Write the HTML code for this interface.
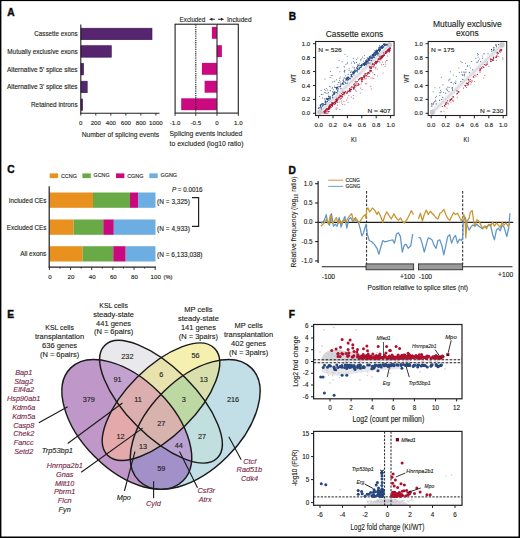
<!DOCTYPE html>
<html><head><meta charset="utf-8"><style>
html,body{margin:0;padding:0;background:#fff;}
body{width:520px;height:538px;overflow:hidden;position:relative;}
svg{position:absolute;left:0;top:0;font-family:"Liberation Sans", sans-serif;}
text{stroke:#231f20;stroke-width:0.13px;}
</style></head><body>
<svg width="520" height="538" viewBox="0 0 520 538">
<rect x="0" y="0" width="520" height="538" fill="#fff"/>
<text x="7.3" y="15.5" font-size="10.2" font-weight="bold" fill="#000" stroke="#000" style="stroke-width:0.45px">A</text>
<text x="77.6" y="36.1" font-size="6.9" text-anchor="end" fill="#231f20" textLength="43.3" lengthAdjust="spacingAndGlyphs">Cassette exons</text>
<text x="77.6" y="54.0" font-size="6.9" text-anchor="end" fill="#231f20" textLength="70.3" lengthAdjust="spacingAndGlyphs">Mutually exclusive exons</text>
<text x="77.6" y="71.6" font-size="6.9" text-anchor="end" fill="#231f20" textLength="70.7" lengthAdjust="spacingAndGlyphs">Alternative 5' splice sites</text>
<text x="77.6" y="89.3" font-size="6.9" text-anchor="end" fill="#231f20" textLength="70.7" lengthAdjust="spacingAndGlyphs">Alternative 3' splice sites</text>
<text x="77.6" y="106.8" font-size="6.9" text-anchor="end" fill="#231f20" textLength="46.6" lengthAdjust="spacingAndGlyphs">Retained introns</text>
<rect x="81" y="28.2" width="71.0" height="11.5" fill="#57246f" stroke="#3b1650" stroke-width="0.6"/>
<rect x="81" y="45.7" width="30.299999999999997" height="11.5" fill="#57246f" stroke="#3b1650" stroke-width="0.6"/>
<rect x="81" y="63.4" width="2.5999999999999943" height="11.5" fill="#57246f" stroke="#3b1650" stroke-width="0.6"/>
<rect x="81" y="81.2" width="6.200000000000003" height="11.5" fill="#57246f" stroke="#3b1650" stroke-width="0.6"/>
<rect x="81" y="99.0" width="1.5999999999999943" height="11.5" fill="#57246f" stroke="#3b1650" stroke-width="0.6"/>
<line x1="80.8" y1="24.5" x2="80.8" y2="113.8" stroke="#231f20" stroke-width="1.1"/>
<line x1="80.3" y1="113.3" x2="159.5" y2="113.3" stroke="#231f20" stroke-width="1.1"/>
<line x1="80.8" y1="113.3" x2="80.8" y2="115.6" stroke="#231f20" stroke-width="0.9"/>
<text x="80.8" y="125.1" font-size="6.1" text-anchor="middle" fill="#231f20">0</text>
<line x1="95.82" y1="113.3" x2="95.82" y2="115.6" stroke="#231f20" stroke-width="0.9"/>
<text x="95.82" y="125.1" font-size="6.1" text-anchor="middle" fill="#231f20">200</text>
<line x1="110.84" y1="113.3" x2="110.84" y2="115.6" stroke="#231f20" stroke-width="0.9"/>
<text x="110.84" y="125.1" font-size="6.1" text-anchor="middle" fill="#231f20">400</text>
<line x1="125.86" y1="113.3" x2="125.86" y2="115.6" stroke="#231f20" stroke-width="0.9"/>
<text x="125.86" y="125.1" font-size="6.1" text-anchor="middle" fill="#231f20">600</text>
<line x1="140.88" y1="113.3" x2="140.88" y2="115.6" stroke="#231f20" stroke-width="0.9"/>
<text x="140.88" y="125.1" font-size="6.1" text-anchor="middle" fill="#231f20">800</text>
<line x1="155.89999999999998" y1="113.3" x2="155.89999999999998" y2="115.6" stroke="#231f20" stroke-width="0.9"/>
<text x="155.89999999999998" y="125.1" font-size="6.1" text-anchor="middle" fill="#231f20">1000</text>
<text x="120.4" y="137.3" font-size="8" text-anchor="middle" fill="#231f20" textLength="77.5" lengthAdjust="spacingAndGlyphs">Number of splicing events</text>
<text x="179.6" y="21.5" font-size="7" fill="#231f20" textLength="25.7" lengthAdjust="spacingAndGlyphs">Excluded</text>
<text x="227" y="21.5" font-size="7" fill="#231f20" textLength="24.6" lengthAdjust="spacingAndGlyphs">Included</text>
<path d="M209,19.25 L212.3,17.7 L212.3,20.8 Z M224.2,19.25 L220.9,17.7 L220.9,20.8 Z" fill="#231f20"/><path d="M211.5,19.25 H214.8 M218.1,19.25 H221.5" stroke="#231f20" stroke-width="1"/>
<rect x="211.9" y="26.9" width="5.0" height="11.9" fill="#cc0a80"/>
<rect x="216.9" y="45.2" width="5.0" height="11.9" fill="#cc0a80"/>
<rect x="201.9" y="62.9" width="15.0" height="11.9" fill="#cc0a80"/>
<rect x="204.6" y="80.8" width="12.300000000000011" height="11.9" fill="#cc0a80"/>
<rect x="181.2" y="98.3" width="35.70000000000002" height="11.9" fill="#cc0a80"/>
<rect x="175.1" y="24.2" width="63.2" height="88.9" fill="none" stroke="#231f20" stroke-width="1.1"/>
<line x1="195.8" y1="24.5" x2="195.8" y2="113" stroke="#231f20" stroke-width="1.1" stroke-dasharray="1.3,0.9"/>
<line x1="217" y1="24.2" x2="217" y2="113.1" stroke="#231f20" stroke-width="1.1"/>
<line x1="175.1" y1="113.1" x2="175.1" y2="115.9" stroke="#231f20" stroke-width="0.9"/>
<text x="175.1" y="125.1" font-size="6.1" text-anchor="middle" fill="#231f20">-1.0</text>
<line x1="195.8" y1="113.1" x2="195.8" y2="115.9" stroke="#231f20" stroke-width="0.9"/>
<text x="195.8" y="125.1" font-size="6.1" text-anchor="middle" fill="#231f20">-0.5</text>
<line x1="217" y1="113.1" x2="217" y2="115.9" stroke="#231f20" stroke-width="0.9"/>
<text x="217" y="125.1" font-size="6.1" text-anchor="middle" fill="#231f20">0</text>
<line x1="238.3" y1="113.1" x2="238.3" y2="115.9" stroke="#231f20" stroke-width="0.9"/>
<text x="238.3" y="125.1" font-size="6.1" text-anchor="middle" fill="#231f20">1.0</text>
<text x="169.6" y="136.3" font-size="8" fill="#231f20" textLength="72.7" lengthAdjust="spacingAndGlyphs">Splicing events included</text>
<text x="169.6" y="145.7" font-size="8" fill="#231f20" textLength="73.9" lengthAdjust="spacingAndGlyphs">to excluded (log10 ratio)</text>
<text x="288.8" y="20.3" font-size="10.2" font-weight="bold" fill="#000" stroke="#000" style="stroke-width:0.45px">B</text>
<clipPath id="clipb1"><rect x="315.6" y="41.5" width="78.5" height="74.0"/></clipPath>
<g clip-path="url(#clipb1)">
<line x1="319.6" y1="112.3" x2="389.6" y2="44.7" stroke="#f1f1f4" stroke-width="5" stroke-linecap="round"/>
<line x1="319.6" y1="112.3" x2="389.6" y2="44.7" stroke="#dcdce2" stroke-width="2.2" stroke-linecap="round"/>
<circle cx="319.8" cy="112.1" r="2.6" fill="#c9c9cf"/><circle cx="389.40000000000003" cy="44.900000000000006" r="2.6" fill="#c9c9cf"/>
<circle cx="384.3" cy="44.8" r="0.6" fill="#23467f"/>
<circle cx="375.2" cy="54.8" r="0.6" fill="#23467f"/>
<circle cx="333.0" cy="94.3" r="0.6" fill="#23467f"/>
<circle cx="347.9" cy="78.2" r="0.6" fill="#23467f"/>
<circle cx="336.7" cy="87.5" r="0.6" fill="#23467f"/>
<circle cx="346.5" cy="79.4" r="0.6" fill="#23467f"/>
<circle cx="373.4" cy="54.5" r="0.6" fill="#23467f"/>
<circle cx="375.6" cy="53.1" r="0.6" fill="#23467f"/>
<circle cx="369.1" cy="59.3" r="0.6" fill="#23467f"/>
<circle cx="363.3" cy="63.7" r="0.6" fill="#23467f"/>
<circle cx="351.5" cy="75.5" r="0.6" fill="#23467f"/>
<circle cx="359.4" cy="67.9" r="0.6" fill="#23467f"/>
<circle cx="371.9" cy="57.3" r="0.6" fill="#23467f"/>
<circle cx="348.8" cy="79.6" r="0.6" fill="#23467f"/>
<circle cx="354.5" cy="72.6" r="0.6" fill="#23467f"/>
<circle cx="357.8" cy="67.0" r="0.6" fill="#23467f"/>
<circle cx="377.5" cy="50.5" r="0.6" fill="#23467f"/>
<circle cx="347.4" cy="78.6" r="0.6" fill="#23467f"/>
<circle cx="377.3" cy="52.2" r="0.6" fill="#23467f"/>
<circle cx="375.4" cy="55.5" r="0.6" fill="#23467f"/>
<circle cx="383.4" cy="47.2" r="0.6" fill="#23467f"/>
<circle cx="364.4" cy="64.3" r="0.6" fill="#23467f"/>
<circle cx="379.9" cy="47.4" r="0.6" fill="#23467f"/>
<circle cx="367.9" cy="61.0" r="0.6" fill="#23467f"/>
<circle cx="343.7" cy="84.2" r="0.6" fill="#23467f"/>
<circle cx="377.4" cy="52.3" r="0.6" fill="#23467f"/>
<circle cx="336.6" cy="88.7" r="0.6" fill="#23467f"/>
<circle cx="357.3" cy="71.8" r="0.6" fill="#23467f"/>
<circle cx="350.9" cy="76.8" r="0.6" fill="#23467f"/>
<circle cx="385.2" cy="44.6" r="0.6" fill="#23467f"/>
<circle cx="321.2" cy="107.5" r="0.6" fill="#23467f"/>
<circle cx="372.1" cy="56.8" r="0.6" fill="#23467f"/>
<circle cx="379.5" cy="50.8" r="0.6" fill="#23467f"/>
<circle cx="369.7" cy="60.0" r="0.6" fill="#23467f"/>
<circle cx="377.1" cy="50.3" r="0.6" fill="#23467f"/>
<circle cx="358.9" cy="69.6" r="0.6" fill="#23467f"/>
<circle cx="384.3" cy="45.1" r="0.6" fill="#23467f"/>
<circle cx="364.2" cy="64.8" r="0.6" fill="#23467f"/>
<circle cx="320.7" cy="104.9" r="0.6" fill="#23467f"/>
<circle cx="364.7" cy="62.7" r="0.6" fill="#23467f"/>
<circle cx="376.2" cy="52.2" r="0.6" fill="#23467f"/>
<circle cx="325.4" cy="100.9" r="0.6" fill="#23467f"/>
<circle cx="374.5" cy="53.0" r="0.6" fill="#23467f"/>
<circle cx="368.1" cy="60.4" r="0.6" fill="#23467f"/>
<circle cx="386.1" cy="44.1" r="0.6" fill="#23467f"/>
<circle cx="333.8" cy="93.8" r="0.6" fill="#23467f"/>
<circle cx="363.3" cy="63.8" r="0.6" fill="#23467f"/>
<circle cx="379.9" cy="47.4" r="0.6" fill="#23467f"/>
<circle cx="327.5" cy="99.1" r="0.6" fill="#23467f"/>
<circle cx="348.2" cy="74.3" r="0.6" fill="#23467f"/>
<circle cx="380.2" cy="50.3" r="0.6" fill="#23467f"/>
<circle cx="378.5" cy="49.4" r="0.6" fill="#23467f"/>
<circle cx="369.5" cy="56.5" r="0.6" fill="#23467f"/>
<circle cx="384.9" cy="44.9" r="0.6" fill="#23467f"/>
<circle cx="364.6" cy="65.4" r="0.6" fill="#23467f"/>
<circle cx="337.0" cy="87.4" r="0.6" fill="#23467f"/>
<circle cx="321.5" cy="108.9" r="0.6" fill="#23467f"/>
<circle cx="362.3" cy="65.0" r="0.6" fill="#23467f"/>
<circle cx="372.9" cy="57.5" r="0.6" fill="#23467f"/>
<circle cx="380.5" cy="49.4" r="0.6" fill="#23467f"/>
<circle cx="379.7" cy="49.0" r="0.6" fill="#23467f"/>
<circle cx="376.5" cy="53.7" r="0.6" fill="#23467f"/>
<circle cx="336.0" cy="87.4" r="0.6" fill="#23467f"/>
<circle cx="370.4" cy="56.0" r="0.6" fill="#23467f"/>
<circle cx="368.9" cy="60.0" r="0.6" fill="#23467f"/>
<circle cx="333.6" cy="92.8" r="0.6" fill="#23467f"/>
<circle cx="354.9" cy="72.2" r="0.6" fill="#23467f"/>
<circle cx="366.6" cy="59.8" r="0.6" fill="#23467f"/>
<circle cx="342.2" cy="83.7" r="0.6" fill="#23467f"/>
<circle cx="347.3" cy="80.8" r="0.6" fill="#23467f"/>
<circle cx="370.1" cy="57.4" r="0.6" fill="#23467f"/>
<circle cx="360.5" cy="67.6" r="0.6" fill="#23467f"/>
<circle cx="376.9" cy="51.7" r="0.6" fill="#23467f"/>
<circle cx="384.7" cy="44.3" r="0.6" fill="#23467f"/>
<circle cx="358.8" cy="68.9" r="0.6" fill="#23467f"/>
<circle cx="345.7" cy="78.8" r="0.6" fill="#23467f"/>
<circle cx="320.4" cy="105.7" r="0.6" fill="#23467f"/>
<circle cx="351.1" cy="74.7" r="0.6" fill="#23467f"/>
<circle cx="348.9" cy="77.9" r="0.6" fill="#23467f"/>
<circle cx="335.9" cy="87.6" r="0.6" fill="#23467f"/>
<circle cx="368.5" cy="58.3" r="0.6" fill="#23467f"/>
<circle cx="347.4" cy="78.3" r="0.6" fill="#23467f"/>
<circle cx="381.5" cy="47.0" r="0.6" fill="#23467f"/>
<circle cx="387.3" cy="44.7" r="0.6" fill="#23467f"/>
<circle cx="343.1" cy="80.5" r="0.6" fill="#23467f"/>
<circle cx="374.4" cy="52.8" r="0.6" fill="#23467f"/>
<circle cx="363.2" cy="64.1" r="0.6" fill="#23467f"/>
<circle cx="345.1" cy="82.3" r="0.6" fill="#23467f"/>
<circle cx="365.6" cy="63.9" r="0.6" fill="#23467f"/>
<circle cx="361.6" cy="64.5" r="0.6" fill="#23467f"/>
<circle cx="378.8" cy="50.4" r="0.6" fill="#23467f"/>
<circle cx="351.3" cy="75.9" r="0.6" fill="#23467f"/>
<circle cx="377.8" cy="53.1" r="0.6" fill="#23467f"/>
<circle cx="369.1" cy="58.6" r="0.6" fill="#23467f"/>
<circle cx="348.1" cy="77.6" r="0.6" fill="#23467f"/>
<circle cx="329.3" cy="96.8" r="0.6" fill="#23467f"/>
<circle cx="371.9" cy="57.4" r="0.6" fill="#23467f"/>
<circle cx="383.9" cy="44.4" r="0.6" fill="#23467f"/>
<circle cx="377.3" cy="52.4" r="0.6" fill="#23467f"/>
<circle cx="328.9" cy="98.4" r="0.6" fill="#23467f"/>
<circle cx="365.2" cy="63.1" r="0.6" fill="#23467f"/>
<circle cx="382.5" cy="45.7" r="0.6" fill="#23467f"/>
<circle cx="384.2" cy="44.0" r="0.6" fill="#23467f"/>
<circle cx="338.1" cy="86.5" r="0.6" fill="#23467f"/>
<circle cx="340.9" cy="84.4" r="0.6" fill="#23467f"/>
<circle cx="347.1" cy="83.1" r="0.6" fill="#23467f"/>
<circle cx="375.7" cy="52.2" r="0.6" fill="#23467f"/>
<circle cx="340.7" cy="85.8" r="0.6" fill="#23467f"/>
<circle cx="338.2" cy="88.9" r="0.6" fill="#23467f"/>
<circle cx="358.9" cy="65.0" r="0.6" fill="#23467f"/>
<circle cx="356.3" cy="70.6" r="0.6" fill="#23467f"/>
<circle cx="367.9" cy="61.6" r="0.6" fill="#23467f"/>
<circle cx="330.5" cy="96.9" r="0.6" fill="#23467f"/>
<circle cx="357.5" cy="68.6" r="0.6" fill="#23467f"/>
<circle cx="376.4" cy="51.7" r="0.6" fill="#23467f"/>
<circle cx="372.5" cy="57.5" r="0.6" fill="#23467f"/>
<circle cx="364.7" cy="64.8" r="0.6" fill="#23467f"/>
<circle cx="366.6" cy="61.3" r="0.6" fill="#23467f"/>
<circle cx="346.7" cy="78.8" r="0.6" fill="#23467f"/>
<circle cx="378.6" cy="50.4" r="0.6" fill="#23467f"/>
<circle cx="375.8" cy="53.0" r="0.6" fill="#23467f"/>
<circle cx="326.0" cy="102.2" r="0.6" fill="#23467f"/>
<circle cx="376.8" cy="54.3" r="0.6" fill="#23467f"/>
<circle cx="369.9" cy="60.4" r="0.6" fill="#23467f"/>
<circle cx="360.1" cy="65.7" r="0.6" fill="#23467f"/>
<circle cx="379.2" cy="49.4" r="0.6" fill="#23467f"/>
<circle cx="385.0" cy="44.1" r="0.6" fill="#23467f"/>
<circle cx="381.9" cy="46.4" r="0.6" fill="#23467f"/>
<circle cx="334.8" cy="93.5" r="0.6" fill="#23467f"/>
<circle cx="380.8" cy="48.4" r="0.6" fill="#23467f"/>
<circle cx="361.0" cy="67.6" r="0.6" fill="#23467f"/>
<circle cx="351.3" cy="74.6" r="0.6" fill="#23467f"/>
<circle cx="377.1" cy="51.0" r="0.6" fill="#23467f"/>
<circle cx="377.2" cy="53.7" r="0.6" fill="#23467f"/>
<circle cx="379.5" cy="45.8" r="0.6" fill="#23467f"/>
<circle cx="352.6" cy="72.9" r="0.6" fill="#23467f"/>
<circle cx="334.4" cy="93.4" r="0.6" fill="#23467f"/>
<circle cx="332.7" cy="97.7" r="0.6" fill="#23467f"/>
<circle cx="346.1" cy="79.0" r="0.6" fill="#23467f"/>
<circle cx="347.7" cy="78.0" r="0.6" fill="#23467f"/>
<circle cx="340.5" cy="86.7" r="0.6" fill="#23467f"/>
<circle cx="371.3" cy="58.4" r="0.6" fill="#23467f"/>
<circle cx="381.5" cy="46.7" r="0.6" fill="#23467f"/>
<circle cx="364.1" cy="64.4" r="0.6" fill="#23467f"/>
<circle cx="328.9" cy="98.0" r="0.6" fill="#23467f"/>
<circle cx="377.3" cy="52.5" r="0.6" fill="#23467f"/>
<circle cx="377.9" cy="51.1" r="0.6" fill="#23467f"/>
<circle cx="356.6" cy="67.8" r="0.6" fill="#23467f"/>
<circle cx="352.3" cy="76.8" r="0.6" fill="#23467f"/>
<circle cx="328.3" cy="98.9" r="0.6" fill="#23467f"/>
<circle cx="369.5" cy="57.2" r="0.6" fill="#23467f"/>
<circle cx="381.1" cy="46.5" r="0.6" fill="#23467f"/>
<circle cx="377.8" cy="55.0" r="0.6" fill="#23467f"/>
<circle cx="323.5" cy="105.0" r="0.6" fill="#23467f"/>
<circle cx="363.6" cy="64.9" r="0.6" fill="#23467f"/>
<circle cx="374.9" cy="54.5" r="0.6" fill="#23467f"/>
<circle cx="353.8" cy="71.3" r="0.6" fill="#23467f"/>
<circle cx="379.8" cy="49.9" r="0.6" fill="#23467f"/>
<circle cx="370.1" cy="58.0" r="0.6" fill="#23467f"/>
<circle cx="334.7" cy="92.1" r="0.6" fill="#23467f"/>
<circle cx="349.5" cy="78.3" r="0.6" fill="#23467f"/>
<circle cx="347.5" cy="78.9" r="0.6" fill="#23467f"/>
<circle cx="369.9" cy="63.0" r="0.6" fill="#23467f"/>
<circle cx="327.6" cy="99.8" r="0.6" fill="#23467f"/>
<circle cx="374.0" cy="54.8" r="0.6" fill="#23467f"/>
<circle cx="385.7" cy="45.5" r="0.6" fill="#23467f"/>
<circle cx="356.8" cy="70.9" r="0.6" fill="#23467f"/>
<circle cx="382.5" cy="47.9" r="0.6" fill="#23467f"/>
<circle cx="325.7" cy="103.1" r="0.6" fill="#23467f"/>
<circle cx="328.6" cy="96.5" r="0.6" fill="#23467f"/>
<circle cx="357.2" cy="70.4" r="0.6" fill="#23467f"/>
<circle cx="352.8" cy="74.3" r="0.6" fill="#23467f"/>
<circle cx="334.5" cy="92.2" r="0.6" fill="#23467f"/>
<circle cx="366.9" cy="60.9" r="0.6" fill="#23467f"/>
<circle cx="365.4" cy="64.5" r="0.6" fill="#23467f"/>
<circle cx="382.4" cy="47.9" r="0.6" fill="#23467f"/>
<circle cx="329.8" cy="98.9" r="0.6" fill="#23467f"/>
<circle cx="368.3" cy="59.6" r="0.6" fill="#23467f"/>
<circle cx="384.3" cy="45.6" r="0.6" fill="#23467f"/>
<circle cx="373.8" cy="57.3" r="0.6" fill="#23467f"/>
<circle cx="379.7" cy="49.6" r="0.6" fill="#23467f"/>
<circle cx="333.8" cy="94.0" r="0.6" fill="#23467f"/>
<circle cx="376.4" cy="50.7" r="0.6" fill="#23467f"/>
<circle cx="382.5" cy="45.8" r="0.6" fill="#23467f"/>
<circle cx="332.8" cy="91.8" r="0.6" fill="#23467f"/>
<circle cx="322.6" cy="104.0" r="0.6" fill="#23467f"/>
<circle cx="382.1" cy="46.8" r="0.6" fill="#23467f"/>
<circle cx="320.1" cy="107.8" r="0.6" fill="#23467f"/>
<circle cx="347.3" cy="77.0" r="0.6" fill="#23467f"/>
<circle cx="322.3" cy="106.0" r="0.6" fill="#23467f"/>
<circle cx="366.3" cy="60.9" r="0.6" fill="#23467f"/>
<circle cx="381.1" cy="46.3" r="0.6" fill="#23467f"/>
<circle cx="381.3" cy="48.1" r="0.6" fill="#23467f"/>
<circle cx="373.9" cy="56.1" r="0.6" fill="#23467f"/>
<circle cx="366.0" cy="62.5" r="0.6" fill="#23467f"/>
<circle cx="335.1" cy="92.1" r="0.6" fill="#23467f"/>
<circle cx="364.8" cy="64.5" r="0.6" fill="#23467f"/>
<circle cx="353.9" cy="75.0" r="0.6" fill="#23467f"/>
<circle cx="383.3" cy="44.3" r="0.6" fill="#23467f"/>
<circle cx="372.6" cy="54.7" r="0.6" fill="#23467f"/>
<circle cx="372.6" cy="55.7" r="0.6" fill="#23467f"/>
<circle cx="348.3" cy="77.1" r="0.6" fill="#23467f"/>
<circle cx="320.8" cy="106.6" r="0.6" fill="#23467f"/>
<circle cx="336.4" cy="92.5" r="0.6" fill="#23467f"/>
<circle cx="337.6" cy="87.6" r="0.6" fill="#23467f"/>
<circle cx="374.3" cy="57.2" r="0.6" fill="#23467f"/>
<circle cx="337.1" cy="92.8" r="0.6" fill="#23467f"/>
<circle cx="336.5" cy="88.1" r="0.6" fill="#23467f"/>
<circle cx="372.0" cy="55.1" r="0.6" fill="#23467f"/>
<circle cx="374.1" cy="53.2" r="0.6" fill="#23467f"/>
<circle cx="366.4" cy="64.8" r="0.6" fill="#23467f"/>
<circle cx="337.9" cy="88.1" r="0.6" fill="#23467f"/>
<circle cx="363.9" cy="63.9" r="0.6" fill="#23467f"/>
<circle cx="332.7" cy="95.8" r="0.6" fill="#23467f"/>
<circle cx="325.8" cy="104.0" r="0.6" fill="#23467f"/>
<circle cx="337.4" cy="90.9" r="0.6" fill="#23467f"/>
<circle cx="324.4" cy="104.3" r="0.6" fill="#23467f"/>
<circle cx="365.7" cy="64.0" r="0.6" fill="#23467f"/>
<circle cx="373.2" cy="54.7" r="0.6" fill="#23467f"/>
<circle cx="378.4" cy="47.9" r="0.6" fill="#23467f"/>
<circle cx="332.4" cy="95.6" r="0.6" fill="#23467f"/>
<circle cx="366.9" cy="63.8" r="0.6" fill="#23467f"/>
<circle cx="350.4" cy="78.7" r="0.6" fill="#23467f"/>
<circle cx="375.1" cy="50.9" r="0.6" fill="#23467f"/>
<circle cx="367.6" cy="62.8" r="0.6" fill="#23467f"/>
<circle cx="336.7" cy="87.8" r="0.6" fill="#23467f"/>
<circle cx="365.7" cy="62.7" r="0.6" fill="#23467f"/>
<circle cx="373.3" cy="56.1" r="0.6" fill="#23467f"/>
<circle cx="322.0" cy="103.5" r="0.6" fill="#23467f"/>
<circle cx="358.0" cy="66.8" r="0.6" fill="#23467f"/>
<circle cx="374.0" cy="54.8" r="0.6" fill="#23467f"/>
<circle cx="371.0" cy="56.0" r="0.6" fill="#23467f"/>
<circle cx="361.9" cy="65.4" r="0.6" fill="#23467f"/>
<circle cx="325.9" cy="101.7" r="0.6" fill="#23467f"/>
<circle cx="354.9" cy="70.5" r="0.6" fill="#23467f"/>
<circle cx="386.5" cy="44.6" r="0.6" fill="#23467f"/>
<circle cx="343.9" cy="81.4" r="0.6" fill="#23467f"/>
<circle cx="365.4" cy="62.1" r="0.6" fill="#23467f"/>
<circle cx="376.4" cy="50.1" r="0.6" fill="#23467f"/>
<circle cx="322.5" cy="104.0" r="0.6" fill="#23467f"/>
<circle cx="372.8" cy="57.1" r="0.6" fill="#23467f"/>
<circle cx="375.4" cy="51.4" r="0.6" fill="#23467f"/>
<circle cx="361.6" cy="66.7" r="0.6" fill="#23467f"/>
<circle cx="357.0" cy="68.5" r="0.6" fill="#23467f"/>
<circle cx="336.9" cy="89.5" r="0.6" fill="#23467f"/>
<circle cx="355.0" cy="71.5" r="0.6" fill="#23467f"/>
<circle cx="354.1" cy="73.6" r="0.6" fill="#23467f"/>
<circle cx="374.1" cy="53.1" r="0.6" fill="#23467f"/>
<circle cx="367.3" cy="61.5" r="0.6" fill="#23467f"/>
<circle cx="327.9" cy="98.7" r="0.6" fill="#23467f"/>
<circle cx="381.7" cy="47.9" r="0.6" fill="#23467f"/>
<circle cx="366.6" cy="63.1" r="0.6" fill="#23467f"/>
<circle cx="370.2" cy="58.9" r="0.6" fill="#23467f"/>
<circle cx="327.2" cy="99.6" r="0.6" fill="#23467f"/>
<circle cx="353.3" cy="72.9" r="0.6" fill="#23467f"/>
<circle cx="384.0" cy="43.9" r="0.6" fill="#23467f"/>
<circle cx="355.1" cy="71.2" r="0.6" fill="#23467f"/>
<circle cx="386.6" cy="45.0" r="0.6" fill="#23467f"/>
<circle cx="348.6" cy="79.3" r="0.6" fill="#23467f"/>
<circle cx="326.6" cy="98.3" r="0.6" fill="#23467f"/>
<circle cx="334.1" cy="94.3" r="0.6" fill="#23467f"/>
<circle cx="343.1" cy="82.3" r="0.6" fill="#23467f"/>
<circle cx="326.1" cy="99.0" r="0.6" fill="#23467f"/>
<circle cx="372.5" cy="54.5" r="0.6" fill="#23467f"/>
<circle cx="348.4" cy="77.4" r="0.6" fill="#23467f"/>
<circle cx="370.1" cy="56.9" r="0.6" fill="#23467f"/>
<circle cx="351.6" cy="76.3" r="0.6" fill="#23467f"/>
<circle cx="328.9" cy="100.2" r="0.6" fill="#23467f"/>
<circle cx="361.6" cy="65.4" r="0.6" fill="#23467f"/>
<circle cx="379.2" cy="50.2" r="0.6" fill="#23467f"/>
<circle cx="377.4" cy="50.5" r="0.6" fill="#23467f"/>
<circle cx="355.0" cy="69.8" r="0.6" fill="#23467f"/>
<circle cx="325.4" cy="104.5" r="0.6" fill="#23467f"/>
<circle cx="353.2" cy="71.4" r="0.6" fill="#23467f"/>
<circle cx="360.4" cy="65.5" r="0.6" fill="#23467f"/>
<circle cx="383.7" cy="46.7" r="0.6" fill="#23467f"/>
<circle cx="382.6" cy="47.8" r="0.6" fill="#23467f"/>
<circle cx="366.4" cy="62.1" r="0.6" fill="#23467f"/>
<circle cx="373.3" cy="54.7" r="0.6" fill="#23467f"/>
<circle cx="384.6" cy="44.6" r="0.6" fill="#23467f"/>
<circle cx="321.7" cy="104.3" r="0.6" fill="#23467f"/>
<circle cx="381.7" cy="47.4" r="0.6" fill="#23467f"/>
<circle cx="325.3" cy="101.7" r="0.6" fill="#23467f"/>
<circle cx="327.5" cy="101.4" r="0.6" fill="#23467f"/>
<circle cx="355.0" cy="70.9" r="0.6" fill="#23467f"/>
<circle cx="342.5" cy="83.2" r="0.6" fill="#23467f"/>
<circle cx="371.6" cy="60.6" r="0.6" fill="#23467f"/>
<circle cx="381.1" cy="47.6" r="0.6" fill="#23467f"/>
<circle cx="340.9" cy="88.6" r="0.6" fill="#23467f"/>
<circle cx="378.2" cy="53.8" r="0.6" fill="#23467f"/>
<circle cx="325.2" cy="102.2" r="0.6" fill="#23467f"/>
<circle cx="318.7" cy="108.4" r="0.6" fill="#23467f"/>
<circle cx="382.4" cy="45.6" r="0.6" fill="#23467f"/>
<circle cx="357.3" cy="69.5" r="0.6" fill="#23467f"/>
<circle cx="380.2" cy="49.4" r="0.6" fill="#23467f"/>
<circle cx="375.7" cy="52.6" r="0.6" fill="#23467f"/>
<circle cx="339.7" cy="86.7" r="0.6" fill="#23467f"/>
<circle cx="345.8" cy="83.4" r="0.6" fill="#23467f"/>
<circle cx="368.8" cy="59.8" r="0.6" fill="#23467f"/>
<circle cx="323.5" cy="103.9" r="0.6" fill="#23467f"/>
<circle cx="353.8" cy="72.6" r="0.6" fill="#23467f"/>
<circle cx="362.0" cy="64.9" r="0.6" fill="#23467f"/>
<circle cx="381.3" cy="46.1" r="0.6" fill="#23467f"/>
<circle cx="342.9" cy="83.6" r="0.6" fill="#23467f"/>
<circle cx="365.7" cy="60.8" r="0.6" fill="#23467f"/>
<circle cx="378.8" cy="53.1" r="0.6" fill="#23467f"/>
<circle cx="379.6" cy="51.5" r="0.6" fill="#23467f"/>
<circle cx="373.9" cy="55.3" r="0.6" fill="#23467f"/>
<circle cx="367.8" cy="58.8" r="0.6" fill="#23467f"/>
<circle cx="375.6" cy="54.3" r="0.6" fill="#23467f"/>
<circle cx="327.0" cy="99.1" r="0.6" fill="#23467f"/>
<circle cx="329.8" cy="97.2" r="0.6" fill="#23467f"/>
<circle cx="360.2" cy="67.1" r="0.6" fill="#23467f"/>
<circle cx="366.0" cy="61.2" r="0.6" fill="#23467f"/>
<circle cx="369.1" cy="58.1" r="0.6" fill="#23467f"/>
<circle cx="327.8" cy="98.7" r="0.6" fill="#23467f"/>
<circle cx="320.7" cy="105.9" r="0.6" fill="#23467f"/>
<circle cx="346.8" cy="77.7" r="0.6" fill="#23467f"/>
<circle cx="364.4" cy="64.8" r="0.6" fill="#23467f"/>
<circle cx="368.2" cy="58.7" r="0.6" fill="#23467f"/>
<circle cx="337.9" cy="90.8" r="0.6" fill="#23467f"/>
<circle cx="363.3" cy="63.6" r="0.6" fill="#23467f"/>
<circle cx="367.0" cy="61.6" r="0.6" fill="#23467f"/>
<circle cx="380.8" cy="47.3" r="0.6" fill="#23467f"/>
<circle cx="364.4" cy="63.4" r="0.6" fill="#23467f"/>
<circle cx="368.4" cy="62.9" r="0.6" fill="#23467f"/>
<circle cx="320.3" cy="104.9" r="0.6" fill="#23467f"/>
<circle cx="322.6" cy="105.8" r="0.6" fill="#23467f"/>
<circle cx="346.0" cy="80.3" r="0.6" fill="#23467f"/>
<circle cx="352.9" cy="72.5" r="0.6" fill="#23467f"/>
<circle cx="348.1" cy="79.8" r="0.6" fill="#23467f"/>
<circle cx="330.4" cy="98.8" r="0.6" fill="#23467f"/>
<circle cx="373.4" cy="55.8" r="0.6" fill="#23467f"/>
<circle cx="353.4" cy="73.5" r="0.6" fill="#23467f"/>
<circle cx="368.0" cy="60.9" r="0.6" fill="#23467f"/>
<circle cx="374.8" cy="55.1" r="0.6" fill="#23467f"/>
<circle cx="376.7" cy="52.5" r="0.6" fill="#23467f"/>
<circle cx="372.9" cy="54.8" r="0.6" fill="#23467f"/>
<circle cx="327.4" cy="99.1" r="0.6" fill="#23467f"/>
<circle cx="384.4" cy="45.1" r="0.6" fill="#23467f"/>
<circle cx="372.2" cy="58.7" r="0.6" fill="#23467f"/>
<circle cx="319.1" cy="107.3" r="0.6" fill="#23467f"/>
<circle cx="342.6" cy="83.9" r="0.6" fill="#23467f"/>
<circle cx="359.5" cy="68.6" r="0.6" fill="#23467f"/>
<circle cx="373.6" cy="53.8" r="0.6" fill="#23467f"/>
<circle cx="379.3" cy="48.5" r="0.6" fill="#23467f"/>
<circle cx="350.7" cy="72.3" r="0.6" fill="#23467f"/>
<circle cx="353.4" cy="72.9" r="0.6" fill="#23467f"/>
<circle cx="331.2" cy="75.5" r="0.5" fill="#4d6488"/>
<circle cx="340.1" cy="77.1" r="0.5" fill="#4d6488"/>
<circle cx="354.3" cy="62.7" r="0.5" fill="#4d6488"/>
<circle cx="362.4" cy="57.1" r="0.5" fill="#4d6488"/>
<circle cx="340.2" cy="81.7" r="0.5" fill="#4d6488"/>
<circle cx="343.3" cy="79.2" r="0.5" fill="#4d6488"/>
<circle cx="324.6" cy="99.1" r="0.5" fill="#4d6488"/>
<circle cx="324.7" cy="98.8" r="0.5" fill="#4d6488"/>
<circle cx="324.4" cy="92.5" r="0.5" fill="#4d6488"/>
<circle cx="334.8" cy="81.0" r="0.5" fill="#4d6488"/>
<circle cx="325.0" cy="79.0" r="0.5" fill="#4d6488"/>
<circle cx="351.6" cy="71.0" r="0.5" fill="#4d6488"/>
<circle cx="357.8" cy="64.2" r="0.5" fill="#4d6488"/>
<circle cx="356.4" cy="62.3" r="0.5" fill="#4d6488"/>
<circle cx="329.7" cy="86.3" r="0.5" fill="#4d6488"/>
<circle cx="328.4" cy="92.2" r="0.5" fill="#4d6488"/>
<circle cx="354.6" cy="63.3" r="0.5" fill="#4d6488"/>
<circle cx="360.8" cy="60.2" r="0.5" fill="#4d6488"/>
<circle cx="330.1" cy="77.4" r="0.5" fill="#4d6488"/>
<circle cx="345.0" cy="54.4" r="0.5" fill="#4d6488"/>
<circle cx="321.3" cy="94.3" r="0.5" fill="#4d6488"/>
<circle cx="334.4" cy="86.1" r="0.5" fill="#4d6488"/>
<circle cx="353.2" cy="58.4" r="0.5" fill="#4d6488"/>
<circle cx="349.1" cy="70.4" r="0.5" fill="#4d6488"/>
<circle cx="339.9" cy="71.7" r="0.5" fill="#4d6488"/>
<circle cx="360.9" cy="59.4" r="0.5" fill="#4d6488"/>
<circle cx="327.4" cy="90.0" r="0.5" fill="#4d6488"/>
<circle cx="334.2" cy="81.7" r="0.5" fill="#4d6488"/>
<circle cx="354.2" cy="68.7" r="0.5" fill="#4d6488"/>
<circle cx="363.5" cy="61.3" r="0.5" fill="#4d6488"/>
<circle cx="338.8" cy="82.6" r="0.5" fill="#4d6488"/>
<circle cx="352.9" cy="66.9" r="0.5" fill="#4d6488"/>
<circle cx="321.1" cy="90.3" r="0.5" fill="#4d6488"/>
<circle cx="342.1" cy="61.7" r="0.5" fill="#4d6488"/>
<circle cx="353.4" cy="61.4" r="0.5" fill="#4d6488"/>
<circle cx="344.0" cy="77.9" r="0.5" fill="#4d6488"/>
<circle cx="357.5" cy="66.4" r="0.5" fill="#4d6488"/>
<circle cx="339.9" cy="78.5" r="0.5" fill="#4d6488"/>
<circle cx="337.9" cy="67.7" r="0.5" fill="#4d6488"/>
<circle cx="356.4" cy="59.5" r="0.5" fill="#4d6488"/>
<circle cx="328.1" cy="92.7" r="0.5" fill="#4d6488"/>
<circle cx="322.5" cy="98.1" r="0.5" fill="#4d6488"/>
<circle cx="323.0" cy="94.3" r="0.5" fill="#4d6488"/>
<circle cx="345.9" cy="64.5" r="0.5" fill="#4d6488"/>
<circle cx="358.5" cy="65.2" r="0.5" fill="#4d6488"/>
<circle cx="364.4" cy="55.6" r="0.5" fill="#4d6488"/>
<circle cx="359.5" cy="63.7" r="0.5" fill="#4d6488"/>
<circle cx="340.6" cy="83.1" r="0.5" fill="#4d6488"/>
<circle cx="350.8" cy="72.1" r="0.5" fill="#4d6488"/>
<circle cx="337.0" cy="67.2" r="0.5" fill="#4d6488"/>
<circle cx="332.2" cy="75.5" r="0.5" fill="#4d6488"/>
<circle cx="367.2" cy="57.4" r="0.5" fill="#4d6488"/>
<circle cx="361.8" cy="58.8" r="0.5" fill="#4d6488"/>
<circle cx="330.1" cy="86.8" r="0.5" fill="#4d6488"/>
<circle cx="347.2" cy="56.2" r="0.5" fill="#4d6488"/>
<circle cx="326.2" cy="88.5" r="0.5" fill="#4d6488"/>
<circle cx="344.5" cy="70.3" r="0.5" fill="#4d6488"/>
<circle cx="358.5" cy="65.5" r="0.5" fill="#4d6488"/>
<circle cx="364.2" cy="58.6" r="0.5" fill="#4d6488"/>
<circle cx="347.1" cy="63.6" r="0.5" fill="#4d6488"/>
<circle cx="349.1" cy="68.8" r="0.5" fill="#4d6488"/>
<circle cx="357.5" cy="65.8" r="0.5" fill="#4d6488"/>
<circle cx="325.5" cy="92.8" r="0.5" fill="#4d6488"/>
<circle cx="344.7" cy="72.7" r="0.5" fill="#4d6488"/>
<circle cx="339.2" cy="60.2" r="0.5" fill="#4d6488"/>
<circle cx="332.1" cy="88.6" r="0.5" fill="#4d6488"/>
<circle cx="319.6" cy="96.5" r="0.5" fill="#4d6488"/>
<circle cx="334.4" cy="87.5" r="0.5" fill="#4d6488"/>
<circle cx="330.4" cy="71.6" r="0.5" fill="#4d6488"/>
<circle cx="347.3" cy="62.3" r="0.5" fill="#4d6488"/>
<circle cx="332.4" cy="82.0" r="0.5" fill="#4d6488"/>
<circle cx="344.6" cy="77.7" r="0.5" fill="#4d6488"/>
<circle cx="339.5" cy="80.2" r="0.5" fill="#4d6488"/>
<circle cx="336.5" cy="79.8" r="0.5" fill="#4d6488"/>
<circle cx="330.2" cy="90.2" r="0.5" fill="#4d6488"/>
<circle cx="325.8" cy="90.2" r="0.5" fill="#4d6488"/>
<circle cx="344.1" cy="71.5" r="0.5" fill="#4d6488"/>
<circle cx="344.4" cy="67.0" r="0.5" fill="#4d6488"/>
<circle cx="354.7" cy="67.4" r="0.5" fill="#4d6488"/>
<circle cx="332.3" cy="87.4" r="0.5" fill="#4d6488"/>
<circle cx="337.8" cy="84.5" r="0.5" fill="#4d6488"/>
<circle cx="324.5" cy="89.2" r="0.5" fill="#4d6488"/>
<circle cx="328.8" cy="95.0" r="0.5" fill="#4d6488"/>
<circle cx="356.2" cy="62.6" r="0.5" fill="#4d6488"/>
<circle cx="345.7" cy="75.7" r="0.5" fill="#4d6488"/>
<circle cx="357.8" cy="58.0" r="0.5" fill="#4d6488"/>
<circle cx="344.7" cy="71.2" r="0.5" fill="#4d6488"/>
<circle cx="330.3" cy="90.7" r="0.5" fill="#4d6488"/>
<circle cx="344.0" cy="66.3" r="0.5" fill="#4d6488"/>
<circle cx="321.7" cy="94.5" r="0.5" fill="#4d6488"/>
<circle cx="351.5" cy="63.0" r="0.5" fill="#4d6488"/>
<circle cx="345.0" cy="70.3" r="0.5" fill="#4d6488"/>
<circle cx="327.0" cy="93.4" r="0.5" fill="#4d6488"/>
<circle cx="333.4" cy="89.8" r="0.5" fill="#4d6488"/>
<circle cx="338.7" cy="82.6" r="0.5" fill="#4d6488"/>
<circle cx="357.2" cy="85.5" r="0.6" fill="#a8122f"/>
<circle cx="352.5" cy="87.0" r="0.6" fill="#a8122f"/>
<circle cx="371.3" cy="66.1" r="0.6" fill="#a8122f"/>
<circle cx="351.6" cy="86.9" r="0.6" fill="#a8122f"/>
<circle cx="361.6" cy="79.0" r="0.6" fill="#a8122f"/>
<circle cx="385.8" cy="53.1" r="0.6" fill="#a8122f"/>
<circle cx="355.2" cy="85.5" r="0.6" fill="#a8122f"/>
<circle cx="369.8" cy="70.2" r="0.6" fill="#a8122f"/>
<circle cx="362.1" cy="77.6" r="0.6" fill="#a8122f"/>
<circle cx="327.7" cy="108.7" r="0.6" fill="#a8122f"/>
<circle cx="364.2" cy="76.1" r="0.6" fill="#a8122f"/>
<circle cx="356.9" cy="84.0" r="0.6" fill="#a8122f"/>
<circle cx="375.2" cy="63.1" r="0.6" fill="#a8122f"/>
<circle cx="326.3" cy="111.2" r="0.6" fill="#a8122f"/>
<circle cx="335.2" cy="103.7" r="0.6" fill="#a8122f"/>
<circle cx="375.0" cy="62.4" r="0.6" fill="#a8122f"/>
<circle cx="358.3" cy="79.9" r="0.6" fill="#a8122f"/>
<circle cx="370.5" cy="70.3" r="0.6" fill="#a8122f"/>
<circle cx="324.9" cy="110.8" r="0.6" fill="#a8122f"/>
<circle cx="349.6" cy="88.6" r="0.6" fill="#a8122f"/>
<circle cx="327.9" cy="108.6" r="0.6" fill="#a8122f"/>
<circle cx="361.9" cy="81.7" r="0.6" fill="#a8122f"/>
<circle cx="338.3" cy="97.9" r="0.6" fill="#a8122f"/>
<circle cx="331.6" cy="102.9" r="0.6" fill="#a8122f"/>
<circle cx="374.5" cy="65.0" r="0.6" fill="#a8122f"/>
<circle cx="381.1" cy="58.0" r="0.6" fill="#a8122f"/>
<circle cx="371.5" cy="70.7" r="0.6" fill="#a8122f"/>
<circle cx="349.8" cy="91.7" r="0.6" fill="#a8122f"/>
<circle cx="351.0" cy="87.8" r="0.6" fill="#a8122f"/>
<circle cx="344.1" cy="93.3" r="0.6" fill="#a8122f"/>
<circle cx="358.4" cy="84.9" r="0.6" fill="#a8122f"/>
<circle cx="362.7" cy="77.5" r="0.6" fill="#a8122f"/>
<circle cx="342.8" cy="92.1" r="0.6" fill="#a8122f"/>
<circle cx="389.3" cy="50.2" r="0.6" fill="#a8122f"/>
<circle cx="378.5" cy="59.3" r="0.6" fill="#a8122f"/>
<circle cx="336.5" cy="100.2" r="0.6" fill="#a8122f"/>
<circle cx="355.0" cy="87.1" r="0.6" fill="#a8122f"/>
<circle cx="356.1" cy="81.7" r="0.6" fill="#a8122f"/>
<circle cx="365.8" cy="73.9" r="0.6" fill="#a8122f"/>
<circle cx="370.2" cy="67.9" r="0.6" fill="#a8122f"/>
<circle cx="354.6" cy="83.9" r="0.6" fill="#a8122f"/>
<circle cx="382.7" cy="57.1" r="0.6" fill="#a8122f"/>
<circle cx="383.6" cy="55.9" r="0.6" fill="#a8122f"/>
<circle cx="386.4" cy="51.5" r="0.6" fill="#a8122f"/>
<circle cx="326.7" cy="109.8" r="0.6" fill="#a8122f"/>
<circle cx="351.5" cy="89.6" r="0.6" fill="#a8122f"/>
<circle cx="329.4" cy="105.5" r="0.6" fill="#a8122f"/>
<circle cx="367.5" cy="72.8" r="0.6" fill="#a8122f"/>
<circle cx="371.5" cy="68.3" r="0.6" fill="#a8122f"/>
<circle cx="354.2" cy="86.8" r="0.6" fill="#a8122f"/>
<circle cx="359.4" cy="78.7" r="0.6" fill="#a8122f"/>
<circle cx="326.8" cy="109.4" r="0.6" fill="#a8122f"/>
<circle cx="354.4" cy="86.9" r="0.6" fill="#a8122f"/>
<circle cx="375.7" cy="63.3" r="0.6" fill="#a8122f"/>
<circle cx="328.7" cy="106.5" r="0.6" fill="#a8122f"/>
<circle cx="343.4" cy="94.2" r="0.6" fill="#a8122f"/>
<circle cx="367.6" cy="74.2" r="0.6" fill="#a8122f"/>
<circle cx="368.2" cy="73.0" r="0.6" fill="#a8122f"/>
<circle cx="332.8" cy="103.1" r="0.6" fill="#a8122f"/>
<circle cx="331.2" cy="107.2" r="0.6" fill="#a8122f"/>
<circle cx="389.3" cy="51.2" r="0.6" fill="#a8122f"/>
<circle cx="388.4" cy="50.9" r="0.6" fill="#a8122f"/>
<circle cx="390.4" cy="48.8" r="0.6" fill="#a8122f"/>
<circle cx="337.0" cy="100.8" r="0.6" fill="#a8122f"/>
<circle cx="329.4" cy="107.7" r="0.6" fill="#a8122f"/>
<circle cx="355.6" cy="85.0" r="0.6" fill="#a8122f"/>
<circle cx="365.0" cy="76.2" r="0.6" fill="#a8122f"/>
<circle cx="347.1" cy="93.0" r="0.6" fill="#a8122f"/>
<circle cx="329.0" cy="107.9" r="0.6" fill="#a8122f"/>
<circle cx="349.4" cy="90.4" r="0.6" fill="#a8122f"/>
<circle cx="347.6" cy="91.0" r="0.6" fill="#a8122f"/>
<circle cx="334.4" cy="102.6" r="0.6" fill="#a8122f"/>
<circle cx="332.0" cy="104.6" r="0.6" fill="#a8122f"/>
<circle cx="338.7" cy="98.0" r="0.6" fill="#a8122f"/>
<circle cx="344.1" cy="92.2" r="0.6" fill="#a8122f"/>
<circle cx="336.9" cy="98.9" r="0.6" fill="#a8122f"/>
<circle cx="383.6" cy="52.9" r="0.6" fill="#a8122f"/>
<circle cx="324.1" cy="111.2" r="0.6" fill="#a8122f"/>
<circle cx="370.7" cy="71.2" r="0.6" fill="#a8122f"/>
<circle cx="359.8" cy="78.5" r="0.6" fill="#a8122f"/>
<circle cx="384.0" cy="54.4" r="0.6" fill="#a8122f"/>
<circle cx="387.3" cy="50.4" r="0.6" fill="#a8122f"/>
<circle cx="363.8" cy="77.2" r="0.6" fill="#a8122f"/>
<circle cx="382.0" cy="57.2" r="0.6" fill="#a8122f"/>
<circle cx="329.6" cy="106.0" r="0.6" fill="#a8122f"/>
<circle cx="369.8" cy="66.3" r="0.6" fill="#a8122f"/>
<circle cx="333.8" cy="104.0" r="0.6" fill="#a8122f"/>
<circle cx="389.1" cy="49.4" r="0.6" fill="#a8122f"/>
<circle cx="332.5" cy="103.1" r="0.6" fill="#a8122f"/>
<circle cx="377.5" cy="61.2" r="0.6" fill="#a8122f"/>
<circle cx="364.9" cy="75.3" r="0.6" fill="#a8122f"/>
<circle cx="323.1" cy="112.9" r="0.6" fill="#a8122f"/>
<circle cx="369.1" cy="73.4" r="0.6" fill="#a8122f"/>
<circle cx="326.4" cy="113.0" r="0.6" fill="#a8122f"/>
<circle cx="373.9" cy="66.9" r="0.6" fill="#a8122f"/>
<circle cx="389.7" cy="48.7" r="0.6" fill="#a8122f"/>
<circle cx="363.6" cy="75.9" r="0.6" fill="#a8122f"/>
<circle cx="340.1" cy="95.8" r="0.6" fill="#a8122f"/>
<circle cx="330.0" cy="107.0" r="0.6" fill="#a8122f"/>
<circle cx="379.9" cy="56.6" r="0.6" fill="#a8122f"/>
<circle cx="328.1" cy="109.4" r="0.6" fill="#a8122f"/>
<circle cx="360.9" cy="77.6" r="0.6" fill="#a8122f"/>
<circle cx="331.8" cy="104.3" r="0.6" fill="#a8122f"/>
<circle cx="327.7" cy="111.1" r="0.6" fill="#a8122f"/>
<circle cx="347.3" cy="92.3" r="0.6" fill="#a8122f"/>
<circle cx="375.6" cy="61.3" r="0.6" fill="#a8122f"/>
<circle cx="331.8" cy="105.3" r="0.6" fill="#a8122f"/>
<circle cx="387.8" cy="50.2" r="0.6" fill="#a8122f"/>
<circle cx="382.2" cy="56.5" r="0.6" fill="#a8122f"/>
<circle cx="335.8" cy="101.4" r="0.6" fill="#a8122f"/>
<circle cx="325.3" cy="111.7" r="0.6" fill="#a8122f"/>
<circle cx="381.1" cy="58.9" r="0.6" fill="#a8122f"/>
<circle cx="390.0" cy="47.7" r="0.6" fill="#a8122f"/>
<circle cx="331.8" cy="105.3" r="0.6" fill="#a8122f"/>
<circle cx="381.0" cy="58.3" r="0.6" fill="#a8122f"/>
<circle cx="344.7" cy="93.2" r="0.6" fill="#a8122f"/>
<circle cx="324.6" cy="112.2" r="0.6" fill="#a8122f"/>
<circle cx="387.9" cy="51.2" r="0.6" fill="#a8122f"/>
<circle cx="377.0" cy="61.7" r="0.6" fill="#a8122f"/>
<circle cx="336.3" cy="101.7" r="0.6" fill="#a8122f"/>
<circle cx="328.9" cy="108.7" r="0.6" fill="#a8122f"/>
<circle cx="337.2" cy="102.3" r="0.6" fill="#a8122f"/>
<circle cx="376.8" cy="61.6" r="0.6" fill="#a8122f"/>
<circle cx="338.0" cy="99.4" r="0.6" fill="#a8122f"/>
<circle cx="353.5" cy="88.2" r="0.6" fill="#a8122f"/>
<circle cx="342.6" cy="97.0" r="0.6" fill="#a8122f"/>
<circle cx="351.1" cy="89.3" r="0.6" fill="#a8122f"/>
<circle cx="329.5" cy="106.9" r="0.6" fill="#a8122f"/>
<circle cx="335.8" cy="99.5" r="0.6" fill="#a8122f"/>
<circle cx="372.9" cy="66.3" r="0.6" fill="#a8122f"/>
<circle cx="341.5" cy="98.0" r="0.6" fill="#a8122f"/>
<circle cx="354.1" cy="88.8" r="0.6" fill="#a8122f"/>
<circle cx="328.6" cy="107.6" r="0.6" fill="#a8122f"/>
<circle cx="329.2" cy="108.2" r="0.6" fill="#a8122f"/>
<circle cx="330.1" cy="104.7" r="0.6" fill="#a8122f"/>
<circle cx="383.2" cy="56.2" r="0.6" fill="#a8122f"/>
<circle cx="356.0" cy="83.0" r="0.6" fill="#a8122f"/>
<circle cx="368.5" cy="72.6" r="0.6" fill="#a8122f"/>
<circle cx="362.0" cy="78.8" r="0.6" fill="#a8122f"/>
<circle cx="368.7" cy="72.3" r="0.6" fill="#a8122f"/>
<circle cx="390.1" cy="50.6" r="0.6" fill="#a8122f"/>
<circle cx="333.3" cy="103.0" r="0.6" fill="#a8122f"/>
<circle cx="332.2" cy="104.7" r="0.6" fill="#a8122f"/>
<circle cx="327.1" cy="109.9" r="0.6" fill="#a8122f"/>
<circle cx="388.1" cy="50.7" r="0.6" fill="#a8122f"/>
<circle cx="382.8" cy="55.4" r="0.6" fill="#a8122f"/>
<circle cx="324.7" cy="111.5" r="0.6" fill="#a8122f"/>
<circle cx="373.3" cy="64.6" r="0.6" fill="#a8122f"/>
<circle cx="353.7" cy="84.3" r="0.6" fill="#a8122f"/>
<circle cx="369.7" cy="71.9" r="0.6" fill="#a8122f"/>
<circle cx="364.2" cy="77.2" r="0.6" fill="#a8122f"/>
<circle cx="373.1" cy="63.6" r="0.6" fill="#a8122f"/>
<circle cx="389.3" cy="51.9" r="0.6" fill="#a8122f"/>
<circle cx="365.0" cy="73.6" r="0.6" fill="#a8122f"/>
<circle cx="325.4" cy="110.3" r="0.6" fill="#a8122f"/>
<circle cx="348.0" cy="91.5" r="0.6" fill="#a8122f"/>
<circle cx="353.6" cy="88.8" r="0.6" fill="#a8122f"/>
<circle cx="342.5" cy="94.4" r="0.6" fill="#a8122f"/>
<circle cx="324.9" cy="113.0" r="0.6" fill="#a8122f"/>
<circle cx="364.4" cy="76.8" r="0.6" fill="#a8122f"/>
<circle cx="331.7" cy="105.4" r="0.6" fill="#a8122f"/>
<circle cx="350.9" cy="89.3" r="0.6" fill="#a8122f"/>
<circle cx="389.3" cy="50.6" r="0.6" fill="#a8122f"/>
<circle cx="388.3" cy="49.5" r="0.6" fill="#a8122f"/>
<circle cx="361.0" cy="78.8" r="0.6" fill="#a8122f"/>
<circle cx="380.3" cy="57.6" r="0.6" fill="#a8122f"/>
<circle cx="328.4" cy="109.5" r="0.6" fill="#a8122f"/>
<circle cx="350.7" cy="89.5" r="0.6" fill="#a8122f"/>
<circle cx="324.7" cy="112.8" r="0.6" fill="#a8122f"/>
<circle cx="336.7" cy="99.5" r="0.6" fill="#a8122f"/>
<circle cx="337.0" cy="98.2" r="0.6" fill="#a8122f"/>
<circle cx="330.1" cy="105.0" r="0.6" fill="#a8122f"/>
<circle cx="390.1" cy="48.0" r="0.6" fill="#a8122f"/>
<circle cx="330.3" cy="106.4" r="0.6" fill="#a8122f"/>
<circle cx="331.7" cy="105.4" r="0.6" fill="#a8122f"/>
<circle cx="373.3" cy="66.0" r="0.6" fill="#a8122f"/>
<circle cx="382.1" cy="57.1" r="0.6" fill="#a8122f"/>
<circle cx="362.7" cy="79.4" r="0.6" fill="#a8122f"/>
<circle cx="378.2" cy="59.5" r="0.6" fill="#a8122f"/>
<circle cx="324.0" cy="111.6" r="0.6" fill="#a8122f"/>
<circle cx="326.4" cy="108.6" r="0.6" fill="#a8122f"/>
<circle cx="330.6" cy="106.8" r="0.6" fill="#a8122f"/>
<circle cx="334.1" cy="102.4" r="0.6" fill="#a8122f"/>
<circle cx="354.2" cy="85.5" r="0.6" fill="#a8122f"/>
<circle cx="389.2" cy="49.5" r="0.6" fill="#a8122f"/>
<circle cx="331.0" cy="105.2" r="0.6" fill="#a8122f"/>
<circle cx="382.1" cy="55.5" r="0.6" fill="#a8122f"/>
<circle cx="376.4" cy="61.5" r="0.6" fill="#a8122f"/>
<circle cx="382.3" cy="57.3" r="0.6" fill="#a8122f"/>
<circle cx="355.2" cy="81.8" r="0.6" fill="#a8122f"/>
<circle cx="353.7" cy="87.4" r="0.6" fill="#a8122f"/>
<circle cx="375.2" cy="63.3" r="0.6" fill="#a8122f"/>
<circle cx="381.7" cy="56.7" r="0.6" fill="#a8122f"/>
<circle cx="389.4" cy="50.0" r="0.6" fill="#a8122f"/>
<circle cx="369.6" cy="67.4" r="0.6" fill="#a8122f"/>
<circle cx="381.7" cy="57.0" r="0.6" fill="#a8122f"/>
<circle cx="370.7" cy="67.0" r="0.6" fill="#a8122f"/>
<circle cx="386.4" cy="51.0" r="0.6" fill="#a8122f"/>
<circle cx="376.7" cy="62.5" r="0.6" fill="#a8122f"/>
<circle cx="340.5" cy="96.5" r="0.6" fill="#a8122f"/>
<circle cx="387.7" cy="51.8" r="0.6" fill="#a8122f"/>
<circle cx="361.4" cy="79.9" r="0.6" fill="#a8122f"/>
<circle cx="370.1" cy="68.1" r="0.6" fill="#a8122f"/>
<circle cx="344.2" cy="94.8" r="0.6" fill="#a8122f"/>
<circle cx="350.1" cy="89.4" r="0.6" fill="#a8122f"/>
<circle cx="329.1" cy="111.3" r="0.6" fill="#a8122f"/>
<circle cx="361.7" cy="77.8" r="0.6" fill="#a8122f"/>
<circle cx="380.3" cy="59.8" r="0.6" fill="#a8122f"/>
<circle cx="372.5" cy="63.9" r="0.6" fill="#a8122f"/>
<circle cx="385.5" cy="51.5" r="0.6" fill="#a8122f"/>
<circle cx="328.4" cy="111.7" r="0.6" fill="#a8122f"/>
<circle cx="332.0" cy="105.2" r="0.6" fill="#a8122f"/>
<circle cx="384.9" cy="53.1" r="0.6" fill="#a8122f"/>
<circle cx="357.3" cy="81.6" r="0.6" fill="#a8122f"/>
<circle cx="348.6" cy="91.1" r="0.6" fill="#a8122f"/>
<circle cx="333.2" cy="103.5" r="0.6" fill="#a8122f"/>
<circle cx="333.6" cy="103.7" r="0.6" fill="#a8122f"/>
<circle cx="345.6" cy="91.7" r="0.6" fill="#a8122f"/>
<circle cx="379.0" cy="61.3" r="0.6" fill="#a8122f"/>
<circle cx="336.5" cy="99.8" r="0.6" fill="#a8122f"/>
<circle cx="340.1" cy="95.4" r="0.6" fill="#a8122f"/>
<circle cx="344.2" cy="92.6" r="0.6" fill="#a8122f"/>
<circle cx="341.7" cy="93.6" r="0.6" fill="#a8122f"/>
<circle cx="324.9" cy="112.8" r="0.6" fill="#a8122f"/>
<circle cx="388.8" cy="48.9" r="0.6" fill="#a8122f"/>
<circle cx="335.8" cy="101.7" r="0.6" fill="#a8122f"/>
<circle cx="388.5" cy="50.4" r="0.6" fill="#a8122f"/>
<circle cx="325.9" cy="109.7" r="0.6" fill="#a8122f"/>
<circle cx="362.2" cy="78.6" r="0.6" fill="#a8122f"/>
<circle cx="334.7" cy="104.5" r="0.6" fill="#a8122f"/>
<circle cx="350.1" cy="90.3" r="0.6" fill="#a8122f"/>
<circle cx="332.0" cy="105.3" r="0.6" fill="#a8122f"/>
<circle cx="330.3" cy="108.0" r="0.6" fill="#a8122f"/>
<circle cx="385.5" cy="53.4" r="0.6" fill="#a8122f"/>
<circle cx="336.2" cy="100.3" r="0.6" fill="#a8122f"/>
<circle cx="335.4" cy="103.5" r="0.6" fill="#a8122f"/>
<circle cx="378.9" cy="58.4" r="0.6" fill="#a8122f"/>
<circle cx="342.0" cy="95.1" r="0.6" fill="#a8122f"/>
<circle cx="359.7" cy="78.7" r="0.6" fill="#a8122f"/>
<circle cx="336.2" cy="99.7" r="0.6" fill="#a8122f"/>
<circle cx="379.6" cy="58.0" r="0.6" fill="#a8122f"/>
<circle cx="329.2" cy="108.6" r="0.6" fill="#a8122f"/>
<circle cx="336.9" cy="100.4" r="0.6" fill="#a8122f"/>
<circle cx="367.0" cy="76.5" r="0.6" fill="#a8122f"/>
<circle cx="344.6" cy="92.3" r="0.6" fill="#a8122f"/>
<circle cx="384.3" cy="55.4" r="0.6" fill="#a8122f"/>
<circle cx="386.7" cy="52.7" r="0.6" fill="#a8122f"/>
<circle cx="332.0" cy="104.4" r="0.6" fill="#a8122f"/>
<circle cx="384.3" cy="55.1" r="0.6" fill="#a8122f"/>
<circle cx="371.0" cy="71.1" r="0.6" fill="#a8122f"/>
<circle cx="386.5" cy="52.8" r="0.6" fill="#a8122f"/>
<circle cx="336.9" cy="99.6" r="0.6" fill="#a8122f"/>
<circle cx="339.4" cy="97.6" r="0.6" fill="#a8122f"/>
<circle cx="350.5" cy="91.2" r="0.6" fill="#a8122f"/>
<circle cx="372.3" cy="64.4" r="0.6" fill="#a8122f"/>
<circle cx="365.0" cy="74.8" r="0.6" fill="#a8122f"/>
<circle cx="332.5" cy="103.1" r="0.6" fill="#a8122f"/>
<circle cx="390.1" cy="48.5" r="0.6" fill="#a8122f"/>
<circle cx="353.7" cy="88.9" r="0.6" fill="#a8122f"/>
<circle cx="346.8" cy="93.3" r="0.6" fill="#a8122f"/>
<circle cx="336.9" cy="100.8" r="0.6" fill="#a8122f"/>
<circle cx="341.7" cy="96.1" r="0.6" fill="#a8122f"/>
<circle cx="377.0" cy="62.3" r="0.6" fill="#a8122f"/>
<circle cx="329.0" cy="108.7" r="0.6" fill="#a8122f"/>
<circle cx="380.4" cy="58.7" r="0.6" fill="#a8122f"/>
<circle cx="381.7" cy="56.8" r="0.6" fill="#a8122f"/>
<circle cx="332.3" cy="106.3" r="0.6" fill="#a8122f"/>
<circle cx="325.6" cy="113.0" r="0.6" fill="#a8122f"/>
<circle cx="381.8" cy="58.3" r="0.6" fill="#a8122f"/>
<circle cx="343.5" cy="92.8" r="0.6" fill="#a8122f"/>
<circle cx="340.3" cy="99.0" r="0.6" fill="#a8122f"/>
<circle cx="341.9" cy="96.1" r="0.6" fill="#a8122f"/>
<circle cx="366.4" cy="75.4" r="0.6" fill="#a8122f"/>
<circle cx="340.1" cy="97.9" r="0.6" fill="#a8122f"/>
<circle cx="359.0" cy="79.7" r="0.6" fill="#a8122f"/>
<circle cx="331.1" cy="104.6" r="0.6" fill="#a8122f"/>
<circle cx="340.0" cy="96.4" r="0.6" fill="#a8122f"/>
<circle cx="374.6" cy="64.5" r="0.6" fill="#a8122f"/>
<circle cx="329.5" cy="109.1" r="0.6" fill="#a8122f"/>
<circle cx="383.0" cy="56.0" r="0.6" fill="#a8122f"/>
<circle cx="371.6" cy="67.7" r="0.6" fill="#a8122f"/>
<circle cx="332.1" cy="103.1" r="0.6" fill="#a8122f"/>
<circle cx="358.2" cy="83.7" r="0.6" fill="#a8122f"/>
<circle cx="388.2" cy="49.4" r="0.6" fill="#a8122f"/>
<circle cx="362.2" cy="79.9" r="0.6" fill="#a8122f"/>
<circle cx="381.1" cy="58.0" r="0.6" fill="#a8122f"/>
<circle cx="377.5" cy="61.5" r="0.6" fill="#a8122f"/>
<circle cx="378.8" cy="59.2" r="0.6" fill="#a8122f"/>
<circle cx="370.9" cy="68.1" r="0.6" fill="#a8122f"/>
<circle cx="342.2" cy="96.4" r="0.6" fill="#a8122f"/>
<circle cx="382.5" cy="56.1" r="0.6" fill="#a8122f"/>
<circle cx="335.0" cy="101.0" r="0.6" fill="#a8122f"/>
<circle cx="380.2" cy="56.2" r="0.6" fill="#a8122f"/>
<circle cx="388.4" cy="49.3" r="0.6" fill="#a8122f"/>
<circle cx="379.1" cy="59.4" r="0.6" fill="#a8122f"/>
<circle cx="337.2" cy="100.8" r="0.6" fill="#a8122f"/>
<circle cx="325.2" cy="110.8" r="0.6" fill="#a8122f"/>
<circle cx="349.8" cy="89.7" r="0.6" fill="#a8122f"/>
<circle cx="388.8" cy="49.8" r="0.6" fill="#a8122f"/>
<circle cx="329.7" cy="106.2" r="0.6" fill="#a8122f"/>
<circle cx="377.7" cy="60.0" r="0.6" fill="#a8122f"/>
<circle cx="336.8" cy="100.2" r="0.6" fill="#a8122f"/>
<circle cx="376.4" cy="63.7" r="0.6" fill="#a8122f"/>
<circle cx="356.1" cy="86.0" r="0.6" fill="#a8122f"/>
<circle cx="375.5" cy="62.8" r="0.6" fill="#a8122f"/>
<circle cx="338.7" cy="97.1" r="0.6" fill="#a8122f"/>
<circle cx="335.2" cy="102.4" r="0.6" fill="#a8122f"/>
<circle cx="385.6" cy="52.7" r="0.6" fill="#a8122f"/>
<circle cx="382.0" cy="55.8" r="0.6" fill="#a8122f"/>
<circle cx="383.1" cy="55.5" r="0.6" fill="#a8122f"/>
<circle cx="345.8" cy="92.1" r="0.6" fill="#a8122f"/>
<circle cx="367.0" cy="73.3" r="0.6" fill="#a8122f"/>
<circle cx="362.0" cy="81.6" r="0.6" fill="#a8122f"/>
<circle cx="327.8" cy="113.2" r="0.6" fill="#a8122f"/>
<circle cx="379.9" cy="62.8" r="0.5" fill="#b0415a"/>
<circle cx="358.8" cy="84.7" r="0.5" fill="#b0415a"/>
<circle cx="370.8" cy="86.3" r="0.5" fill="#b0415a"/>
<circle cx="344.9" cy="104.8" r="0.5" fill="#b0415a"/>
<circle cx="375.9" cy="67.5" r="0.5" fill="#b0415a"/>
<circle cx="371.0" cy="78.1" r="0.5" fill="#b0415a"/>
<circle cx="336.0" cy="107.9" r="0.5" fill="#b0415a"/>
<circle cx="353.4" cy="98.3" r="0.5" fill="#b0415a"/>
<circle cx="365.6" cy="78.8" r="0.5" fill="#b0415a"/>
<circle cx="341.7" cy="103.1" r="0.5" fill="#b0415a"/>
<circle cx="372.7" cy="78.1" r="0.5" fill="#b0415a"/>
<circle cx="374.4" cy="74.5" r="0.5" fill="#b0415a"/>
<circle cx="368.4" cy="76.8" r="0.5" fill="#b0415a"/>
<circle cx="366.9" cy="83.8" r="0.5" fill="#b0415a"/>
<circle cx="346.8" cy="100.0" r="0.5" fill="#b0415a"/>
<circle cx="337.5" cy="104.9" r="0.5" fill="#b0415a"/>
<circle cx="364.4" cy="78.7" r="0.5" fill="#b0415a"/>
<circle cx="350.7" cy="91.6" r="0.5" fill="#b0415a"/>
<circle cx="343.9" cy="101.2" r="0.5" fill="#b0415a"/>
<circle cx="383.3" cy="64.6" r="0.5" fill="#b0415a"/>
<circle cx="372.8" cy="72.7" r="0.5" fill="#b0415a"/>
<circle cx="364.3" cy="77.9" r="0.5" fill="#b0415a"/>
<circle cx="366.8" cy="78.7" r="0.5" fill="#b0415a"/>
<circle cx="348.9" cy="95.8" r="0.5" fill="#b0415a"/>
<circle cx="386.3" cy="60.5" r="0.5" fill="#b0415a"/>
<circle cx="337.1" cy="108.1" r="0.5" fill="#b0415a"/>
<circle cx="361.2" cy="84.1" r="0.5" fill="#b0415a"/>
<circle cx="358.1" cy="85.1" r="0.5" fill="#b0415a"/>
<circle cx="377.3" cy="69.0" r="0.5" fill="#b0415a"/>
<circle cx="339.9" cy="109.5" r="0.5" fill="#b0415a"/>
<circle cx="362.0" cy="89.5" r="0.5" fill="#b0415a"/>
<circle cx="381.6" cy="64.7" r="0.5" fill="#b0415a"/>
<circle cx="385.6" cy="62.1" r="0.5" fill="#b0415a"/>
<circle cx="387.8" cy="55.9" r="0.5" fill="#b0415a"/>
<circle cx="387.1" cy="60.3" r="0.5" fill="#b0415a"/>
<circle cx="355.6" cy="90.0" r="0.5" fill="#b0415a"/>
<circle cx="347.8" cy="97.9" r="0.5" fill="#b0415a"/>
<circle cx="351.3" cy="97.1" r="0.5" fill="#b0415a"/>
<circle cx="371.2" cy="88.9" r="0.5" fill="#b0415a"/>
<circle cx="342.6" cy="104.4" r="0.5" fill="#b0415a"/>
<circle cx="383.0" cy="73.1" r="0.5" fill="#b0415a"/>
<circle cx="336.2" cy="109.2" r="0.5" fill="#b0415a"/>
<circle cx="377.4" cy="76.0" r="0.5" fill="#b0415a"/>
<circle cx="374.8" cy="74.8" r="0.5" fill="#b0415a"/>
<circle cx="360.3" cy="93.0" r="0.5" fill="#b0415a"/>
<circle cx="359.7" cy="84.5" r="0.5" fill="#b0415a"/>
<circle cx="385.2" cy="66.5" r="0.5" fill="#b0415a"/>
<circle cx="373.8" cy="78.4" r="0.5" fill="#b0415a"/>
<circle cx="382.7" cy="61.9" r="0.5" fill="#b0415a"/>
<circle cx="365.3" cy="83.7" r="0.5" fill="#b0415a"/>
<circle cx="339.3" cy="102.1" r="0.5" fill="#b0415a"/>
<circle cx="348.0" cy="102.3" r="0.5" fill="#b0415a"/>
<circle cx="356.1" cy="91.2" r="0.5" fill="#b0415a"/>
<circle cx="385.8" cy="64.0" r="0.5" fill="#b0415a"/>
<circle cx="360.7" cy="87.9" r="0.5" fill="#b0415a"/>
<circle cx="375.7" cy="68.8" r="0.5" fill="#b0415a"/>
<circle cx="369.4" cy="76.2" r="0.5" fill="#b0415a"/>
<circle cx="341.3" cy="101.0" r="0.5" fill="#b0415a"/>
<circle cx="353.3" cy="95.5" r="0.5" fill="#b0415a"/>
</g>
<rect x="315.6" y="41.5" width="78.5" height="74.0" fill="none" stroke="#231f20" stroke-width="1.1"/>
<line x1="313.0" y1="113.3" x2="315.6" y2="113.3" stroke="#231f20" stroke-width="1"/>
<text x="310.20000000000005" y="115.39999999999999" font-size="6" text-anchor="end" fill="#231f20">0.0</text>
<line x1="318.6" y1="115.5" x2="318.6" y2="118.3" stroke="#231f20" stroke-width="1"/>
<text x="318.6" y="127.4" font-size="6" text-anchor="middle" fill="#231f20">0.0</text>
<line x1="313.0" y1="99.38" x2="315.6" y2="99.38" stroke="#231f20" stroke-width="1"/>
<text x="310.20000000000005" y="101.47999999999999" font-size="6" text-anchor="end" fill="#231f20">0.2</text>
<line x1="333.0" y1="115.5" x2="333.0" y2="118.3" stroke="#231f20" stroke-width="1"/>
<text x="333.0" y="127.4" font-size="6" text-anchor="middle" fill="#231f20">0.2</text>
<line x1="313.0" y1="85.46" x2="315.6" y2="85.46" stroke="#231f20" stroke-width="1"/>
<text x="310.20000000000005" y="87.55999999999999" font-size="6" text-anchor="end" fill="#231f20">0.4</text>
<line x1="347.40000000000003" y1="115.5" x2="347.40000000000003" y2="118.3" stroke="#231f20" stroke-width="1"/>
<text x="347.40000000000003" y="127.4" font-size="6" text-anchor="middle" fill="#231f20">0.4</text>
<line x1="313.0" y1="71.53999999999999" x2="315.6" y2="71.53999999999999" stroke="#231f20" stroke-width="1"/>
<text x="310.20000000000005" y="73.63999999999999" font-size="6" text-anchor="end" fill="#231f20">0.6</text>
<line x1="361.8" y1="115.5" x2="361.8" y2="118.3" stroke="#231f20" stroke-width="1"/>
<text x="361.8" y="127.4" font-size="6" text-anchor="middle" fill="#231f20">0.6</text>
<line x1="313.0" y1="57.62" x2="315.6" y2="57.62" stroke="#231f20" stroke-width="1"/>
<text x="310.20000000000005" y="59.72" font-size="6" text-anchor="end" fill="#231f20">0.8</text>
<line x1="376.20000000000005" y1="115.5" x2="376.20000000000005" y2="118.3" stroke="#231f20" stroke-width="1"/>
<text x="376.20000000000005" y="127.4" font-size="6" text-anchor="middle" fill="#231f20">0.8</text>
<line x1="313.0" y1="43.7" x2="315.6" y2="43.7" stroke="#231f20" stroke-width="1"/>
<text x="310.20000000000005" y="45.800000000000004" font-size="6" text-anchor="end" fill="#231f20">1.0</text>
<line x1="390.6" y1="115.5" x2="390.6" y2="118.3" stroke="#231f20" stroke-width="1"/>
<text x="390.6" y="127.4" font-size="6" text-anchor="middle" fill="#231f20">1.0</text>
<text x="318.3" y="51.5" font-size="6.2" fill="#231f20" textLength="23.5" lengthAdjust="spacingAndGlyphs">N = 526</text>
<text x="390.70000000000005" y="113.0" font-size="6.2" text-anchor="end" fill="#231f20" textLength="23.3" lengthAdjust="spacingAndGlyphs">N = 407</text>
<text transform="translate(295.90000000000003,78.45) rotate(-90)" font-size="7.4" text-anchor="middle" fill="#231f20" textLength="8.5" lengthAdjust="spacingAndGlyphs">WT</text>
<text x="353.75" y="142" font-size="7.6" text-anchor="middle" fill="#231f20" textLength="5.5" lengthAdjust="spacingAndGlyphs">KI</text>
<clipPath id="clipb2"><rect x="428.20000000000005" y="41.5" width="78.5" height="74.0"/></clipPath>
<g clip-path="url(#clipb2)">
<line x1="432.20000000000005" y1="112.3" x2="502.20000000000005" y2="44.7" stroke="#f1f1f4" stroke-width="5" stroke-linecap="round"/>
<line x1="432.20000000000005" y1="112.3" x2="502.20000000000005" y2="44.7" stroke="#dcdce2" stroke-width="2.2" stroke-linecap="round"/>
<circle cx="432.40000000000003" cy="112.1" r="2.6" fill="#c9c9cf"/><circle cx="502.00000000000006" cy="44.900000000000006" r="2.6" fill="#c9c9cf"/>
<circle cx="496.0" cy="45.4" r="0.55" fill="#23467f"/>
<circle cx="436.1" cy="103.9" r="0.55" fill="#23467f"/>
<circle cx="488.0" cy="53.7" r="0.55" fill="#23467f"/>
<circle cx="452.5" cy="89.9" r="0.55" fill="#23467f"/>
<circle cx="472.7" cy="69.7" r="0.55" fill="#23467f"/>
<circle cx="441.7" cy="99.5" r="0.55" fill="#23467f"/>
<circle cx="460.8" cy="81.6" r="0.55" fill="#23467f"/>
<circle cx="496.5" cy="46.8" r="0.55" fill="#23467f"/>
<circle cx="448.9" cy="91.8" r="0.55" fill="#23467f"/>
<circle cx="431.8" cy="106.3" r="0.55" fill="#23467f"/>
<circle cx="452.0" cy="88.1" r="0.55" fill="#23467f"/>
<circle cx="455.7" cy="83.4" r="0.55" fill="#23467f"/>
<circle cx="469.4" cy="72.6" r="0.55" fill="#23467f"/>
<circle cx="445.8" cy="93.1" r="0.55" fill="#23467f"/>
<circle cx="439.5" cy="100.2" r="0.55" fill="#23467f"/>
<circle cx="464.3" cy="74.3" r="0.55" fill="#23467f"/>
<circle cx="442.7" cy="97.3" r="0.55" fill="#23467f"/>
<circle cx="491.5" cy="49.4" r="0.55" fill="#23467f"/>
<circle cx="493.9" cy="50.0" r="0.55" fill="#23467f"/>
<circle cx="482.7" cy="58.3" r="0.55" fill="#23467f"/>
<circle cx="498.6" cy="44.6" r="0.55" fill="#23467f"/>
<circle cx="496.0" cy="44.6" r="0.55" fill="#23467f"/>
<circle cx="478.5" cy="60.7" r="0.55" fill="#23467f"/>
<circle cx="462.8" cy="79.4" r="0.55" fill="#23467f"/>
<circle cx="494.2" cy="47.8" r="0.55" fill="#23467f"/>
<circle cx="464.4" cy="75.7" r="0.55" fill="#23467f"/>
<circle cx="491.7" cy="51.1" r="0.55" fill="#23467f"/>
<circle cx="493.2" cy="50.2" r="0.55" fill="#23467f"/>
<circle cx="493.5" cy="47.8" r="0.55" fill="#23467f"/>
<circle cx="480.7" cy="61.6" r="0.55" fill="#23467f"/>
<circle cx="452.5" cy="87.7" r="0.55" fill="#23467f"/>
<circle cx="477.7" cy="62.0" r="0.55" fill="#23467f"/>
<circle cx="447.3" cy="90.2" r="0.55" fill="#23467f"/>
<circle cx="493.8" cy="49.2" r="0.55" fill="#23467f"/>
<circle cx="460.9" cy="61.3" r="0.5" fill="#4d6488"/>
<circle cx="453.2" cy="75.0" r="0.5" fill="#4d6488"/>
<circle cx="462.4" cy="75.1" r="0.5" fill="#4d6488"/>
<circle cx="446.9" cy="89.0" r="0.5" fill="#4d6488"/>
<circle cx="477.5" cy="53.6" r="0.5" fill="#4d6488"/>
<circle cx="458.9" cy="68.1" r="0.5" fill="#4d6488"/>
<circle cx="467.4" cy="65.5" r="0.5" fill="#4d6488"/>
<circle cx="478.1" cy="56.9" r="0.5" fill="#4d6488"/>
<circle cx="466.1" cy="71.9" r="0.5" fill="#4d6488"/>
<circle cx="475.9" cy="58.2" r="0.5" fill="#4d6488"/>
<circle cx="443.4" cy="92.6" r="0.5" fill="#4d6488"/>
<circle cx="439.8" cy="92.7" r="0.5" fill="#4d6488"/>
<circle cx="467.3" cy="66.4" r="0.5" fill="#4d6488"/>
<circle cx="431.5" cy="103.3" r="0.5" fill="#4d6488"/>
<circle cx="465.8" cy="69.6" r="0.5" fill="#4d6488"/>
<circle cx="434.9" cy="101.3" r="0.5" fill="#4d6488"/>
<circle cx="470.4" cy="68.0" r="0.5" fill="#4d6488"/>
<circle cx="432.1" cy="105.0" r="0.5" fill="#4d6488"/>
<circle cx="433.1" cy="91.8" r="0.5" fill="#4d6488"/>
<circle cx="439.8" cy="95.5" r="0.5" fill="#4d6488"/>
<circle cx="484.1" cy="54.1" r="0.5" fill="#4d6488"/>
<circle cx="449.0" cy="87.6" r="0.5" fill="#4d6488"/>
<circle cx="464.3" cy="74.1" r="0.5" fill="#4d6488"/>
<circle cx="447.6" cy="87.0" r="0.5" fill="#4d6488"/>
<circle cx="469.2" cy="65.8" r="0.5" fill="#4d6488"/>
<circle cx="479.7" cy="59.0" r="0.5" fill="#4d6488"/>
<circle cx="462.1" cy="62.6" r="0.5" fill="#4d6488"/>
<circle cx="455.9" cy="80.9" r="0.5" fill="#4d6488"/>
<circle cx="443.0" cy="84.8" r="0.5" fill="#4d6488"/>
<circle cx="435.7" cy="97.4" r="0.5" fill="#4d6488"/>
<circle cx="459.4" cy="72.5" r="0.5" fill="#4d6488"/>
<circle cx="436.3" cy="96.2" r="0.5" fill="#4d6488"/>
<circle cx="482.7" cy="56.0" r="0.5" fill="#4d6488"/>
<circle cx="449.0" cy="79.7" r="0.5" fill="#4d6488"/>
<circle cx="433.6" cy="102.7" r="0.5" fill="#4d6488"/>
<circle cx="432.2" cy="103.8" r="0.5" fill="#4d6488"/>
<circle cx="464.1" cy="71.9" r="0.5" fill="#4d6488"/>
<circle cx="450.3" cy="71.7" r="0.5" fill="#4d6488"/>
<circle cx="484.0" cy="53.6" r="0.5" fill="#4d6488"/>
<circle cx="441.2" cy="91.7" r="0.5" fill="#4d6488"/>
<circle cx="462.2" cy="74.6" r="0.5" fill="#4d6488"/>
<circle cx="463.1" cy="72.1" r="0.5" fill="#4d6488"/>
<circle cx="439.7" cy="87.7" r="0.5" fill="#4d6488"/>
<circle cx="453.7" cy="83.9" r="0.5" fill="#4d6488"/>
<circle cx="433.1" cy="104.4" r="0.5" fill="#4d6488"/>
<circle cx="448.8" cy="80.7" r="0.5" fill="#4d6488"/>
<circle cx="440.5" cy="90.2" r="0.5" fill="#4d6488"/>
<circle cx="435.5" cy="100.1" r="0.5" fill="#4d6488"/>
<circle cx="440.6" cy="92.7" r="0.5" fill="#4d6488"/>
<circle cx="456.3" cy="76.2" r="0.5" fill="#4d6488"/>
<circle cx="465.2" cy="72.2" r="0.5" fill="#4d6488"/>
<circle cx="435.0" cy="87.8" r="0.5" fill="#4d6488"/>
<circle cx="465.4" cy="63.3" r="0.5" fill="#4d6488"/>
<circle cx="449.9" cy="79.1" r="0.5" fill="#4d6488"/>
<circle cx="433.6" cy="103.3" r="0.5" fill="#4d6488"/>
<circle cx="451.5" cy="82.3" r="0.5" fill="#4d6488"/>
<circle cx="435.9" cy="101.1" r="0.5" fill="#4d6488"/>
<circle cx="471.6" cy="61.6" r="0.5" fill="#4d6488"/>
<circle cx="477.7" cy="55.1" r="0.5" fill="#4d6488"/>
<circle cx="461.6" cy="72.0" r="0.5" fill="#4d6488"/>
<circle cx="441.3" cy="77.2" r="0.5" fill="#4d6488"/>
<circle cx="431.6" cy="104.7" r="0.5" fill="#4d6488"/>
<circle cx="446.2" cy="88.9" r="0.5" fill="#4d6488"/>
<circle cx="476.3" cy="62.2" r="0.5" fill="#4d6488"/>
<circle cx="455.0" cy="82.2" r="0.5" fill="#4d6488"/>
<circle cx="450.9" cy="82.5" r="0.5" fill="#4d6488"/>
<circle cx="462.8" cy="75.4" r="0.5" fill="#4d6488"/>
<circle cx="434.4" cy="101.8" r="0.5" fill="#4d6488"/>
<circle cx="478.3" cy="54.2" r="0.5" fill="#4d6488"/>
<circle cx="450.7" cy="99.9" r="0.6" fill="#a8122f"/>
<circle cx="495.8" cy="57.2" r="0.6" fill="#a8122f"/>
<circle cx="467.5" cy="83.6" r="0.6" fill="#a8122f"/>
<circle cx="451.9" cy="98.6" r="0.6" fill="#a8122f"/>
<circle cx="486.3" cy="64.8" r="0.6" fill="#a8122f"/>
<circle cx="480.0" cy="70.7" r="0.6" fill="#a8122f"/>
<circle cx="470.3" cy="79.5" r="0.6" fill="#a8122f"/>
<circle cx="463.5" cy="88.0" r="0.6" fill="#a8122f"/>
<circle cx="496.4" cy="57.3" r="0.6" fill="#a8122f"/>
<circle cx="481.8" cy="68.6" r="0.6" fill="#a8122f"/>
<circle cx="442.3" cy="106.5" r="0.6" fill="#a8122f"/>
<circle cx="498.5" cy="53.2" r="0.6" fill="#a8122f"/>
<circle cx="473.8" cy="77.2" r="0.6" fill="#a8122f"/>
<circle cx="445.7" cy="104.6" r="0.6" fill="#a8122f"/>
<circle cx="487.4" cy="64.0" r="0.6" fill="#a8122f"/>
<circle cx="458.1" cy="91.9" r="0.6" fill="#a8122f"/>
<circle cx="477.4" cy="74.4" r="0.6" fill="#a8122f"/>
<circle cx="496.6" cy="56.1" r="0.6" fill="#a8122f"/>
<circle cx="480.0" cy="72.0" r="0.6" fill="#a8122f"/>
<circle cx="446.8" cy="102.9" r="0.6" fill="#a8122f"/>
<circle cx="469.0" cy="80.7" r="0.6" fill="#a8122f"/>
<circle cx="468.7" cy="84.1" r="0.6" fill="#a8122f"/>
<circle cx="458.7" cy="91.5" r="0.6" fill="#a8122f"/>
<circle cx="487.1" cy="62.0" r="0.6" fill="#a8122f"/>
<circle cx="446.1" cy="102.3" r="0.6" fill="#a8122f"/>
<circle cx="493.8" cy="57.0" r="0.6" fill="#a8122f"/>
<circle cx="468.4" cy="79.4" r="0.6" fill="#a8122f"/>
<circle cx="465.0" cy="85.4" r="0.6" fill="#a8122f"/>
<circle cx="481.8" cy="67.5" r="0.6" fill="#a8122f"/>
<circle cx="447.6" cy="100.8" r="0.6" fill="#a8122f"/>
<circle cx="475.9" cy="76.0" r="0.6" fill="#a8122f"/>
<circle cx="445.8" cy="103.4" r="0.6" fill="#a8122f"/>
<circle cx="480.2" cy="68.3" r="0.6" fill="#a8122f"/>
<circle cx="452.9" cy="96.9" r="0.6" fill="#a8122f"/>
<circle cx="482.9" cy="66.5" r="0.6" fill="#a8122f"/>
<circle cx="451.3" cy="98.9" r="0.6" fill="#a8122f"/>
<circle cx="473.3" cy="76.7" r="0.6" fill="#a8122f"/>
<circle cx="451.6" cy="99.5" r="0.6" fill="#a8122f"/>
<circle cx="492.4" cy="60.3" r="0.6" fill="#a8122f"/>
<circle cx="470.2" cy="81.4" r="0.6" fill="#a8122f"/>
<circle cx="441.1" cy="111.7" r="0.6" fill="#a8122f"/>
<circle cx="500.4" cy="50.1" r="0.6" fill="#a8122f"/>
<circle cx="497.5" cy="52.3" r="0.6" fill="#a8122f"/>
<circle cx="491.8" cy="59.3" r="0.6" fill="#a8122f"/>
<circle cx="450.3" cy="99.7" r="0.6" fill="#a8122f"/>
<circle cx="450.4" cy="99.9" r="0.6" fill="#a8122f"/>
<circle cx="479.9" cy="69.9" r="0.6" fill="#a8122f"/>
<circle cx="458.8" cy="92.2" r="0.6" fill="#a8122f"/>
<circle cx="492.9" cy="59.5" r="0.6" fill="#a8122f"/>
<circle cx="448.1" cy="103.0" r="0.6" fill="#a8122f"/>
<circle cx="493.6" cy="57.6" r="0.6" fill="#a8122f"/>
<circle cx="501.2" cy="49.9" r="0.6" fill="#a8122f"/>
<circle cx="497.1" cy="56.1" r="0.6" fill="#a8122f"/>
<circle cx="456.7" cy="94.0" r="0.6" fill="#a8122f"/>
<circle cx="480.3" cy="69.7" r="0.6" fill="#a8122f"/>
<circle cx="467.3" cy="83.5" r="0.6" fill="#a8122f"/>
<circle cx="466.9" cy="83.2" r="0.6" fill="#a8122f"/>
<circle cx="501.5" cy="50.8" r="0.6" fill="#a8122f"/>
<circle cx="490.5" cy="59.1" r="0.6" fill="#a8122f"/>
<circle cx="491.1" cy="59.7" r="0.6" fill="#a8122f"/>
<circle cx="452.9" cy="100.3" r="0.6" fill="#a8122f"/>
<circle cx="493.4" cy="57.8" r="0.6" fill="#a8122f"/>
<circle cx="490.6" cy="61.2" r="0.6" fill="#a8122f"/>
<circle cx="493.5" cy="60.2" r="0.6" fill="#a8122f"/>
<circle cx="497.0" cy="52.9" r="0.6" fill="#a8122f"/>
<circle cx="465.3" cy="86.0" r="0.6" fill="#a8122f"/>
<circle cx="449.5" cy="101.0" r="0.6" fill="#a8122f"/>
<circle cx="493.5" cy="58.2" r="0.6" fill="#a8122f"/>
<circle cx="474.8" cy="75.1" r="0.6" fill="#a8122f"/>
<circle cx="500.0" cy="50.2" r="0.6" fill="#a8122f"/>
<circle cx="472.0" cy="80.9" r="0.6" fill="#a8122f"/>
<circle cx="485.9" cy="65.2" r="0.6" fill="#a8122f"/>
<circle cx="484.5" cy="64.6" r="0.6" fill="#a8122f"/>
<circle cx="486.8" cy="64.0" r="0.6" fill="#a8122f"/>
<circle cx="467.2" cy="85.1" r="0.6" fill="#a8122f"/>
<circle cx="491.1" cy="61.4" r="0.6" fill="#a8122f"/>
<circle cx="501.7" cy="49.7" r="0.6" fill="#a8122f"/>
<circle cx="453.4" cy="96.9" r="0.6" fill="#a8122f"/>
<circle cx="493.5" cy="58.1" r="0.6" fill="#a8122f"/>
<circle cx="483.8" cy="67.4" r="0.6" fill="#a8122f"/>
<circle cx="490.8" cy="59.2" r="0.6" fill="#a8122f"/>
<circle cx="466.9" cy="83.3" r="0.6" fill="#a8122f"/>
<circle cx="444.9" cy="106.6" r="0.6" fill="#a8122f"/>
<circle cx="457.4" cy="93.4" r="0.6" fill="#a8122f"/>
<circle cx="445.9" cy="104.6" r="0.6" fill="#a8122f"/>
<circle cx="444.4" cy="105.4" r="0.6" fill="#a8122f"/>
<circle cx="465.7" cy="85.7" r="0.6" fill="#a8122f"/>
<circle cx="500.2" cy="52.1" r="0.6" fill="#a8122f"/>
<circle cx="468.6" cy="82.3" r="0.6" fill="#a8122f"/>
<circle cx="457.1" cy="90.7" r="0.6" fill="#a8122f"/>
<circle cx="499.7" cy="51.6" r="0.6" fill="#a8122f"/>
<circle cx="467.9" cy="84.0" r="0.6" fill="#a8122f"/>
<circle cx="497.5" cy="54.0" r="0.6" fill="#a8122f"/>
<circle cx="500.3" cy="50.0" r="0.6" fill="#a8122f"/>
<circle cx="474.7" cy="81.4" r="0.5" fill="#b0415a"/>
<circle cx="502.9" cy="59.0" r="0.5" fill="#b0415a"/>
<circle cx="468.5" cy="84.8" r="0.5" fill="#b0415a"/>
<circle cx="466.4" cy="87.5" r="0.5" fill="#b0415a"/>
<circle cx="448.3" cy="103.9" r="0.5" fill="#b0415a"/>
<circle cx="502.8" cy="57.8" r="0.5" fill="#b0415a"/>
<circle cx="484.8" cy="75.5" r="0.5" fill="#b0415a"/>
<circle cx="496.3" cy="60.4" r="0.5" fill="#b0415a"/>
<circle cx="488.8" cy="66.2" r="0.5" fill="#b0415a"/>
<circle cx="444.1" cy="110.9" r="0.5" fill="#b0415a"/>
<circle cx="453.2" cy="101.4" r="0.5" fill="#b0415a"/>
<circle cx="450.9" cy="102.1" r="0.5" fill="#b0415a"/>
<circle cx="498.8" cy="56.5" r="0.5" fill="#b0415a"/>
<circle cx="483.8" cy="77.9" r="0.5" fill="#b0415a"/>
<circle cx="457.3" cy="97.7" r="0.5" fill="#b0415a"/>
<circle cx="470.8" cy="84.1" r="0.5" fill="#b0415a"/>
<circle cx="471.4" cy="82.3" r="0.5" fill="#b0415a"/>
<circle cx="447.0" cy="107.9" r="0.5" fill="#b0415a"/>
</g>
<rect x="428.20000000000005" y="41.5" width="78.5" height="74.0" fill="none" stroke="#231f20" stroke-width="1.1"/>
<line x1="425.6" y1="113.3" x2="428.20000000000005" y2="113.3" stroke="#231f20" stroke-width="1"/>
<text x="422.80000000000007" y="115.39999999999999" font-size="6" text-anchor="end" fill="#231f20">0.0</text>
<line x1="431.20000000000005" y1="115.5" x2="431.20000000000005" y2="118.3" stroke="#231f20" stroke-width="1"/>
<text x="431.20000000000005" y="127.4" font-size="6" text-anchor="middle" fill="#231f20">0.0</text>
<line x1="425.6" y1="99.38" x2="428.20000000000005" y2="99.38" stroke="#231f20" stroke-width="1"/>
<text x="422.80000000000007" y="101.47999999999999" font-size="6" text-anchor="end" fill="#231f20">0.2</text>
<line x1="445.6" y1="115.5" x2="445.6" y2="118.3" stroke="#231f20" stroke-width="1"/>
<text x="445.6" y="127.4" font-size="6" text-anchor="middle" fill="#231f20">0.2</text>
<line x1="425.6" y1="85.46" x2="428.20000000000005" y2="85.46" stroke="#231f20" stroke-width="1"/>
<text x="422.80000000000007" y="87.55999999999999" font-size="6" text-anchor="end" fill="#231f20">0.4</text>
<line x1="460.00000000000006" y1="115.5" x2="460.00000000000006" y2="118.3" stroke="#231f20" stroke-width="1"/>
<text x="460.00000000000006" y="127.4" font-size="6" text-anchor="middle" fill="#231f20">0.4</text>
<line x1="425.6" y1="71.53999999999999" x2="428.20000000000005" y2="71.53999999999999" stroke="#231f20" stroke-width="1"/>
<text x="422.80000000000007" y="73.63999999999999" font-size="6" text-anchor="end" fill="#231f20">0.6</text>
<line x1="474.40000000000003" y1="115.5" x2="474.40000000000003" y2="118.3" stroke="#231f20" stroke-width="1"/>
<text x="474.40000000000003" y="127.4" font-size="6" text-anchor="middle" fill="#231f20">0.6</text>
<line x1="425.6" y1="57.62" x2="428.20000000000005" y2="57.62" stroke="#231f20" stroke-width="1"/>
<text x="422.80000000000007" y="59.72" font-size="6" text-anchor="end" fill="#231f20">0.8</text>
<line x1="488.80000000000007" y1="115.5" x2="488.80000000000007" y2="118.3" stroke="#231f20" stroke-width="1"/>
<text x="488.80000000000007" y="127.4" font-size="6" text-anchor="middle" fill="#231f20">0.8</text>
<line x1="425.6" y1="43.7" x2="428.20000000000005" y2="43.7" stroke="#231f20" stroke-width="1"/>
<text x="422.80000000000007" y="45.800000000000004" font-size="6" text-anchor="end" fill="#231f20">1.0</text>
<line x1="503.20000000000005" y1="115.5" x2="503.20000000000005" y2="118.3" stroke="#231f20" stroke-width="1"/>
<text x="503.20000000000005" y="127.4" font-size="6" text-anchor="middle" fill="#231f20">1.0</text>
<text x="430.90000000000003" y="51.5" font-size="6.2" fill="#231f20" textLength="23.5" lengthAdjust="spacingAndGlyphs">N = 175</text>
<text x="503.30000000000007" y="113.0" font-size="6.2" text-anchor="end" fill="#231f20" textLength="23.3" lengthAdjust="spacingAndGlyphs">N = 230</text>
<text transform="translate(408.50000000000006,78.45) rotate(-90)" font-size="7.4" text-anchor="middle" fill="#231f20" textLength="8.5" lengthAdjust="spacingAndGlyphs">WT</text>
<text x="466.35" y="142" font-size="7.6" text-anchor="middle" fill="#231f20" textLength="5.5" lengthAdjust="spacingAndGlyphs">KI</text>
<text x="354.5" y="36.7" font-size="8.5" text-anchor="middle" fill="#231f20" textLength="57.5" lengthAdjust="spacingAndGlyphs">Cassette exons</text>
<text x="467.4" y="26.6" font-size="8.5" text-anchor="middle" fill="#231f20" textLength="68.7" lengthAdjust="spacingAndGlyphs">Mutually exclusive</text>
<text x="467.4" y="36.2" font-size="8.5" text-anchor="middle" fill="#231f20" textLength="22.6" lengthAdjust="spacingAndGlyphs">exons</text>
<text x="7.3" y="173.2" font-size="10.2" font-weight="bold" fill="#000" stroke="#000" style="stroke-width:0.45px">C</text>
<rect x="49.7" y="173.4" width="8.4" height="4.7" fill="#e8911f"/>
<text x="60.900000000000006" y="177.8" font-size="5.6" fill="#231f20" textLength="16" lengthAdjust="spacingAndGlyphs">CCNG</text>
<rect x="82.4" y="173.4" width="8.4" height="4.7" fill="#6aaa46"/>
<text x="93.60000000000001" y="177.2" font-size="5.6" fill="#231f20" textLength="16" lengthAdjust="spacingAndGlyphs">GCNG</text>
<rect x="116.0" y="173.4" width="8.4" height="4.7" fill="#c80a7e"/>
<text x="127.2" y="177.8" font-size="5.6" fill="#231f20" textLength="16.2" lengthAdjust="spacingAndGlyphs">CGNG</text>
<rect x="149.3" y="173.4" width="8.4" height="4.7" fill="#6caee2"/>
<text x="160.5" y="177.2" font-size="5.6" fill="#231f20" textLength="16.5" lengthAdjust="spacingAndGlyphs">GGNG</text>
<rect x="49.5" y="192.5" width="43.5" height="15.3" fill="#e8911f"/>
<rect x="93.0" y="192.5" width="37.0" height="15.3" fill="#6aaa46"/>
<rect x="130.0" y="192.5" width="8.099999999999994" height="15.3" fill="#c80a7e"/>
<rect x="138.1" y="192.5" width="17.400000000000006" height="15.3" fill="#6caee2"/>
<text x="46.3" y="202.7" font-size="6.6" text-anchor="end" fill="#231f20" textLength="37.5" lengthAdjust="spacingAndGlyphs">Included CEs</text>
<text x="157.1" y="204.2" font-size="6.5" fill="#231f20" textLength="32.8" lengthAdjust="spacingAndGlyphs">(N = 3,325)</text>
<rect x="49.5" y="219.5" width="24.099999999999994" height="15.3" fill="#e8911f"/>
<rect x="73.6" y="219.5" width="29.700000000000003" height="15.3" fill="#6aaa46"/>
<rect x="103.3" y="219.5" width="10.5" height="15.3" fill="#c80a7e"/>
<rect x="113.8" y="219.5" width="41.7" height="15.3" fill="#6caee2"/>
<text x="46.3" y="229.5" font-size="6.6" text-anchor="end" fill="#231f20" textLength="39.5" lengthAdjust="spacingAndGlyphs">Excluded CEs</text>
<text x="157.1" y="231.2" font-size="6.5" fill="#231f20" textLength="32.8" lengthAdjust="spacingAndGlyphs">(N = 4,933)</text>
<rect x="49.5" y="246.2" width="33.099999999999994" height="15.3" fill="#e8911f"/>
<rect x="82.6" y="246.2" width="30.700000000000003" height="15.3" fill="#6aaa46"/>
<rect x="113.3" y="246.2" width="12.400000000000006" height="15.3" fill="#c80a7e"/>
<rect x="125.7" y="246.2" width="29.799999999999997" height="15.3" fill="#6caee2"/>
<text x="46.3" y="256.0" font-size="6.6" text-anchor="end" fill="#231f20" textLength="26.1" lengthAdjust="spacingAndGlyphs">All exons</text>
<text x="157.1" y="256.8" font-size="6.5" fill="#231f20" textLength="45.4" lengthAdjust="spacingAndGlyphs">(N = 6,133,038)</text>
<line x1="49.2" y1="186.2" x2="49.2" y2="267.6" stroke="#231f20" stroke-width="1.2"/>
<line x1="48.6" y1="267.1" x2="156" y2="267.1" stroke="#231f20" stroke-width="1.2"/>
<line x1="49.4" y1="267.1" x2="49.4" y2="270" stroke="#231f20" stroke-width="0.9"/>
<line x1="59.98" y1="267.1" x2="59.98" y2="268.6" stroke="#231f20" stroke-width="0.9"/>
<line x1="70.56" y1="267.1" x2="70.56" y2="270" stroke="#231f20" stroke-width="0.9"/>
<line x1="81.14" y1="267.1" x2="81.14" y2="268.6" stroke="#231f20" stroke-width="0.9"/>
<line x1="91.72" y1="267.1" x2="91.72" y2="270" stroke="#231f20" stroke-width="0.9"/>
<line x1="102.3" y1="267.1" x2="102.3" y2="268.6" stroke="#231f20" stroke-width="0.9"/>
<line x1="112.88" y1="267.1" x2="112.88" y2="270" stroke="#231f20" stroke-width="0.9"/>
<line x1="123.46000000000001" y1="267.1" x2="123.46000000000001" y2="268.6" stroke="#231f20" stroke-width="0.9"/>
<line x1="134.04" y1="267.1" x2="134.04" y2="270" stroke="#231f20" stroke-width="0.9"/>
<line x1="144.62" y1="267.1" x2="144.62" y2="268.6" stroke="#231f20" stroke-width="0.9"/>
<line x1="155.2" y1="267.1" x2="155.2" y2="270" stroke="#231f20" stroke-width="0.9"/>
<text x="49.9" y="278.7" font-size="6.2" text-anchor="middle" fill="#231f20">0</text>
<text x="71.06" y="278.7" font-size="6.2" text-anchor="middle" fill="#231f20">20</text>
<text x="92.22" y="278.7" font-size="6.2" text-anchor="middle" fill="#231f20">40</text>
<text x="113.38" y="278.7" font-size="6.2" text-anchor="middle" fill="#231f20">60</text>
<text x="134.54" y="278.7" font-size="6.2" text-anchor="middle" fill="#231f20">80</text>
<text x="155.7" y="278.7" font-size="6.2" text-anchor="middle" fill="#231f20">100</text>
<text x="168" y="278.7" font-size="6.0" text-anchor="middle" fill="#231f20" textLength="8.9" lengthAdjust="spacingAndGlyphs">(%)</text>
<text x="171.9" y="191.5" font-size="6.3" fill="#231f20" textLength="30.7" lengthAdjust="spacingAndGlyphs"><tspan font-style="italic">P</tspan> = 0.0016</text>
<path d="M192,197.7 H198.6 V226.4 H192" fill="none" stroke="#231f20" stroke-width="1.2"/>
<text x="288.6" y="173.6" font-size="10.2" font-weight="bold" fill="#000" stroke="#000" style="stroke-width:0.45px">D</text>
<line x1="328.2" y1="180.2" x2="343.1" y2="180.2" stroke="#cfa25a" stroke-width="1.1"/>
<line x1="328.2" y1="186.4" x2="343.1" y2="186.4" stroke="#74a6d4" stroke-width="1.1"/>
<text x="345.5" y="182.0" font-size="4.9" fill="#231f20" textLength="14.4" lengthAdjust="spacingAndGlyphs">CCNG</text>
<text x="345.5" y="188.2" font-size="4.9" fill="#231f20" textLength="14.9" lengthAdjust="spacingAndGlyphs">GGNG</text>
<line x1="318.1" y1="180.9" x2="318.1" y2="263" stroke="#231f20" stroke-width="1.2"/>
<line x1="315.1" y1="183.7" x2="318.1" y2="183.7" stroke="#231f20" stroke-width="1.1"/>
<text x="312.4" y="185.79999999999998" font-size="6.3" text-anchor="end" fill="#231f20">1.0</text>
<line x1="315.1" y1="203.0" x2="318.1" y2="203.0" stroke="#231f20" stroke-width="1.1"/>
<text x="312.4" y="205.1" font-size="6.3" text-anchor="end" fill="#231f20">0.5</text>
<line x1="315.1" y1="222.29999999999998" x2="318.1" y2="222.29999999999998" stroke="#231f20" stroke-width="1.1"/>
<text x="312.4" y="224.39999999999998" font-size="6.3" text-anchor="end" fill="#231f20">0.0</text>
<line x1="315.1" y1="241.6" x2="318.1" y2="241.6" stroke="#231f20" stroke-width="1.1"/>
<text x="312.4" y="243.7" font-size="6.3" text-anchor="end" fill="#231f20">-0.5</text>
<line x1="315.1" y1="260.9" x2="318.1" y2="260.9" stroke="#231f20" stroke-width="1.1"/>
<text x="312.4" y="263.0" font-size="6.3" text-anchor="end" fill="#231f20">-1.0</text>
<line x1="318.1" y1="222.3" x2="513.3" y2="222.3" stroke="#231f20" stroke-width="1.2"/>
<line x1="366.6" y1="191" x2="366.6" y2="264" stroke="#231f20" stroke-width="1.0" stroke-dasharray="2.6,1.6"/>
<line x1="462.7" y1="191" x2="462.7" y2="264" stroke="#231f20" stroke-width="1.0" stroke-dasharray="2.6,1.6"/>
<line x1="321.8" y1="266.8" x2="366" y2="266.8" stroke="#231f20" stroke-width="1.1"/>
<line x1="462.7" y1="266.8" x2="512.5" y2="266.8" stroke="#231f20" stroke-width="1.1"/>
<rect x="366" y="263.9" width="47.7" height="5.9" fill="#9a9a9a" stroke="#231f20" stroke-width="0.8"/>
<rect x="418.4" y="263.9" width="44.3" height="5.9" fill="#9a9a9a" stroke="#231f20" stroke-width="0.8"/>
<text x="328.4" y="278.6" font-size="6.7" text-anchor="middle" fill="#231f20">-100</text>
<text x="407.5" y="278.6" font-size="6.7" text-anchor="middle" fill="#231f20">+100</text>
<text x="425.4" y="278.6" font-size="6.7" text-anchor="middle" fill="#231f20">-100</text>
<text x="505.6" y="277.2" font-size="6.7" text-anchor="middle" fill="#231f20">+100</text>
<text x="367.6" y="290.2" font-size="7.8" fill="#231f20" textLength="100.4" lengthAdjust="spacingAndGlyphs">Position relative to splice sites (nt)</text>
<text transform="translate(296.2,222) rotate(-90)" font-size="7.6" text-anchor="middle" fill="#231f20" textLength="91" lengthAdjust="spacingAndGlyphs">Relative frequency (log<tspan font-size="5" dy="1.5">10</tspan><tspan dy="-1.5"> ratio)</tspan></text>
<path d="M320.9,223.3 L322.8,222.3 L324.7,219.4 L326.2,214.6 L327.6,222.3 L329.5,225.2 L331.5,213.7 L333.4,226.2 L335.3,224.2 L337.2,226.2 L339.2,217.5 L341.1,227.1 L343,220.4 L344.9,216.5 L346.8,228.1 L348.8,219.4 L350.7,217.5 L352.6,221.3 L354.5,218.5 L356.5,221.3 L358.4,222.3 L360.3,229 L361.8,235.8 L363.2,233.8 L364.6,229 L366.1,224.2 L367.2,234 L369.2,240.5 L371.8,241.8 L374.4,244.4 L377,248.3 L378.9,254.2 L380.9,247 L382.8,240.5 L384.8,241.8 L387.4,241.2 L390,240.5 L392.6,239.9 L394.5,243.1 L396.5,234 L398.4,232.7 L400.4,236.6 L402.3,252.2 L404.3,245.1 L406.2,244.4 L408.2,248.3 L410.8,245.7 L412.7,234" fill="none" stroke="#5f95c8" stroke-width="1.25" stroke-linejoin="round"/>
<path d="M418.5,237.3 L420.4,237.9 L422.4,244.4 L424.3,252.2 L426.3,244.4 L428.2,237.9 L430.2,238.6 L432.1,239.9 L434,245.1 L436,248.3 L438,240.5 L439.9,239.9 L441.9,245.7 L443.8,254.8 L445.8,245.7 L447.7,236.6 L449.7,234.7 L451.6,243.1 L453.6,237.9 L455.5,235.3 L457.5,243.1 L459.4,239.2 L461.4,240.5 L462.7,237.9 L463.2,221 L465.2,217.1 L467.1,224.9 L469.1,230.1 L471,226.9 L473,224.9 L474.9,226.2 L476.9,224.3 L478.8,226.2 L480.8,227.5 L482.7,228.8 L484.7,226.2 L486.6,226.9 L488.6,224.9 L490.5,224.3 L492.5,234 L494.4,239.9 L496.4,230.1 L498.3,228.2 L500.3,230.8 L502.2,224.9 L504.2,227.5 L506.8,236.6 L508.7,227.5 L510,213.2" fill="none" stroke="#5f95c8" stroke-width="1.25" stroke-linejoin="round"/>
<path d="M320.9,226.2 L322.8,224.2 L324.7,222.3 L326.7,219.4 L328.6,223.8 L330.5,214.6 L332.4,223.3 L334.3,221.3 L336.3,217.5 L338.2,223.3 L340.1,220.4 L342,224.2 L344,219.4 L345.9,222.3 L347.8,218.5 L349.7,215.6 L351.7,213.7 L353.6,221.3 L355.5,217.5 L357.4,220.4 L359.3,222.3 L361.3,219.4 L363.2,216.5 L365.1,214.6 L366.1,218.5 L366.6,209.3 L367.9,208 L369.8,211.9 L372.4,208 L375,210.6 L377,214.5 L378.3,211.9 L380.2,215.2 L382.8,222.3 L384.8,215.8 L386.7,211.9 L389.3,215.8 L391.3,219 L393.9,213.9 L396.5,218.4 L398.4,220.4 L400.4,217.8 L402.3,221 L404.3,223 L406.9,219.7 L409.5,214.5 L411.4,210.6 L413.4,214.5" fill="none" stroke="#c8952c" stroke-width="1.25" stroke-linejoin="round"/>
<path d="M418.5,219 L420.4,213.2 L422.4,221 L424.3,214.5 L426.3,210 L428.2,214.5 L430.2,211.3 L432.1,213.2 L434,215.2 L436,217.8 L438,219 L439.9,213.2 L441.9,211.9 L443.8,209.3 L445.8,214.5 L447.7,218.4 L449.7,220.4 L451.6,216.5 L453.6,212.6 L455.5,214.5 L457.5,213.2 L459.4,217.1 L461.4,221 L462.7,217.8 L463.9,214.5 L465.2,221 L465.8,237.9 L467.1,221 L469.1,218.4 L470.4,211.9 L472.3,210.6 L473.6,221 L474.9,226.2 L476.9,219.7 L478.8,221 L480.8,224.9 L482.7,228.2 L484.7,226.2 L486.6,228.8 L488.6,224.3 L490.5,226.2 L492.5,222.3 L494.4,226.2 L496.4,223 L498.3,224.9 L500.3,227.5 L502.2,222.3 L504.2,224.9 L506.1,223 L508.1,226.2 L510,223.6" fill="none" stroke="#c8952c" stroke-width="1.25" stroke-linejoin="round"/>
<text x="7.2" y="317.8" font-size="10.2" font-weight="bold" fill="#000" stroke="#000" style="stroke-width:0.45px">E</text>
<clipPath id="cA"><ellipse cx="126.8" cy="424.4" rx="79.6" ry="45.5" transform="rotate(45 126.8 424.4)" fill="none" stroke="none" stroke-width="0"/></clipPath>
<clipPath id="cB"><ellipse cx="161.0" cy="401.7" rx="79.6" ry="34.1" transform="rotate(45 161.0 401.7)" fill="none" stroke="none" stroke-width="0"/></clipPath>
<clipPath id="cC"><ellipse cx="161.0" cy="401.7" rx="75.6" ry="34.1" transform="rotate(-45 161.0 401.7)" fill="none" stroke="none" stroke-width="0"/></clipPath>
<clipPath id="cD"><ellipse cx="195.2" cy="424.4" rx="79.6" ry="45.5" transform="rotate(-45 195.2 424.4)" fill="none" stroke="none" stroke-width="0"/></clipPath>
<ellipse cx="126.8" cy="424.4" rx="79.6" ry="45.5" transform="rotate(45 126.8 424.4)" fill="#bf97c8" stroke="none" stroke-width="0"/>
<ellipse cx="161.0" cy="401.7" rx="79.6" ry="34.1" transform="rotate(45 161.0 401.7)" fill="#e9e9ed" stroke="none" stroke-width="0"/>
<ellipse cx="161.0" cy="401.7" rx="75.6" ry="34.1" transform="rotate(-45 161.0 401.7)" fill="#f5efb0" stroke="none" stroke-width="0"/>
<ellipse cx="195.2" cy="424.4" rx="79.6" ry="45.5" transform="rotate(-45 195.2 424.4)" fill="#c2dee6" stroke="none" stroke-width="0"/>
<g clip-path="url(#cB)"><ellipse cx="126.8" cy="424.4" rx="79.6" ry="45.5" transform="rotate(45 126.8 424.4)" fill="#c3a2d0" stroke="none" stroke-width="0"/></g>
<g clip-path="url(#cC)"><ellipse cx="126.8" cy="424.4" rx="79.6" ry="45.5" transform="rotate(45 126.8 424.4)" fill="#e3a9ab" stroke="none" stroke-width="0"/></g>
<g clip-path="url(#cD)"><ellipse cx="126.8" cy="424.4" rx="79.6" ry="45.5" transform="rotate(45 126.8 424.4)" fill="#a290c8" stroke="none" stroke-width="0"/></g>
<g clip-path="url(#cC)"><ellipse cx="161.0" cy="401.7" rx="79.6" ry="34.1" transform="rotate(45 161.0 401.7)" fill="#e8e2ae" stroke="none" stroke-width="0"/></g>
<g clip-path="url(#cD)"><ellipse cx="161.0" cy="401.7" rx="79.6" ry="34.1" transform="rotate(45 161.0 401.7)" fill="#c2dfe0" stroke="none" stroke-width="0"/></g>
<g clip-path="url(#cD)"><ellipse cx="161.0" cy="401.7" rx="75.6" ry="34.1" transform="rotate(-45 161.0 401.7)" fill="#d9e0ad" stroke="none" stroke-width="0"/></g>
<g clip-path="url(#cC)"><g clip-path="url(#cB)"><ellipse cx="126.8" cy="424.4" rx="79.6" ry="45.5" transform="rotate(45 126.8 424.4)" fill="#dcaeb0" stroke="none" stroke-width="0"/></g></g>
<g clip-path="url(#cD)"><g clip-path="url(#cB)"><ellipse cx="126.8" cy="424.4" rx="79.6" ry="45.5" transform="rotate(45 126.8 424.4)" fill="#b9a2d2" stroke="none" stroke-width="0"/></g></g>
<g clip-path="url(#cD)"><g clip-path="url(#cC)"><ellipse cx="126.8" cy="424.4" rx="79.6" ry="45.5" transform="rotate(45 126.8 424.4)" fill="#d4b3b3" stroke="none" stroke-width="0"/></g></g>
<g clip-path="url(#cD)"><g clip-path="url(#cC)"><ellipse cx="161.0" cy="401.7" rx="79.6" ry="34.1" transform="rotate(45 161.0 401.7)" fill="#bed8a3" stroke="none" stroke-width="0"/></g></g>
<g clip-path="url(#cD)"><g clip-path="url(#cC)"><g clip-path="url(#cB)"><ellipse cx="126.8" cy="424.4" rx="79.6" ry="45.5" transform="rotate(45 126.8 424.4)" fill="#d8b2ad" stroke="none" stroke-width="0"/></g></g></g>
<ellipse cx="126.8" cy="424.4" rx="79.6" ry="45.5" transform="rotate(45 126.8 424.4)" fill="none" stroke="#1a1a1a" stroke-width="1.45"/>
<ellipse cx="161.0" cy="401.7" rx="79.6" ry="34.1" transform="rotate(45 161.0 401.7)" fill="none" stroke="#1a1a1a" stroke-width="1.45"/>
<ellipse cx="161.0" cy="401.7" rx="75.6" ry="34.1" transform="rotate(-45 161.0 401.7)" fill="none" stroke="#1a1a1a" stroke-width="1.45"/>
<ellipse cx="195.2" cy="424.4" rx="79.6" ry="45.5" transform="rotate(-45 195.2 424.4)" fill="none" stroke="#1a1a1a" stroke-width="1.45"/>
<text x="88.75" y="401.6" font-size="7.3" text-anchor="middle" fill="#231f20">379</text>
<text x="127.4" y="359.0" font-size="7.3" text-anchor="middle" fill="#231f20">232</text>
<text x="195.5" y="357.90000000000003" font-size="7.3" text-anchor="middle" fill="#231f20">56</text>
<text x="233" y="402.1" font-size="7.3" text-anchor="middle" fill="#231f20">216</text>
<text x="117.5" y="381.6" font-size="7.3" text-anchor="middle" fill="#231f20">91</text>
<text x="161.3" y="377.1" font-size="7.3" text-anchor="middle" fill="#231f20">6</text>
<text x="203.8" y="381.6" font-size="7.3" text-anchor="middle" fill="#231f20">13</text>
<text x="138" y="401.6" font-size="7.3" text-anchor="middle" fill="#231f20">11</text>
<text x="183.8" y="401.6" font-size="7.3" text-anchor="middle" fill="#231f20">3</text>
<text x="161.3" y="426.1" font-size="7.3" text-anchor="middle" fill="#231f20">27</text>
<text x="120.5" y="439.1" font-size="7.3" text-anchor="middle" fill="#231f20">12</text>
<text x="202" y="439.1" font-size="7.3" text-anchor="middle" fill="#231f20">27</text>
<text x="143" y="449.1" font-size="7.3" text-anchor="middle" fill="#231f20">13</text>
<text x="178.8" y="447.90000000000003" font-size="7.3" text-anchor="middle" fill="#231f20">44</text>
<text x="161.3" y="471.1" font-size="7.3" text-anchor="middle" fill="#231f20">59</text>
<line x1="38.8" y1="422.8" x2="67.7" y2="406.7" stroke="#1a1a1a" stroke-width="1.1"/>
<line x1="67.7" y1="443.5" x2="122.5" y2="403" stroke="#1a1a1a" stroke-width="1.1"/>
<line x1="81.2" y1="472.3" x2="142.7" y2="428.1" stroke="#1a1a1a" stroke-width="1.1"/>
<line x1="124.4" y1="491" x2="135" y2="451.5" stroke="#1a1a1a" stroke-width="1.1"/>
<line x1="153.6" y1="481.2" x2="153.6" y2="498.2" stroke="#1a1a1a" stroke-width="1.1"/>
<line x1="179.5" y1="451.5" x2="197.5" y2="487.8" stroke="#1a1a1a" stroke-width="1.1"/>
<line x1="228.8" y1="436.8" x2="241.2" y2="459.7" stroke="#1a1a1a" stroke-width="1.1"/>
<text x="23.7" y="374.7" font-size="7.3" text-anchor="middle" font-style="italic" fill="#9d2a5c" stroke="#9d2a5c">Bap1</text>
<text x="23.7" y="383.5" font-size="7.3" text-anchor="middle" font-style="italic" fill="#9d2a5c" stroke="#9d2a5c">Stag2</text>
<text x="23.7" y="392.3" font-size="7.3" text-anchor="middle" font-style="italic" fill="#9d2a5c" stroke="#9d2a5c">Eif4a2</text>
<text x="23.7" y="401.09999999999997" font-size="7.3" text-anchor="middle" font-style="italic" fill="#9d2a5c" stroke="#9d2a5c">Hsp90ab1</text>
<text x="23.7" y="409.9" font-size="7.3" text-anchor="middle" font-style="italic" fill="#9d2a5c" stroke="#9d2a5c">Kdm6a</text>
<text x="23.7" y="418.7" font-size="7.3" text-anchor="middle" font-style="italic" fill="#9d2a5c" stroke="#9d2a5c">Kdm5a</text>
<text x="23.7" y="427.5" font-size="7.3" text-anchor="middle" font-style="italic" fill="#9d2a5c" stroke="#9d2a5c">Casp8</text>
<text x="23.7" y="436.3" font-size="7.3" text-anchor="middle" font-style="italic" fill="#9d2a5c" stroke="#9d2a5c">Chek2</text>
<text x="23.7" y="445.1" font-size="7.3" text-anchor="middle" font-style="italic" fill="#9d2a5c" stroke="#9d2a5c">Fancc</text>
<text x="23.7" y="453.9" font-size="7.3" text-anchor="middle" font-style="italic" fill="#9d2a5c" stroke="#9d2a5c">Setd2</text>
<text x="57.3" y="453.4" font-size="7.3" text-anchor="middle" font-style="italic" fill="#231f20" textLength="31.2" lengthAdjust="spacingAndGlyphs">Trp53bp1</text>
<text x="64.7" y="467.8" font-size="7.3" text-anchor="middle" font-style="italic" fill="#9d2a5c" stroke="#9d2a5c">Hnrnpa2b1</text>
<text x="64.7" y="476.65000000000003" font-size="7.3" text-anchor="middle" font-style="italic" fill="#9d2a5c" stroke="#9d2a5c">Gnas</text>
<text x="64.7" y="485.5" font-size="7.3" text-anchor="middle" font-style="italic" fill="#9d2a5c" stroke="#9d2a5c">Mllt10</text>
<text x="64.7" y="494.35" font-size="7.3" text-anchor="middle" font-style="italic" fill="#9d2a5c" stroke="#9d2a5c">Pbrm1</text>
<text x="64.7" y="503.2" font-size="7.3" text-anchor="middle" font-style="italic" fill="#9d2a5c" stroke="#9d2a5c">Flcn</text>
<text x="64.7" y="512.05" font-size="7.3" text-anchor="middle" font-style="italic" fill="#231f20">Fyn</text>
<text x="123.8" y="499.8" font-size="7.3" text-anchor="middle" font-style="italic" fill="#231f20">Mpo</text>
<text x="153.4" y="506.1" font-size="7.3" text-anchor="middle" font-style="italic" fill="#9d2a5c" stroke="#9d2a5c">Cyld</text>
<text x="206.2" y="492.6" font-size="7.3" text-anchor="middle" font-style="italic" fill="#9d2a5c" stroke="#9d2a5c">Csf3r</text>
<text x="205.2" y="501.8" font-size="7.3" text-anchor="middle" font-style="italic" fill="#9d2a5c" stroke="#9d2a5c">Atrx</text>
<text x="249.7" y="463.7" font-size="7.3" text-anchor="middle" font-style="italic" fill="#9d2a5c" stroke="#9d2a5c">Ctcf</text>
<text x="249.4" y="472.3" font-size="7.3" text-anchor="middle" font-style="italic" fill="#9d2a5c" stroke="#9d2a5c">Rad51b</text>
<text x="249.6" y="481.0" font-size="7.3" text-anchor="middle" font-style="italic" fill="#9d2a5c" stroke="#9d2a5c">Cdk4</text>
<text x="59.6" y="330.4" font-size="7.5" text-anchor="middle" fill="#231f20" textLength="28.5" lengthAdjust="spacingAndGlyphs">KSL cells</text>
<text x="59.6" y="339.2" font-size="7.5" text-anchor="middle" fill="#231f20">transplantation</text>
<text x="59.6" y="348.0" font-size="7.5" text-anchor="middle" fill="#231f20">636 genes</text>
<text x="59.6" y="356.79999999999995" font-size="7.5" text-anchor="middle" fill="#231f20">(N = 6pairs)</text>
<text x="113.6" y="307.9" font-size="7.5" text-anchor="middle" fill="#231f20" textLength="28.5" lengthAdjust="spacingAndGlyphs">KSL cells</text>
<text x="113.6" y="316.7" font-size="7.5" text-anchor="middle" fill="#231f20">steady-state</text>
<text x="113.6" y="325.5" font-size="7.5" text-anchor="middle" fill="#231f20">441 genes</text>
<text x="113.6" y="334.29999999999995" font-size="7.5" text-anchor="middle" fill="#231f20">(N = 6pairs)</text>
<text x="198.4" y="311.6" font-size="7.5" text-anchor="middle" fill="#231f20">MP cells</text>
<text x="198.4" y="320.65000000000003" font-size="7.5" text-anchor="middle" fill="#231f20">steady-state</text>
<text x="198.4" y="329.70000000000005" font-size="7.5" text-anchor="middle" fill="#231f20">141 genes</text>
<text x="198.4" y="338.75" font-size="7.5" text-anchor="middle" fill="#231f20">(N = 3pairs)</text>
<text x="248.6" y="328.4" font-size="7.5" text-anchor="middle" fill="#231f20">MP cells</text>
<text x="248.6" y="337.2" font-size="7.5" text-anchor="middle" fill="#231f20">transplantation</text>
<text x="248.6" y="346.0" font-size="7.5" text-anchor="middle" fill="#231f20">402 genes</text>
<text x="248.6" y="354.79999999999995" font-size="7.5" text-anchor="middle" fill="#231f20">(N = 3pairs)</text>
<text x="288.8" y="317.8" font-size="10.2" font-weight="bold" fill="#000" stroke="#000" style="stroke-width:0.45px">F</text>
<clipPath id="cma"><rect x="314" y="325" width="147.5" height="73.5"/></clipPath>
<g clip-path="url(#cma)">
<path d="M321,360 C323,353 327,350.5 334,350 C342,350 350,352 358,353.5 C366,354.5 374,356 384,357.5 L400,359 L400,361 L321,361 Z" fill="#d4d4d9"/>
<path d="M322,366 L400,366 L400,369 C380,370 360,372 345,375 C335,377 328,374 322,372 Z" fill="#e6e6ea"/>
<circle cx="376.6" cy="371.6" r="0.7" fill="#c4c4ca"/>
<circle cx="378.2" cy="365.4" r="0.7" fill="#c4c4ca"/>
<circle cx="383.1" cy="363.8" r="0.7" fill="#c4c4ca"/>
<circle cx="383.6" cy="362.9" r="0.7" fill="#c4c4ca"/>
<circle cx="397.4" cy="361.2" r="0.7" fill="#c4c4ca"/>
<circle cx="359.2" cy="364.3" r="0.7" fill="#c4c4ca"/>
<circle cx="334.3" cy="356.4" r="0.7" fill="#c4c4ca"/>
<circle cx="328.6" cy="375.2" r="0.7" fill="#c4c4ca"/>
<circle cx="438.7" cy="358.8" r="0.7" fill="#c4c4ca"/>
<circle cx="395.8" cy="362.4" r="0.7" fill="#c4c4ca"/>
<circle cx="342.1" cy="351.5" r="0.7" fill="#c4c4ca"/>
<circle cx="330.6" cy="360.4" r="0.7" fill="#c4c4ca"/>
<circle cx="345.9" cy="361.4" r="0.7" fill="#c4c4ca"/>
<circle cx="378.0" cy="360.4" r="0.7" fill="#c4c4ca"/>
<circle cx="375.3" cy="358.2" r="0.7" fill="#c4c4ca"/>
<circle cx="398.7" cy="364.1" r="0.7" fill="#c4c4ca"/>
<circle cx="382.2" cy="363.9" r="0.7" fill="#c4c4ca"/>
<circle cx="356.2" cy="367.9" r="0.7" fill="#c4c4ca"/>
<circle cx="440.5" cy="357.9" r="0.7" fill="#c4c4ca"/>
<circle cx="406.6" cy="361.6" r="0.7" fill="#c4c4ca"/>
<circle cx="360.6" cy="360.8" r="0.7" fill="#c4c4ca"/>
<circle cx="331.9" cy="354.0" r="0.7" fill="#c4c4ca"/>
<circle cx="413.4" cy="364.5" r="0.7" fill="#c4c4ca"/>
<circle cx="368.9" cy="355.2" r="0.7" fill="#c4c4ca"/>
<circle cx="435.9" cy="361.5" r="0.7" fill="#c4c4ca"/>
<circle cx="348.2" cy="361.7" r="0.7" fill="#c4c4ca"/>
<circle cx="430.3" cy="366.7" r="0.7" fill="#c4c4ca"/>
<circle cx="370.2" cy="358.7" r="0.7" fill="#c4c4ca"/>
<circle cx="332.2" cy="372.5" r="0.7" fill="#c4c4ca"/>
<circle cx="355.3" cy="370.2" r="0.7" fill="#c4c4ca"/>
<circle cx="333.9" cy="373.0" r="0.7" fill="#c4c4ca"/>
<circle cx="412.4" cy="357.3" r="0.7" fill="#c4c4ca"/>
<circle cx="337.5" cy="361.4" r="0.7" fill="#c4c4ca"/>
<circle cx="330.7" cy="357.2" r="0.7" fill="#c4c4ca"/>
<circle cx="417.0" cy="360.4" r="0.7" fill="#c4c4ca"/>
<circle cx="376.1" cy="355.9" r="0.7" fill="#c4c4ca"/>
<circle cx="346.0" cy="362.0" r="0.7" fill="#c4c4ca"/>
<circle cx="399.1" cy="362.8" r="0.7" fill="#c4c4ca"/>
<circle cx="337.3" cy="366.8" r="0.7" fill="#c4c4ca"/>
<circle cx="355.3" cy="359.2" r="0.7" fill="#c4c4ca"/>
<circle cx="437.4" cy="361.0" r="0.7" fill="#c4c4ca"/>
<circle cx="427.3" cy="363.0" r="0.7" fill="#c4c4ca"/>
<circle cx="348.3" cy="373.2" r="0.7" fill="#c4c4ca"/>
<circle cx="398.8" cy="358.4" r="0.7" fill="#c4c4ca"/>
<circle cx="335.4" cy="355.4" r="0.7" fill="#c4c4ca"/>
<circle cx="353.9" cy="361.8" r="0.7" fill="#c4c4ca"/>
<circle cx="414.2" cy="362.3" r="0.7" fill="#c4c4ca"/>
<circle cx="332.3" cy="354.7" r="0.7" fill="#c4c4ca"/>
<circle cx="334.2" cy="367.3" r="0.7" fill="#c4c4ca"/>
<circle cx="394.1" cy="362.6" r="0.7" fill="#c4c4ca"/>
<circle cx="367.2" cy="375.3" r="0.7" fill="#c4c4ca"/>
<circle cx="380.3" cy="358.3" r="0.7" fill="#c4c4ca"/>
<circle cx="391.0" cy="360.1" r="0.7" fill="#c4c4ca"/>
<circle cx="341.7" cy="365.4" r="0.7" fill="#c4c4ca"/>
<circle cx="430.1" cy="360.9" r="0.7" fill="#c4c4ca"/>
<circle cx="345.9" cy="366.9" r="0.7" fill="#c4c4ca"/>
<circle cx="410.3" cy="360.3" r="0.7" fill="#c4c4ca"/>
<circle cx="434.9" cy="362.0" r="0.7" fill="#c4c4ca"/>
<circle cx="427.0" cy="363.1" r="0.7" fill="#c4c4ca"/>
<circle cx="335.8" cy="367.1" r="0.7" fill="#c4c4ca"/>
<circle cx="328.2" cy="354.6" r="0.7" fill="#c4c4ca"/>
<circle cx="406.2" cy="361.8" r="0.7" fill="#c4c4ca"/>
<circle cx="353.8" cy="357.3" r="0.7" fill="#c4c4ca"/>
<circle cx="358.0" cy="369.5" r="0.7" fill="#c4c4ca"/>
<circle cx="344.2" cy="362.1" r="0.7" fill="#c4c4ca"/>
<circle cx="350.4" cy="364.2" r="0.7" fill="#c4c4ca"/>
<circle cx="389.2" cy="358.6" r="0.7" fill="#c4c4ca"/>
<circle cx="356.5" cy="369.0" r="0.7" fill="#c4c4ca"/>
<circle cx="431.1" cy="361.4" r="0.7" fill="#c4c4ca"/>
<circle cx="355.2" cy="360.3" r="0.7" fill="#c4c4ca"/>
<circle cx="375.9" cy="358.7" r="0.7" fill="#c4c4ca"/>
<circle cx="366.9" cy="360.2" r="0.7" fill="#c4c4ca"/>
<circle cx="390.7" cy="359.3" r="0.7" fill="#c4c4ca"/>
<circle cx="428.0" cy="360.2" r="0.7" fill="#c4c4ca"/>
<circle cx="438.5" cy="363.1" r="0.7" fill="#c4c4ca"/>
<circle cx="392.1" cy="365.7" r="0.7" fill="#c4c4ca"/>
<circle cx="340.1" cy="359.9" r="0.7" fill="#c4c4ca"/>
<circle cx="430.3" cy="361.4" r="0.7" fill="#c4c4ca"/>
<circle cx="405.8" cy="361.1" r="0.7" fill="#c4c4ca"/>
<circle cx="398.2" cy="361.6" r="0.7" fill="#c4c4ca"/>
<circle cx="380.1" cy="362.0" r="0.7" fill="#c4c4ca"/>
<circle cx="440.7" cy="363.1" r="0.7" fill="#c4c4ca"/>
<circle cx="332.5" cy="375.8" r="0.7" fill="#c4c4ca"/>
<circle cx="429.1" cy="362.4" r="0.7" fill="#c4c4ca"/>
<circle cx="410.0" cy="362.5" r="0.7" fill="#c4c4ca"/>
<circle cx="430.8" cy="364.7" r="0.7" fill="#c4c4ca"/>
<circle cx="364.9" cy="366.6" r="0.7" fill="#c4c4ca"/>
<circle cx="425.7" cy="365.2" r="0.7" fill="#c4c4ca"/>
<circle cx="372.5" cy="358.9" r="0.7" fill="#c4c4ca"/>
<circle cx="390.7" cy="368.0" r="0.7" fill="#c4c4ca"/>
<circle cx="396.9" cy="364.2" r="0.7" fill="#c4c4ca"/>
<circle cx="395.0" cy="358.9" r="0.7" fill="#c4c4ca"/>
<circle cx="333.1" cy="379.9" r="0.7" fill="#c4c4ca"/>
<circle cx="426.7" cy="366.1" r="0.7" fill="#c4c4ca"/>
<circle cx="408.9" cy="363.8" r="0.7" fill="#c4c4ca"/>
<circle cx="391.7" cy="358.0" r="0.7" fill="#c4c4ca"/>
<circle cx="375.3" cy="360.4" r="0.7" fill="#c4c4ca"/>
<circle cx="411.5" cy="362.2" r="0.7" fill="#c4c4ca"/>
<circle cx="327.2" cy="370.4" r="0.7" fill="#c4c4ca"/>
<circle cx="350.6" cy="366.5" r="0.7" fill="#c4c4ca"/>
<circle cx="405.4" cy="364.2" r="0.7" fill="#c4c4ca"/>
<circle cx="431.5" cy="361.5" r="0.7" fill="#c4c4ca"/>
<circle cx="353.6" cy="355.5" r="0.7" fill="#c4c4ca"/>
<circle cx="403.1" cy="361.4" r="0.7" fill="#c4c4ca"/>
<circle cx="347.4" cy="353.4" r="0.7" fill="#c4c4ca"/>
<circle cx="401.0" cy="357.0" r="0.7" fill="#c4c4ca"/>
<circle cx="375.4" cy="358.1" r="0.7" fill="#c4c4ca"/>
<circle cx="401.7" cy="362.8" r="0.7" fill="#c4c4ca"/>
<circle cx="346.9" cy="374.2" r="0.7" fill="#c4c4ca"/>
<circle cx="430.7" cy="360.1" r="0.7" fill="#c4c4ca"/>
<circle cx="426.8" cy="363.4" r="0.7" fill="#c4c4ca"/>
<circle cx="360.7" cy="355.9" r="0.7" fill="#c4c4ca"/>
<circle cx="339.6" cy="377.6" r="0.7" fill="#c4c4ca"/>
<circle cx="423.1" cy="361.4" r="0.7" fill="#c4c4ca"/>
<circle cx="407.0" cy="360.1" r="0.7" fill="#c4c4ca"/>
<circle cx="343.5" cy="363.5" r="0.7" fill="#c4c4ca"/>
<circle cx="376.4" cy="362.0" r="0.7" fill="#c4c4ca"/>
<circle cx="372.1" cy="357.9" r="0.7" fill="#c4c4ca"/>
<circle cx="396.9" cy="363.9" r="0.7" fill="#c4c4ca"/>
<circle cx="421.9" cy="361.4" r="0.7" fill="#c4c4ca"/>
<circle cx="438.7" cy="362.2" r="0.7" fill="#c4c4ca"/>
<circle cx="327.4" cy="360.4" r="0.7" fill="#c4c4ca"/>
<circle cx="425.9" cy="358.6" r="0.7" fill="#c4c4ca"/>
<circle cx="390.5" cy="360.1" r="0.7" fill="#c4c4ca"/>
<circle cx="359.9" cy="361.2" r="0.7" fill="#c4c4ca"/>
<circle cx="339.6" cy="363.1" r="0.7" fill="#c4c4ca"/>
<circle cx="376.9" cy="352.7" r="0.7" fill="#c4c4ca"/>
<circle cx="351.5" cy="359.4" r="0.7" fill="#c4c4ca"/>
<circle cx="340.2" cy="350.2" r="0.7" fill="#c4c4ca"/>
<circle cx="376.0" cy="359.5" r="0.7" fill="#c4c4ca"/>
<circle cx="397.4" cy="364.3" r="0.7" fill="#c4c4ca"/>
<circle cx="435.9" cy="364.3" r="0.7" fill="#c4c4ca"/>
<circle cx="403.8" cy="360.8" r="0.7" fill="#c4c4ca"/>
<circle cx="344.6" cy="352.9" r="0.7" fill="#c4c4ca"/>
<circle cx="324.9" cy="376.9" r="0.7" fill="#c4c4ca"/>
<circle cx="344.6" cy="359.3" r="0.7" fill="#c4c4ca"/>
<circle cx="355.6" cy="367.5" r="0.7" fill="#c4c4ca"/>
<circle cx="384.6" cy="356.4" r="0.7" fill="#c4c4ca"/>
<circle cx="395.6" cy="361.4" r="0.7" fill="#c4c4ca"/>
<circle cx="416.4" cy="363.4" r="0.7" fill="#c4c4ca"/>
<circle cx="429.8" cy="357.8" r="0.7" fill="#c4c4ca"/>
<circle cx="408.3" cy="359.2" r="0.7" fill="#c4c4ca"/>
<circle cx="338.9" cy="372.9" r="0.7" fill="#c4c4ca"/>
<circle cx="430.2" cy="360.7" r="0.7" fill="#c4c4ca"/>
<circle cx="367.8" cy="372.1" r="0.7" fill="#c4c4ca"/>
<circle cx="417.0" cy="363.1" r="0.7" fill="#c4c4ca"/>
<circle cx="434.2" cy="364.2" r="0.7" fill="#c4c4ca"/>
<circle cx="347.7" cy="359.0" r="0.7" fill="#c4c4ca"/>
<circle cx="408.2" cy="360.4" r="0.7" fill="#c4c4ca"/>
<circle cx="407.7" cy="363.9" r="0.7" fill="#c4c4ca"/>
<circle cx="348.6" cy="344.4" r="0.7" fill="#c4c4ca"/>
<circle cx="438.1" cy="364.6" r="0.7" fill="#c4c4ca"/>
<circle cx="386.6" cy="360.7" r="0.7" fill="#c4c4ca"/>
<circle cx="430.2" cy="363.1" r="0.7" fill="#c4c4ca"/>
<circle cx="423.9" cy="362.0" r="0.7" fill="#c4c4ca"/>
<circle cx="375.3" cy="359.8" r="0.7" fill="#c4c4ca"/>
<circle cx="388.1" cy="361.0" r="0.7" fill="#c4c4ca"/>
<circle cx="327.0" cy="372.6" r="0.7" fill="#c4c4ca"/>
<circle cx="418.4" cy="358.4" r="0.7" fill="#c4c4ca"/>
<circle cx="343.9" cy="355.9" r="0.7" fill="#c4c4ca"/>
<circle cx="362.9" cy="360.7" r="0.7" fill="#c4c4ca"/>
<circle cx="341.1" cy="365.9" r="0.7" fill="#c4c4ca"/>
<circle cx="384.2" cy="362.8" r="0.7" fill="#c4c4ca"/>
<circle cx="404.4" cy="365.3" r="0.7" fill="#c4c4ca"/>
<circle cx="434.4" cy="366.1" r="0.7" fill="#c4c4ca"/>
<circle cx="333.7" cy="360.5" r="0.7" fill="#c4c4ca"/>
<circle cx="349.6" cy="367.6" r="0.7" fill="#c4c4ca"/>
<circle cx="409.0" cy="361.8" r="0.7" fill="#c4c4ca"/>
<circle cx="398.5" cy="366.5" r="0.7" fill="#c4c4ca"/>
<circle cx="389.2" cy="362.5" r="0.7" fill="#c4c4ca"/>
<circle cx="324" cy="330" r="0.8" fill="#c4c4ca"/>
<circle cx="333.8" cy="327.6" r="0.8" fill="#c4c4ca"/>
<circle cx="322" cy="346.1" r="0.8" fill="#c4c4ca"/>
<circle cx="356" cy="330" r="0.8" fill="#c4c4ca"/>
<circle cx="320" cy="352" r="0.8" fill="#c4c4ca"/>
<circle cx="330" cy="383" r="0.8" fill="#c4c4ca"/>
<circle cx="360" cy="380" r="0.8" fill="#c4c4ca"/>
<circle cx="372" cy="377" r="0.8" fill="#c4c4ca"/>
<circle cx="390" cy="373" r="0.8" fill="#c4c4ca"/>
<circle cx="420" cy="372" r="0.8" fill="#c4c4ca"/>
<circle cx="445" cy="369" r="0.8" fill="#c4c4ca"/>
</g>
<line x1="313.6" y1="359.7" x2="462" y2="359.7" stroke="#231f20" stroke-width="1.1" stroke-dasharray="2.6,1.4"/>
<line x1="313.6" y1="362.8" x2="462" y2="362.8" stroke="#231f20" stroke-width="1.1" stroke-dasharray="2.6,1.4"/>
<circle cx="320.7" cy="376.9" r="1.5" fill="#27477f"/>
<circle cx="323.0" cy="376.9" r="1.5" fill="#27477f"/>
<circle cx="342.1" cy="375.3" r="1.5" fill="#27477f"/>
<circle cx="346.8" cy="375.3" r="1.5" fill="#27477f"/>
<circle cx="324.4" cy="392.9" r="1.5" fill="#27477f"/>
<circle cx="334.1" cy="395.3" r="1.5" fill="#27477f"/>
<circle cx="400.9" cy="364.4" r="1.5" fill="#27477f"/>
<circle cx="414.8" cy="365.3" r="1.5" fill="#27477f"/>
<circle cx="385.6" cy="364.5" r="1.5" fill="#27477f"/>
<circle cx="363.5" cy="366.8" r="1.5" fill="#27477f"/>
<circle cx="439.2" cy="366.0" r="1.5" fill="#27477f"/>
<circle cx="409.5" cy="364.5" r="1.5" fill="#27477f"/>
<circle cx="408.0" cy="365.6" r="1.5" fill="#27477f"/>
<circle cx="422.1" cy="365.1" r="1.5" fill="#27477f"/>
<circle cx="425.4" cy="365.8" r="1.5" fill="#27477f"/>
<circle cx="437.9" cy="366.8" r="1.5" fill="#27477f"/>
<circle cx="385.9" cy="365.0" r="1.5" fill="#27477f"/>
<circle cx="373.6" cy="368.2" r="1.5" fill="#27477f"/>
<circle cx="373.5" cy="366.8" r="1.5" fill="#27477f"/>
<circle cx="374.0" cy="367.4" r="1.5" fill="#27477f"/>
<circle cx="358.0" cy="365.6" r="1.5" fill="#27477f"/>
<circle cx="360.0" cy="365.0" r="1.5" fill="#27477f"/>
<circle cx="336.8" cy="365.1" r="1.5" fill="#27477f"/>
<circle cx="330.5" cy="366.1" r="1.5" fill="#27477f"/>
<circle cx="393.1" cy="364.7" r="1.5" fill="#27477f"/>
<circle cx="349.1" cy="365.2" r="1.5" fill="#27477f"/>
<circle cx="351.2" cy="365.4" r="1.5" fill="#27477f"/>
<circle cx="349.9" cy="367.4" r="1.5" fill="#27477f"/>
<circle cx="345.2" cy="365.1" r="1.5" fill="#27477f"/>
<circle cx="413.9" cy="365.2" r="1.5" fill="#27477f"/>
<circle cx="360.4" cy="368.2" r="1.5" fill="#27477f"/>
<circle cx="380.5" cy="365.1" r="1.5" fill="#27477f"/>
<circle cx="354.3" cy="368.1" r="1.5" fill="#27477f"/>
<circle cx="364.0" cy="367.6" r="1.5" fill="#27477f"/>
<circle cx="388.7" cy="365.8" r="1.5" fill="#27477f"/>
<circle cx="349.5" cy="365.5" r="1.5" fill="#27477f"/>
<circle cx="329.0" cy="365.5" r="1.5" fill="#27477f"/>
<circle cx="386.3" cy="365.6" r="1.5" fill="#27477f"/>
<circle cx="384.9" cy="365.0" r="1.5" fill="#27477f"/>
<circle cx="401.9" cy="368.3" r="1.5" fill="#27477f"/>
<circle cx="351.5" cy="367.0" r="1.5" fill="#27477f"/>
<circle cx="367.6" cy="365.0" r="1.5" fill="#27477f"/>
<circle cx="418.6" cy="365.0" r="1.5" fill="#27477f"/>
<circle cx="354.1" cy="365.6" r="1.5" fill="#27477f"/>
<circle cx="427.3" cy="367.1" r="1.5" fill="#27477f"/>
<circle cx="355.0" cy="369.4" r="1.5" fill="#27477f"/>
<circle cx="387.1" cy="365.7" r="1.5" fill="#27477f"/>
<circle cx="323.2" cy="367.5" r="1.5" fill="#27477f"/>
<circle cx="424.5" cy="365.3" r="1.5" fill="#27477f"/>
<circle cx="409.0" cy="364.9" r="1.5" fill="#27477f"/>
<circle cx="334.7" cy="369.5" r="1.5" fill="#27477f"/>
<circle cx="393.4" cy="365.0" r="1.5" fill="#27477f"/>
<circle cx="417.7" cy="366.9" r="1.5" fill="#27477f"/>
<circle cx="333.9" cy="367.0" r="1.5" fill="#27477f"/>
<circle cx="348.0" cy="367.1" r="1.5" fill="#27477f"/>
<circle cx="341.9" cy="365.5" r="1.5" fill="#27477f"/>
<circle cx="360.4" cy="365.2" r="1.5" fill="#27477f"/>
<circle cx="359.7" cy="365.6" r="1.5" fill="#27477f"/>
<circle cx="379.1" cy="365.3" r="1.5" fill="#27477f"/>
<circle cx="405.5" cy="365.6" r="1.5" fill="#27477f"/>
<circle cx="335.7" cy="369.7" r="1.5" fill="#27477f"/>
<circle cx="422.6" cy="365.2" r="1.5" fill="#27477f"/>
<circle cx="324.5" cy="365.2" r="1.5" fill="#27477f"/>
<circle cx="390.7" cy="365.3" r="1.5" fill="#27477f"/>
<circle cx="378.0" cy="370.8" r="1.5" fill="#27477f"/>
<circle cx="396.9" cy="364.7" r="1.5" fill="#27477f"/>
<circle cx="357.8" cy="366.6" r="1.5" fill="#27477f"/>
<circle cx="358.8" cy="366.6" r="1.5" fill="#27477f"/>
<circle cx="363.5" cy="367.1" r="1.5" fill="#27477f"/>
<circle cx="353.8" cy="366.7" r="1.5" fill="#27477f"/>
<circle cx="347.0" cy="365.1" r="1.5" fill="#27477f"/>
<circle cx="436.4" cy="365.6" r="1.5" fill="#27477f"/>
<circle cx="409.9" cy="365.6" r="1.5" fill="#27477f"/>
<circle cx="334.3" cy="368.0" r="1.5" fill="#27477f"/>
<circle cx="408.0" cy="365.0" r="1.5" fill="#27477f"/>
<circle cx="423.4" cy="365.6" r="1.5" fill="#27477f"/>
<circle cx="371.8" cy="368.7" r="1.5" fill="#27477f"/>
<circle cx="374.2" cy="366.8" r="1.5" fill="#27477f"/>
<circle cx="384.4" cy="365.7" r="1.5" fill="#27477f"/>
<circle cx="362.8" cy="367.5" r="1.5" fill="#27477f"/>
<circle cx="372.5" cy="366.8" r="1.5" fill="#27477f"/>
<circle cx="407.0" cy="364.5" r="1.5" fill="#27477f"/>
<circle cx="440.8" cy="365.4" r="1.5" fill="#27477f"/>
<circle cx="364.1" cy="367.1" r="1.5" fill="#27477f"/>
<circle cx="401.1" cy="365.4" r="1.5" fill="#27477f"/>
<circle cx="384.1" cy="365.2" r="1.5" fill="#27477f"/>
<circle cx="417.6" cy="365.2" r="1.5" fill="#27477f"/>
<circle cx="342.0" cy="367.2" r="1.5" fill="#27477f"/>
<circle cx="431.4" cy="365.3" r="1.5" fill="#27477f"/>
<circle cx="340.0" cy="366.7" r="1.5" fill="#27477f"/>
<circle cx="441.4" cy="364.9" r="1.5" fill="#27477f"/>
<circle cx="346.7" cy="368.4" r="1.5" fill="#27477f"/>
<circle cx="436.4" cy="364.6" r="1.5" fill="#27477f"/>
<circle cx="352.4" cy="365.7" r="1.5" fill="#27477f"/>
<circle cx="392.2" cy="364.8" r="1.5" fill="#27477f"/>
<circle cx="378.6" cy="366.5" r="1.5" fill="#27477f"/>
<circle cx="337.9" cy="367.6" r="1.5" fill="#27477f"/>
<circle cx="388.2" cy="366.5" r="1.5" fill="#27477f"/>
<circle cx="390.3" cy="365.3" r="1.5" fill="#27477f"/>
<circle cx="432.1" cy="364.8" r="1.5" fill="#27477f"/>
<circle cx="421.1" cy="366.1" r="1.5" fill="#27477f"/>
<circle cx="357.6" cy="367.4" r="1.5" fill="#27477f"/>
<circle cx="391.8" cy="364.8" r="1.5" fill="#27477f"/>
<circle cx="388.7" cy="365.1" r="1.5" fill="#27477f"/>
<circle cx="344.6" cy="367.5" r="1.5" fill="#27477f"/>
<circle cx="359.9" cy="365.9" r="1.5" fill="#27477f"/>
<circle cx="403.5" cy="364.5" r="1.5" fill="#27477f"/>
<circle cx="394.0" cy="365.7" r="1.5" fill="#27477f"/>
<circle cx="346.9" cy="365.9" r="1.5" fill="#27477f"/>
<circle cx="369.4" cy="365.1" r="1.5" fill="#27477f"/>
<circle cx="391.3" cy="365.1" r="1.5" fill="#27477f"/>
<circle cx="354.6" cy="366.9" r="1.5" fill="#27477f"/>
<circle cx="391.2" cy="365.3" r="1.5" fill="#27477f"/>
<circle cx="327.5" cy="367.3" r="1.5" fill="#27477f"/>
<circle cx="340.4" cy="366.6" r="1.5" fill="#27477f"/>
<circle cx="372.4" cy="366.2" r="1.5" fill="#27477f"/>
<circle cx="397.9" cy="365.2" r="1.5" fill="#27477f"/>
<circle cx="413.2" cy="366.4" r="1.5" fill="#27477f"/>
<circle cx="381.3" cy="366.9" r="1.5" fill="#27477f"/>
<circle cx="375.1" cy="365.0" r="1.5" fill="#27477f"/>
<circle cx="390.9" cy="365.7" r="1.5" fill="#27477f"/>
<circle cx="386.0" cy="365.3" r="1.5" fill="#27477f"/>
<circle cx="374.9" cy="366.3" r="1.5" fill="#27477f"/>
<circle cx="329.6" cy="365.8" r="1.5" fill="#27477f"/>
<circle cx="431.0" cy="366.2" r="1.5" fill="#27477f"/>
<circle cx="359.6" cy="366.7" r="1.5" fill="#27477f"/>
<circle cx="394.2" cy="365.0" r="1.5" fill="#27477f"/>
<circle cx="376.6" cy="365.3" r="1.5" fill="#27477f"/>
<circle cx="383.3" cy="364.7" r="1.5" fill="#27477f"/>
<circle cx="406.4" cy="364.7" r="1.5" fill="#27477f"/>
<circle cx="342.1" cy="339.4" r="1.5" fill="#b0102e"/>
<circle cx="350.1" cy="340.1" r="1.5" fill="#b0102e"/>
<circle cx="348.1" cy="343.1" r="1.5" fill="#b0102e"/>
<circle cx="352.8" cy="344.7" r="1.5" fill="#b0102e"/>
<circle cx="340.5" cy="347.2" r="1.5" fill="#b0102e"/>
<circle cx="331.7" cy="350.4" r="1.5" fill="#b0102e"/>
<circle cx="336.1" cy="349.0" r="1.5" fill="#b0102e"/>
<circle cx="348.1" cy="349.4" r="1.5" fill="#b0102e"/>
<circle cx="352.8" cy="348.1" r="1.5" fill="#b0102e"/>
<circle cx="357.5" cy="349.4" r="1.5" fill="#b0102e"/>
<circle cx="363.5" cy="348.8" r="1.5" fill="#b0102e"/>
<circle cx="366.9" cy="346.1" r="1.5" fill="#b0102e"/>
<circle cx="367.5" cy="350.8" r="1.5" fill="#b0102e"/>
<circle cx="338.1" cy="353.4" r="1.5" fill="#b0102e"/>
<circle cx="342.8" cy="354.1" r="1.5" fill="#b0102e"/>
<circle cx="340.1" cy="356.5" r="1.5" fill="#b0102e"/>
<circle cx="346.1" cy="353.4" r="1.5" fill="#b0102e"/>
<circle cx="348.8" cy="352.8" r="1.5" fill="#b0102e"/>
<circle cx="352.2" cy="357.1" r="1.5" fill="#b0102e"/>
<circle cx="357.5" cy="357.1" r="1.5" fill="#b0102e"/>
<circle cx="356.8" cy="352.1" r="1.5" fill="#b0102e"/>
<circle cx="368.2" cy="354.1" r="1.5" fill="#b0102e"/>
<circle cx="372.9" cy="354.1" r="1.5" fill="#b0102e"/>
<circle cx="378.2" cy="346.6" r="1.5" fill="#b0102e"/>
<circle cx="386.6" cy="346.6" r="1.5" fill="#b0102e"/>
<circle cx="376.6" cy="358.2" r="1.5" fill="#b0102e"/>
<circle cx="381.2" cy="357.4" r="1.5" fill="#b0102e"/>
<circle cx="384.3" cy="355.1" r="1.5" fill="#b0102e"/>
<circle cx="389.7" cy="350.5" r="1.5" fill="#b0102e"/>
<circle cx="388.9" cy="357.4" r="1.5" fill="#b0102e"/>
<circle cx="390.4" cy="350.4" r="1.5" fill="#b0102e"/>
<circle cx="396.1" cy="346.5" r="1.5" fill="#b0102e"/>
<circle cx="399.6" cy="348.5" r="1.5" fill="#b0102e"/>
<circle cx="403.5" cy="355.0" r="1.5" fill="#b0102e"/>
<circle cx="408.1" cy="353.2" r="1.5" fill="#b0102e"/>
<circle cx="398.1" cy="355.0" r="1.5" fill="#b0102e"/>
<circle cx="392.0" cy="355.0" r="1.5" fill="#b0102e"/>
<circle cx="395.0" cy="357.0" r="1.5" fill="#b0102e"/>
<circle cx="362.0" cy="357.0" r="1.5" fill="#b0102e"/>
<circle cx="366.0" cy="358.0" r="1.5" fill="#b0102e"/>
<circle cx="371.0" cy="356.0" r="1.5" fill="#b0102e"/>
<circle cx="380.0" cy="354.0" r="1.5" fill="#b0102e"/>
<circle cx="386.0" cy="353.0" r="1.5" fill="#b0102e"/>
<circle cx="384.5" cy="356.5" r="1.5" fill="#b0102e"/>
<circle cx="434.5" cy="356.6" r="1.5" fill="#b0102e"/>
<circle cx="375.7" cy="356.3" r="1.5" fill="#b0102e"/>
<circle cx="402.6" cy="355.5" r="1.5" fill="#b0102e"/>
<circle cx="406.7" cy="357.8" r="1.5" fill="#b0102e"/>
<circle cx="400.8" cy="356.8" r="1.5" fill="#b0102e"/>
<circle cx="409.4" cy="354.9" r="1.5" fill="#b0102e"/>
<circle cx="401.9" cy="357.7" r="1.5" fill="#b0102e"/>
<circle cx="392.0" cy="357.8" r="1.5" fill="#b0102e"/>
<circle cx="399.7" cy="356.7" r="1.5" fill="#b0102e"/>
<circle cx="416.7" cy="356.8" r="1.5" fill="#b0102e"/>
<circle cx="393.2" cy="357.6" r="1.5" fill="#b0102e"/>
<circle cx="439.3" cy="357.4" r="1.5" fill="#b0102e"/>
<circle cx="398.2" cy="357.8" r="1.5" fill="#b0102e"/>
<circle cx="368.8" cy="356.1" r="1.5" fill="#b0102e"/>
<circle cx="434.5" cy="357.3" r="1.5" fill="#b0102e"/>
<circle cx="398.5" cy="358.0" r="1.5" fill="#b0102e"/>
<circle cx="410.5" cy="357.5" r="1.5" fill="#b0102e"/>
<circle cx="436.6" cy="356.7" r="1.5" fill="#b0102e"/>
<circle cx="359.9" cy="356.7" r="1.5" fill="#b0102e"/>
<circle cx="374.5" cy="358.0" r="1.5" fill="#b0102e"/>
<circle cx="385.4" cy="356.3" r="1.5" fill="#b0102e"/>
<circle cx="388.2" cy="357.9" r="1.5" fill="#b0102e"/>
<circle cx="420.1" cy="357.9" r="1.5" fill="#b0102e"/>
<circle cx="368.4" cy="357.3" r="1.5" fill="#b0102e"/>
<circle cx="374.8" cy="358.2" r="1.5" fill="#b0102e"/>
<circle cx="403.1" cy="357.1" r="1.5" fill="#b0102e"/>
<circle cx="393.1" cy="357.8" r="1.5" fill="#b0102e"/>
<circle cx="403.0" cy="357.8" r="1.5" fill="#b0102e"/>
<circle cx="411.7" cy="357.6" r="1.5" fill="#b0102e"/>
<circle cx="412.3" cy="355.8" r="1.5" fill="#b0102e"/>
<circle cx="410.0" cy="357.8" r="1.5" fill="#b0102e"/>
<circle cx="430.8" cy="358.1" r="1.5" fill="#b0102e"/>
<circle cx="426.9" cy="356.2" r="1.5" fill="#b0102e"/>
<circle cx="434.7" cy="357.8" r="1.5" fill="#b0102e"/>
<circle cx="436.4" cy="357.3" r="1.5" fill="#b0102e"/>
<circle cx="376.5" cy="355.6" r="1.5" fill="#b0102e"/>
<circle cx="369.4" cy="358.3" r="1.5" fill="#b0102e"/>
<circle cx="378.3" cy="358.2" r="1.5" fill="#b0102e"/>
<circle cx="366.2" cy="357.3" r="1.5" fill="#b0102e"/>
<circle cx="428.7" cy="356.3" r="1.5" fill="#b0102e"/>
<circle cx="368.7" cy="357.2" r="1.5" fill="#b0102e"/>
<circle cx="392.2" cy="358.2" r="1.5" fill="#b0102e"/>
<circle cx="375.1" cy="358.1" r="1.5" fill="#b0102e"/>
<circle cx="416.0" cy="355.4" r="1.5" fill="#b0102e"/>
<circle cx="367.8" cy="356.5" r="1.5" fill="#b0102e"/>
<circle cx="401.0" cy="358.2" r="1.5" fill="#b0102e"/>
<circle cx="416.3" cy="356.8" r="1.5" fill="#b0102e"/>
<circle cx="374.1" cy="357.7" r="1.5" fill="#b0102e"/>
<circle cx="361.2" cy="358.0" r="1.5" fill="#b0102e"/>
<circle cx="404.9" cy="356.6" r="1.5" fill="#b0102e"/>
<circle cx="370.5" cy="358.1" r="1.5" fill="#b0102e"/>
<circle cx="373.7" cy="357.6" r="1.5" fill="#b0102e"/>
<circle cx="442.2" cy="355.9" r="1.5" fill="#b0102e"/>
<circle cx="436.8" cy="357.9" r="1.5" fill="#b0102e"/>
<circle cx="438.9" cy="358.0" r="1.5" fill="#b0102e"/>
<circle cx="397.3" cy="358.2" r="1.5" fill="#b0102e"/>
<circle cx="397.7" cy="357.1" r="1.5" fill="#b0102e"/>
<circle cx="401.8" cy="356.7" r="1.5" fill="#b0102e"/>
<circle cx="359.1" cy="357.6" r="1.5" fill="#b0102e"/>
<circle cx="417.6" cy="357.8" r="1.5" fill="#b0102e"/>
<circle cx="396.6" cy="357.6" r="1.5" fill="#b0102e"/>
<circle cx="420.8" cy="357.6" r="1.5" fill="#b0102e"/>
<circle cx="372.0" cy="357.8" r="1.5" fill="#b0102e"/>
<circle cx="401.6" cy="355.6" r="1.5" fill="#b0102e"/>
<circle cx="426.1" cy="358.0" r="1.5" fill="#b0102e"/>
<circle cx="417.9" cy="357.1" r="1.5" fill="#b0102e"/>
<circle cx="392.4" cy="356.9" r="1.5" fill="#b0102e"/>
<circle cx="409.0" cy="354.6" r="1.5" fill="#b0102e"/>
<circle cx="426.4" cy="358.2" r="1.5" fill="#b0102e"/>
<circle cx="380.0" cy="356.5" r="1.5" fill="#b0102e"/>
<circle cx="424.1" cy="357.2" r="1.5" fill="#b0102e"/>
<circle cx="427.2" cy="356.0" r="1.5" fill="#b0102e"/>
<circle cx="432.8" cy="356.8" r="1.5" fill="#b0102e"/>
<circle cx="417.1" cy="358.1" r="1.5" fill="#b0102e"/>
<circle cx="392.5" cy="356.1" r="1.5" fill="#b0102e"/>
<circle cx="419.4" cy="357.2" r="1.5" fill="#b0102e"/>
<circle cx="397.9" cy="357.8" r="1.5" fill="#b0102e"/>
<circle cx="358.9" cy="357.2" r="1.5" fill="#b0102e"/>
<circle cx="411.0" cy="356.8" r="1.5" fill="#b0102e"/>
<circle cx="377.7" cy="356.5" r="1.5" fill="#b0102e"/>
<circle cx="386.7" cy="357.6" r="1.5" fill="#b0102e"/>
<circle cx="414.1" cy="356.8" r="1.5" fill="#b0102e"/>
<circle cx="391.1" cy="357.6" r="1.5" fill="#b0102e"/>
<circle cx="443.0" cy="357.0" r="1.5" fill="#b0102e"/>
<circle cx="422.7" cy="356.7" r="1.5" fill="#b0102e"/>
<circle cx="441.3" cy="356.5" r="1.5" fill="#b0102e"/>
<circle cx="420.8" cy="358.0" r="1.5" fill="#b0102e"/>
<circle cx="379.8" cy="358.0" r="1.5" fill="#b0102e"/>
<circle cx="374.6" cy="358.1" r="1.5" fill="#b0102e"/>
<circle cx="389.9" cy="357.5" r="1.5" fill="#b0102e"/>
<circle cx="435.0" cy="357.7" r="1.5" fill="#b0102e"/>
<circle cx="404.8" cy="354.9" r="1.5" fill="#b0102e"/>
<circle cx="406.3" cy="358.1" r="1.5" fill="#b0102e"/>
<circle cx="442.6" cy="356.8" r="1.5" fill="#b0102e"/>
<circle cx="364.5" cy="356.5" r="1.5" fill="#b0102e"/>
<circle cx="408.8" cy="358.3" r="1.5" fill="#b0102e"/>
<circle cx="437.1" cy="357.9" r="1.5" fill="#b0102e"/>
<circle cx="371.6" cy="357.5" r="1.5" fill="#b0102e"/>
<circle cx="400.1" cy="358.2" r="1.5" fill="#b0102e"/>
<circle cx="409.9" cy="355.4" r="1.5" fill="#b0102e"/>
<circle cx="393.8" cy="357.2" r="1.5" fill="#b0102e"/>
<circle cx="402.8" cy="357.3" r="1.5" fill="#b0102e"/>
<circle cx="382.3" cy="357.6" r="1.5" fill="#b0102e"/>
<circle cx="413.7" cy="357.3" r="1.5" fill="#b0102e"/>
<circle cx="418.9" cy="357.9" r="1.5" fill="#b0102e"/>
<circle cx="383.2" cy="357.3" r="1.5" fill="#b0102e"/>
<circle cx="361.6" cy="358.2" r="1.5" fill="#b0102e"/>
<circle cx="371.3" cy="358.3" r="1.5" fill="#b0102e"/>
<circle cx="434.3" cy="357.0" r="1.5" fill="#b0102e"/>
<circle cx="421.6" cy="354.6" r="1.5" fill="#b0102e"/>
<circle cx="438.3" cy="357.1" r="1.5" fill="#b0102e"/>
<circle cx="364.2" cy="357.2" r="1.5" fill="#b0102e"/>
<circle cx="398.6" cy="357.5" r="1.5" fill="#b0102e"/>
<circle cx="440.7" cy="358.2" r="1.5" fill="#b0102e"/>
<circle cx="437.7" cy="356.7" r="1.5" fill="#b0102e"/>
<circle cx="419.4" cy="354.8" r="1.5" fill="#b0102e"/>
<circle cx="427.4" cy="357.6" r="1.5" fill="#b0102e"/>
<circle cx="409.3" cy="356.9" r="1.5" fill="#b0102e"/>
<circle cx="396.7" cy="357.1" r="1.5" fill="#b0102e"/>
<circle cx="375.3" cy="356.8" r="1.5" fill="#b0102e"/>
<circle cx="368.6" cy="357.8" r="1.5" fill="#b0102e"/>
<circle cx="395.6" cy="357.6" r="1.5" fill="#b0102e"/>
<circle cx="380.3" cy="357.1" r="1.5" fill="#b0102e"/>
<circle cx="407.5" cy="356.3" r="1.5" fill="#b0102e"/>
<circle cx="403.1" cy="357.2" r="1.5" fill="#b0102e"/>
<circle cx="442.8" cy="356.3" r="1.5" fill="#b0102e"/>
<circle cx="378.3" cy="357.7" r="1.5" fill="#b0102e"/>
<circle cx="367.7" cy="356.5" r="1.5" fill="#b0102e"/>
<circle cx="411.1" cy="356.9" r="1.5" fill="#b0102e"/>
<circle cx="388.5" cy="358.0" r="1.5" fill="#b0102e"/>
<circle cx="406.0" cy="356.3" r="1.5" fill="#b0102e"/>
<circle cx="408.3" cy="356.8" r="1.5" fill="#b0102e"/>
<circle cx="374.1" cy="356.7" r="1.5" fill="#b0102e"/>
<circle cx="379.2" cy="355.4" r="1.5" fill="#b0102e"/>
<circle cx="432.7" cy="357.9" r="1.5" fill="#b0102e"/>
<circle cx="361.4" cy="357.3" r="1.5" fill="#b0102e"/>
<circle cx="394.1" cy="357.9" r="1.5" fill="#b0102e"/>
<circle cx="411.0" cy="357.0" r="1.5" fill="#b0102e"/>
<circle cx="364.2" cy="357.3" r="1.5" fill="#b0102e"/>
<circle cx="365.3" cy="357.6" r="1.5" fill="#b0102e"/>
<circle cx="411.6" cy="356.8" r="1.5" fill="#b0102e"/>
<circle cx="389.7" cy="357.4" r="1.5" fill="#b0102e"/>
<circle cx="387.2" cy="358.2" r="1.5" fill="#b0102e"/>
<circle cx="421.3" cy="358.0" r="1.5" fill="#b0102e"/>
<circle cx="368.2" cy="357.9" r="1.5" fill="#b0102e"/>
<circle cx="426.8" cy="356.7" r="1.5" fill="#b0102e"/>
<circle cx="376.1" cy="356.7" r="1.5" fill="#b0102e"/>
<circle cx="394.1" cy="358.2" r="1.5" fill="#b0102e"/>
<circle cx="389.4" cy="355.9" r="1.5" fill="#b0102e"/>
<circle cx="413.6" cy="357.1" r="1.5" fill="#b0102e"/>
<circle cx="404.6" cy="358.2" r="1.5" fill="#b0102e"/>
<circle cx="421.4" cy="357.1" r="1.5" fill="#b0102e"/>
<circle cx="389.4" cy="357.6" r="1.5" fill="#b0102e"/>
<circle cx="366.2" cy="357.9" r="1.5" fill="#b0102e"/>
<circle cx="365.1" cy="357.9" r="1.5" fill="#b0102e"/>
<circle cx="406.0" cy="356.3" r="1.5" fill="#b0102e"/>
<circle cx="383.4" cy="358.1" r="1.5" fill="#b0102e"/>
<circle cx="423.9" cy="357.5" r="1.5" fill="#b0102e"/>
<circle cx="414.3" cy="357.9" r="1.5" fill="#b0102e"/>
<circle cx="364.9" cy="357.6" r="1.5" fill="#b0102e"/>
<circle cx="417.0" cy="356.3" r="1.5" fill="#b0102e"/>
<circle cx="382.0" cy="357.5" r="1.5" fill="#b0102e"/>
<circle cx="419.7" cy="357.3" r="1.5" fill="#b0102e"/>
<circle cx="389.1" cy="356.8" r="1.5" fill="#b0102e"/>
<circle cx="406.4" cy="356.9" r="1.5" fill="#b0102e"/>
<circle cx="436.1" cy="355.6" r="1.5" fill="#b0102e"/>
<circle cx="395.2" cy="357.2" r="1.5" fill="#b0102e"/>
<circle cx="426.3" cy="357.9" r="1.5" fill="#b0102e"/>
<circle cx="392.0" cy="357.2" r="1.5" fill="#b0102e"/>
<circle cx="367.7" cy="356.0" r="1.5" fill="#b0102e"/>
<circle cx="347.7" cy="356.3" r="1.5" fill="#b0102e"/>
<circle cx="347.8" cy="355.9" r="1.5" fill="#b0102e"/>
<circle cx="348.6" cy="355.6" r="1.5" fill="#b0102e"/>
<circle cx="341.8" cy="353.4" r="1.5" fill="#b0102e"/>
<circle cx="353.9" cy="355.8" r="1.5" fill="#b0102e"/>
<circle cx="364.3" cy="356.1" r="1.5" fill="#b0102e"/>
<circle cx="361.6" cy="356.9" r="1.5" fill="#b0102e"/>
<circle cx="365.8" cy="357.4" r="1.5" fill="#b0102e"/>
<circle cx="353.0" cy="357.0" r="1.5" fill="#b0102e"/>
<circle cx="354.0" cy="351.6" r="1.5" fill="#b0102e"/>
<circle cx="357.8" cy="354.8" r="1.5" fill="#b0102e"/>
<circle cx="363.2" cy="354.6" r="1.5" fill="#b0102e"/>
<circle cx="362.6" cy="356.3" r="1.5" fill="#b0102e"/>
<circle cx="337.9" cy="353.9" r="1.5" fill="#b0102e"/>
<circle cx="366.5" cy="355.5" r="1.5" fill="#b0102e"/>
<circle cx="338.0" cy="356.6" r="1.5" fill="#b0102e"/>
<circle cx="361.1" cy="356.5" r="1.5" fill="#b0102e"/>
<rect x="313.6" y="324.5" width="148.4" height="74.3" fill="none" stroke="#231f20" stroke-width="1.2"/>
<line x1="311" y1="326.25" x2="313.6" y2="326.25" stroke="#231f20" stroke-width="1.0"/>
<text x="308.4" y="328.45" font-size="6.3" text-anchor="end" fill="#231f20">6</text>
<line x1="311" y1="338.0" x2="313.6" y2="338.0" stroke="#231f20" stroke-width="1.0"/>
<text x="308.4" y="340.2" font-size="6.3" text-anchor="end" fill="#231f20">4</text>
<line x1="311" y1="349.75" x2="313.6" y2="349.75" stroke="#231f20" stroke-width="1.0"/>
<text x="308.4" y="351.95" font-size="6.3" text-anchor="end" fill="#231f20">2</text>
<line x1="311" y1="361.5" x2="313.6" y2="361.5" stroke="#231f20" stroke-width="1.0"/>
<text x="308.4" y="363.7" font-size="6.3" text-anchor="end" fill="#231f20">0</text>
<line x1="311" y1="373.25" x2="313.6" y2="373.25" stroke="#231f20" stroke-width="1.0"/>
<text x="308.4" y="375.45" font-size="6.3" text-anchor="end" fill="#231f20">-2</text>
<line x1="311" y1="385.0" x2="313.6" y2="385.0" stroke="#231f20" stroke-width="1.0"/>
<text x="308.4" y="387.2" font-size="6.3" text-anchor="end" fill="#231f20">-4</text>
<line x1="311" y1="396.75" x2="313.6" y2="396.75" stroke="#231f20" stroke-width="1.0"/>
<text x="308.4" y="398.95" font-size="6.3" text-anchor="end" fill="#231f20">-6</text>
<line x1="330.0" y1="398.8" x2="330.0" y2="401.4" stroke="#231f20" stroke-width="1.0"/>
<text x="330.0" y="409.9" font-size="6.3" text-anchor="middle" fill="#231f20">0</text>
<line x1="351.1" y1="398.8" x2="351.1" y2="401.4" stroke="#231f20" stroke-width="1.0"/>
<text x="351.1" y="409.9" font-size="6.3" text-anchor="middle" fill="#231f20">2</text>
<line x1="372.2" y1="398.8" x2="372.2" y2="401.4" stroke="#231f20" stroke-width="1.0"/>
<text x="372.2" y="409.9" font-size="6.3" text-anchor="middle" fill="#231f20">4</text>
<line x1="393.3" y1="398.8" x2="393.3" y2="401.4" stroke="#231f20" stroke-width="1.0"/>
<text x="393.3" y="409.9" font-size="6.3" text-anchor="middle" fill="#231f20">6</text>
<line x1="414.4" y1="398.8" x2="414.4" y2="401.4" stroke="#231f20" stroke-width="1.0"/>
<text x="414.4" y="409.9" font-size="6.3" text-anchor="middle" fill="#231f20">8</text>
<line x1="435.5" y1="398.8" x2="435.5" y2="401.4" stroke="#231f20" stroke-width="1.0"/>
<text x="435.5" y="409.9" font-size="6.3" text-anchor="middle" fill="#231f20">10</text>
<line x1="456.6" y1="398.8" x2="456.6" y2="401.4" stroke="#231f20" stroke-width="1.0"/>
<text x="456.6" y="409.9" font-size="6.3" text-anchor="middle" fill="#231f20">12</text>
<text transform="translate(298.4,361.3) rotate(-90)" font-size="7.4" text-anchor="middle" fill="#231f20" textLength="51" lengthAdjust="spacingAndGlyphs">Log2 fold change</text>
<text x="352.5" y="422.2" font-size="8.2" fill="#231f20" textLength="71.7" lengthAdjust="spacingAndGlyphs">Log2 (count per million)</text>
<line x1="383.5" y1="342" x2="383.5" y2="356.6" stroke="#2a4a4a" stroke-width="0.9"/>
<text x="376.6" y="339.6" font-size="6.2" font-style="italic" fill="#231f20" textLength="13.9" lengthAdjust="spacingAndGlyphs">Mfed1</text>
<line x1="435" y1="349.5" x2="441.3" y2="358.5" stroke="#231f20" stroke-width="0.9"/>
<text x="411.9" y="348.0" font-size="6.2" font-style="italic" fill="#231f20" textLength="24.6" lengthAdjust="spacingAndGlyphs">Hnrnpa2b1</text>
<line x1="451.2" y1="340.3" x2="448.2" y2="352.8" stroke="#231f20" stroke-width="0.9"/>
<rect x="446.3" y="353.2" width="3.1" height="2.9" fill="#6b0a1e"/>
<text x="445.2" y="338.6" font-size="6.2" font-style="italic" fill="#231f20" textLength="11.5" lengthAdjust="spacingAndGlyphs">Mpo</text>
<line x1="406.1" y1="366.4" x2="409.3" y2="377.2" stroke="#231f20" stroke-width="0.9"/>
<text x="408.4" y="384.6" font-size="6.2" font-style="italic" fill="#231f20" textLength="22.2" lengthAdjust="spacingAndGlyphs">Trp53bp1</text>
<line x1="389.5" y1="367.1" x2="387.2" y2="377.2" stroke="#231f20" stroke-width="0.9"/>
<text x="382.8" y="385.2" font-size="6.2" font-style="italic" fill="#231f20" textLength="7.4" lengthAdjust="spacingAndGlyphs">Erg</text>
<clipPath id="cvo"><rect x="314" y="432" width="147.5" height="73"/></clipPath>
<g clip-path="url(#cvo)">
<path d="M366,505 Q374,499 388,498.5 Q400,499 410,505 Z" fill="#dcdce0"/>
<circle cx="380.1" cy="502.4" r="0.7" fill="#c8c8cc"/>
<circle cx="384.0" cy="501.1" r="0.7" fill="#c8c8cc"/>
<circle cx="387.8" cy="502.0" r="0.7" fill="#c8c8cc"/>
<circle cx="409.9" cy="500.4" r="0.7" fill="#c8c8cc"/>
<circle cx="377.2" cy="499.8" r="0.7" fill="#c8c8cc"/>
<circle cx="371.4" cy="501.2" r="0.7" fill="#c8c8cc"/>
<circle cx="390.5" cy="500.0" r="0.7" fill="#c8c8cc"/>
<circle cx="367.5" cy="501.2" r="0.7" fill="#c8c8cc"/>
<circle cx="402.1" cy="500.9" r="0.7" fill="#c8c8cc"/>
<circle cx="396.5" cy="501.2" r="0.7" fill="#c8c8cc"/>
<circle cx="387.8" cy="502.6" r="0.7" fill="#c8c8cc"/>
<circle cx="387.8" cy="501.2" r="0.7" fill="#c8c8cc"/>
<circle cx="385.9" cy="502.1" r="0.7" fill="#c8c8cc"/>
<circle cx="402.2" cy="500.8" r="0.7" fill="#c8c8cc"/>
<circle cx="379.9" cy="501.7" r="0.7" fill="#c8c8cc"/>
<circle cx="384.8" cy="502.3" r="0.7" fill="#c8c8cc"/>
<circle cx="408.7" cy="501.9" r="0.7" fill="#c8c8cc"/>
<circle cx="383.3" cy="500.8" r="0.7" fill="#c8c8cc"/>
<circle cx="413.0" cy="500.8" r="0.7" fill="#c8c8cc"/>
<circle cx="380.7" cy="502.4" r="0.7" fill="#c8c8cc"/>
<circle cx="381.1" cy="499.1" r="0.7" fill="#c8c8cc"/>
<circle cx="392.8" cy="502.0" r="0.7" fill="#c8c8cc"/>
<circle cx="392.5" cy="501.3" r="0.7" fill="#c8c8cc"/>
<circle cx="381.4" cy="502.4" r="0.7" fill="#c8c8cc"/>
<circle cx="411.7" cy="499.0" r="0.7" fill="#c8c8cc"/>
<circle cx="391.8" cy="500.4" r="0.7" fill="#c8c8cc"/>
<circle cx="395.0" cy="499.5" r="0.7" fill="#c8c8cc"/>
<circle cx="392.1" cy="502.4" r="0.7" fill="#c8c8cc"/>
<circle cx="386.2" cy="501.2" r="0.7" fill="#c8c8cc"/>
<circle cx="404.1" cy="500.7" r="0.7" fill="#c8c8cc"/>
<circle cx="386.2" cy="501.8" r="0.7" fill="#c8c8cc"/>
<circle cx="379.6" cy="499.0" r="0.7" fill="#c8c8cc"/>
<circle cx="383.6" cy="502.4" r="0.7" fill="#c8c8cc"/>
<circle cx="389.0" cy="501.2" r="0.7" fill="#c8c8cc"/>
<circle cx="385.9" cy="501.6" r="0.7" fill="#c8c8cc"/>
<circle cx="390.6" cy="501.5" r="0.7" fill="#c8c8cc"/>
<circle cx="378.3" cy="500.2" r="0.7" fill="#c8c8cc"/>
<circle cx="377.1" cy="500.9" r="0.7" fill="#c8c8cc"/>
<circle cx="397.6" cy="501.2" r="0.7" fill="#c8c8cc"/>
<circle cx="388.6" cy="501.2" r="0.7" fill="#c8c8cc"/>
<circle cx="401.0" cy="501.5" r="0.7" fill="#c8c8cc"/>
<circle cx="385.1" cy="500.3" r="0.7" fill="#c8c8cc"/>
<circle cx="411.9" cy="500.1" r="0.7" fill="#c8c8cc"/>
<circle cx="375.9" cy="501.9" r="0.7" fill="#c8c8cc"/>
<circle cx="384.5" cy="502.5" r="0.7" fill="#c8c8cc"/>
<circle cx="380.8" cy="501.8" r="0.7" fill="#c8c8cc"/>
<circle cx="387.4" cy="499.7" r="0.7" fill="#c8c8cc"/>
<circle cx="394.6" cy="501.9" r="0.7" fill="#c8c8cc"/>
<circle cx="387.8" cy="501.4" r="0.7" fill="#c8c8cc"/>
<circle cx="385.2" cy="500.6" r="0.7" fill="#c8c8cc"/>
<circle cx="395.9" cy="499.4" r="0.7" fill="#c8c8cc"/>
<circle cx="390.1" cy="502.6" r="0.7" fill="#c8c8cc"/>
<circle cx="371.1" cy="502.0" r="0.7" fill="#c8c8cc"/>
<circle cx="370.0" cy="500.1" r="0.7" fill="#c8c8cc"/>
<circle cx="381.1" cy="502.6" r="0.7" fill="#c8c8cc"/>
<circle cx="373.8" cy="501.8" r="0.7" fill="#c8c8cc"/>
<circle cx="378.1" cy="500.8" r="0.7" fill="#c8c8cc"/>
<circle cx="390.0" cy="500.7" r="0.7" fill="#c8c8cc"/>
<circle cx="367.9" cy="502.5" r="0.7" fill="#c8c8cc"/>
<circle cx="382.6" cy="500.8" r="0.7" fill="#c8c8cc"/>
<circle cx="393.5" cy="502.3" r="0.7" fill="#c8c8cc"/>
<circle cx="388.6" cy="501.6" r="0.7" fill="#c8c8cc"/>
<circle cx="381.7" cy="501.9" r="0.7" fill="#c8c8cc"/>
<circle cx="371.3" cy="501.6" r="0.7" fill="#c8c8cc"/>
<circle cx="391.6" cy="499.8" r="0.7" fill="#c8c8cc"/>
<circle cx="388.5" cy="500.7" r="0.7" fill="#c8c8cc"/>
<circle cx="389.9" cy="500.5" r="0.7" fill="#c8c8cc"/>
<circle cx="384.8" cy="502.6" r="0.7" fill="#c8c8cc"/>
<circle cx="374.3" cy="501.1" r="0.7" fill="#c8c8cc"/>
<circle cx="369.0" cy="501.2" r="0.7" fill="#c8c8cc"/>
<circle cx="390.0" cy="501.8" r="0.7" fill="#c8c8cc"/>
<circle cx="399.3" cy="502.4" r="0.7" fill="#c8c8cc"/>
<circle cx="377.5" cy="501.9" r="0.7" fill="#c8c8cc"/>
<circle cx="386.0" cy="499.7" r="0.7" fill="#c8c8cc"/>
<circle cx="407.3" cy="501.1" r="0.7" fill="#c8c8cc"/>
<circle cx="376.0" cy="501.8" r="0.7" fill="#c8c8cc"/>
<circle cx="389.4" cy="501.5" r="0.7" fill="#c8c8cc"/>
<circle cx="392.8" cy="501.5" r="0.7" fill="#c8c8cc"/>
<circle cx="396.0" cy="502.2" r="0.7" fill="#c8c8cc"/>
<circle cx="378.6" cy="501.2" r="0.7" fill="#c8c8cc"/>
<circle cx="384.1" cy="440.5" r="0.7" fill="#c8c8cc"/>
<circle cx="451.6" cy="475.0" r="0.7" fill="#c8c8cc"/>
<circle cx="446.0" cy="475.9" r="0.7" fill="#c8c8cc"/>
<circle cx="340.2" cy="489.7" r="0.7" fill="#c8c8cc"/>
</g>
<line x1="384.6" y1="431.5" x2="384.6" y2="505.3" stroke="#231f20" stroke-width="1.0" stroke-dasharray="2.2,1.4"/>
<line x1="391" y1="431.5" x2="391" y2="505.3" stroke="#231f20" stroke-width="1.0" stroke-dasharray="2.2,1.4"/>
<line x1="313.6" y1="496.9" x2="462" y2="496.9" stroke="#231f20" stroke-width="1.0" stroke-dasharray="2.2,1.4"/>
<circle cx="321.3" cy="483.8" r="1.5" fill="#27477f"/>
<circle cx="325.8" cy="484.8" r="1.5" fill="#27477f"/>
<circle cx="383.3" cy="491.1" r="1.5" fill="#27477f"/>
<circle cx="373.5" cy="492.6" r="1.5" fill="#27477f"/>
<circle cx="381.7" cy="493.8" r="1.5" fill="#27477f"/>
<circle cx="378.6" cy="491.3" r="1.5" fill="#27477f"/>
<circle cx="378.3" cy="490.3" r="1.5" fill="#27477f"/>
<circle cx="377.7" cy="495.0" r="1.5" fill="#27477f"/>
<circle cx="381.0" cy="494.4" r="1.5" fill="#27477f"/>
<circle cx="382.2" cy="496.4" r="1.5" fill="#27477f"/>
<circle cx="372.7" cy="496.2" r="1.5" fill="#27477f"/>
<circle cx="380.4" cy="496.4" r="1.5" fill="#27477f"/>
<circle cx="373.4" cy="494.7" r="1.5" fill="#27477f"/>
<circle cx="379.3" cy="495.9" r="1.5" fill="#27477f"/>
<circle cx="381.3" cy="495.2" r="1.5" fill="#27477f"/>
<circle cx="379.7" cy="494.4" r="1.5" fill="#27477f"/>
<circle cx="381.7" cy="495.9" r="1.5" fill="#27477f"/>
<circle cx="362.2" cy="493.7" r="1.5" fill="#27477f"/>
<circle cx="383.2" cy="489.9" r="1.5" fill="#27477f"/>
<circle cx="383.5" cy="493.5" r="1.5" fill="#27477f"/>
<circle cx="379.4" cy="495.6" r="1.5" fill="#27477f"/>
<circle cx="368.9" cy="494.3" r="1.5" fill="#27477f"/>
<circle cx="380.1" cy="493.8" r="1.5" fill="#27477f"/>
<circle cx="374.9" cy="496.0" r="1.5" fill="#27477f"/>
<circle cx="377.5" cy="495.6" r="1.5" fill="#27477f"/>
<circle cx="382.7" cy="495.5" r="1.5" fill="#27477f"/>
<circle cx="378.4" cy="491.3" r="1.5" fill="#27477f"/>
<circle cx="378.2" cy="492.5" r="1.5" fill="#27477f"/>
<circle cx="378.4" cy="493.6" r="1.5" fill="#27477f"/>
<circle cx="374.0" cy="491.7" r="1.5" fill="#27477f"/>
<circle cx="375.5" cy="491.7" r="1.5" fill="#27477f"/>
<circle cx="382.8" cy="492.9" r="1.5" fill="#27477f"/>
<circle cx="380.7" cy="491.8" r="1.5" fill="#27477f"/>
<circle cx="381.8" cy="494.2" r="1.5" fill="#27477f"/>
<circle cx="382.4" cy="492.1" r="1.5" fill="#27477f"/>
<circle cx="381.5" cy="492.4" r="1.5" fill="#27477f"/>
<circle cx="374.0" cy="496.4" r="1.5" fill="#27477f"/>
<circle cx="381.2" cy="494.5" r="1.5" fill="#27477f"/>
<circle cx="382.0" cy="488.8" r="1.5" fill="#27477f"/>
<circle cx="381.9" cy="485.6" r="1.5" fill="#27477f"/>
<circle cx="382.2" cy="482.4" r="1.5" fill="#27477f"/>
<circle cx="382.0" cy="479.1" r="1.5" fill="#27477f"/>
<circle cx="382.0" cy="475.9" r="1.5" fill="#27477f"/>
<circle cx="381.9" cy="473.6" r="1.5" fill="#27477f"/>
<circle cx="358.2" cy="490.6" r="1.5" fill="#27477f"/>
<circle cx="361.6" cy="491.6" r="1.5" fill="#27477f"/>
<circle cx="358.2" cy="494.3" r="1.5" fill="#27477f"/>
<circle cx="367.2" cy="494.3" r="1.5" fill="#27477f"/>
<circle cx="370.6" cy="492.5" r="1.5" fill="#27477f"/>
<circle cx="374.0" cy="489.7" r="1.5" fill="#27477f"/>
<circle cx="376.2" cy="485.1" r="1.5" fill="#27477f"/>
<circle cx="377.4" cy="482.4" r="1.5" fill="#27477f"/>
<circle cx="365.0" cy="496.2" r="1.5" fill="#27477f"/>
<circle cx="371.8" cy="495.7" r="1.5" fill="#27477f"/>
<circle cx="378.5" cy="487.9" r="1.5" fill="#27477f"/>
<circle cx="380.8" cy="490.6" r="1.5" fill="#27477f"/>
<circle cx="394.7" cy="494.7" r="1.5" fill="#b0102e"/>
<circle cx="409.4" cy="492.7" r="1.5" fill="#b0102e"/>
<circle cx="393.2" cy="494.5" r="1.5" fill="#b0102e"/>
<circle cx="395.2" cy="495.4" r="1.5" fill="#b0102e"/>
<circle cx="400.3" cy="495.6" r="1.5" fill="#b0102e"/>
<circle cx="393.0" cy="492.2" r="1.5" fill="#b0102e"/>
<circle cx="393.2" cy="496.3" r="1.5" fill="#b0102e"/>
<circle cx="395.8" cy="494.2" r="1.5" fill="#b0102e"/>
<circle cx="409.6" cy="493.8" r="1.5" fill="#b0102e"/>
<circle cx="399.4" cy="492.4" r="1.5" fill="#b0102e"/>
<circle cx="394.8" cy="496.5" r="1.5" fill="#b0102e"/>
<circle cx="397.3" cy="495.4" r="1.5" fill="#b0102e"/>
<circle cx="397.0" cy="496.2" r="1.5" fill="#b0102e"/>
<circle cx="393.6" cy="496.2" r="1.5" fill="#b0102e"/>
<circle cx="395.5" cy="493.9" r="1.5" fill="#b0102e"/>
<circle cx="396.7" cy="496.2" r="1.5" fill="#b0102e"/>
<circle cx="393.6" cy="494.6" r="1.5" fill="#b0102e"/>
<circle cx="393.7" cy="492.6" r="1.5" fill="#b0102e"/>
<circle cx="395.6" cy="495.1" r="1.5" fill="#b0102e"/>
<circle cx="394.5" cy="492.3" r="1.5" fill="#b0102e"/>
<circle cx="399.7" cy="495.1" r="1.5" fill="#b0102e"/>
<circle cx="396.3" cy="495.1" r="1.5" fill="#b0102e"/>
<circle cx="393.9" cy="494.2" r="1.5" fill="#b0102e"/>
<circle cx="392.1" cy="495.8" r="1.5" fill="#b0102e"/>
<circle cx="405.6" cy="496.0" r="1.5" fill="#b0102e"/>
<circle cx="408.3" cy="494.6" r="1.5" fill="#b0102e"/>
<circle cx="399.9" cy="496.3" r="1.5" fill="#b0102e"/>
<circle cx="402.3" cy="491.2" r="1.5" fill="#b0102e"/>
<circle cx="394.7" cy="492.5" r="1.5" fill="#b0102e"/>
<circle cx="404.1" cy="490.7" r="1.5" fill="#b0102e"/>
<circle cx="396.5" cy="495.1" r="1.5" fill="#b0102e"/>
<circle cx="394.4" cy="495.7" r="1.5" fill="#b0102e"/>
<circle cx="400.5" cy="495.4" r="1.5" fill="#b0102e"/>
<circle cx="400.7" cy="495.6" r="1.5" fill="#b0102e"/>
<circle cx="397.0" cy="493.8" r="1.5" fill="#b0102e"/>
<circle cx="392.5" cy="495.0" r="1.5" fill="#b0102e"/>
<circle cx="400.8" cy="494.8" r="1.5" fill="#b0102e"/>
<circle cx="398.9" cy="493.1" r="1.5" fill="#b0102e"/>
<circle cx="391.7" cy="495.4" r="1.5" fill="#b0102e"/>
<circle cx="397.2" cy="494.2" r="1.5" fill="#b0102e"/>
<circle cx="399.3" cy="493.7" r="1.5" fill="#b0102e"/>
<circle cx="395.3" cy="493.3" r="1.5" fill="#b0102e"/>
<circle cx="392.1" cy="496.1" r="1.5" fill="#b0102e"/>
<circle cx="398.9" cy="495.0" r="1.5" fill="#b0102e"/>
<circle cx="400.9" cy="495.5" r="1.5" fill="#b0102e"/>
<circle cx="402.6" cy="495.5" r="1.5" fill="#b0102e"/>
<circle cx="401.2" cy="495.0" r="1.5" fill="#b0102e"/>
<circle cx="395.0" cy="494.7" r="1.5" fill="#b0102e"/>
<circle cx="400.7" cy="496.2" r="1.5" fill="#b0102e"/>
<circle cx="401.6" cy="494.4" r="1.5" fill="#b0102e"/>
<circle cx="392.6" cy="492.5" r="1.5" fill="#b0102e"/>
<circle cx="395.9" cy="493.8" r="1.5" fill="#b0102e"/>
<circle cx="410.3" cy="492.1" r="1.5" fill="#b0102e"/>
<circle cx="400.1" cy="493.9" r="1.5" fill="#b0102e"/>
<circle cx="407.7" cy="494.9" r="1.5" fill="#b0102e"/>
<circle cx="402.1" cy="463.0" r="1.5" fill="#b0102e"/>
<circle cx="392.0" cy="477.3" r="1.5" fill="#b0102e"/>
<circle cx="393.1" cy="474.1" r="1.5" fill="#b0102e"/>
<circle cx="395.4" cy="480.1" r="1.5" fill="#b0102e"/>
<circle cx="416.8" cy="487.9" r="1.5" fill="#b0102e"/>
<circle cx="430.2" cy="494.8" r="1.5" fill="#b0102e"/>
<circle cx="426.9" cy="494.8" r="1.5" fill="#b0102e"/>
<circle cx="404.4" cy="485.1" r="1.5" fill="#b0102e"/>
<circle cx="410.0" cy="492.5" r="1.5" fill="#b0102e"/>
<circle cx="401.0" cy="483.7" r="1.5" fill="#b0102e"/>
<circle cx="392.6" cy="483.3" r="1.5" fill="#b0102e"/>
<circle cx="394.2" cy="486.0" r="1.5" fill="#b0102e"/>
<circle cx="397.6" cy="487.4" r="1.5" fill="#b0102e"/>
<circle cx="420.1" cy="492.0" r="1.5" fill="#b0102e"/>
<circle cx="414.5" cy="493.4" r="1.5" fill="#b0102e"/>
<circle cx="406.6" cy="490.6" r="1.5" fill="#b0102e"/>
<rect x="313.6" y="431.4" width="148.4" height="73.9" fill="none" stroke="#231f20" stroke-width="1.2"/>
<line x1="311" y1="433.6" x2="313.6" y2="433.6" stroke="#231f20" stroke-width="1.0"/>
<text x="309.2" y="435.8" font-size="6.3" text-anchor="end" fill="#231f20">15</text>
<line x1="311" y1="456.6" x2="313.6" y2="456.6" stroke="#231f20" stroke-width="1.0"/>
<text x="309.2" y="458.8" font-size="6.3" text-anchor="end" fill="#231f20">10</text>
<line x1="311" y1="479.6" x2="313.6" y2="479.6" stroke="#231f20" stroke-width="1.0"/>
<text x="309.2" y="481.8" font-size="6.3" text-anchor="end" fill="#231f20">5</text>
<line x1="311" y1="502.6" x2="313.6" y2="502.6" stroke="#231f20" stroke-width="1.0"/>
<text x="309.2" y="504.8" font-size="6.3" text-anchor="end" fill="#231f20">0</text>
<line x1="320.0" y1="505.3" x2="320.0" y2="507.9" stroke="#231f20" stroke-width="1.0"/>
<text x="320.0" y="516.9" font-size="6.3" text-anchor="middle" fill="#231f20">-6</text>
<line x1="342.5" y1="505.3" x2="342.5" y2="507.9" stroke="#231f20" stroke-width="1.0"/>
<text x="342.5" y="516.9" font-size="6.3" text-anchor="middle" fill="#231f20">-4</text>
<line x1="365.0" y1="505.3" x2="365.0" y2="507.9" stroke="#231f20" stroke-width="1.0"/>
<text x="365.0" y="516.9" font-size="6.3" text-anchor="middle" fill="#231f20">-2</text>
<line x1="387.5" y1="505.3" x2="387.5" y2="507.9" stroke="#231f20" stroke-width="1.0"/>
<text x="387.5" y="516.9" font-size="6.3" text-anchor="middle" fill="#231f20">0</text>
<line x1="410.0" y1="505.3" x2="410.0" y2="507.9" stroke="#231f20" stroke-width="1.0"/>
<text x="410.0" y="516.9" font-size="6.3" text-anchor="middle" fill="#231f20">2</text>
<line x1="432.5" y1="505.3" x2="432.5" y2="507.9" stroke="#231f20" stroke-width="1.0"/>
<text x="432.5" y="516.9" font-size="6.3" text-anchor="middle" fill="#231f20">4</text>
<line x1="455.0" y1="505.3" x2="455.0" y2="507.9" stroke="#231f20" stroke-width="1.0"/>
<text x="455.0" y="516.9" font-size="6.3" text-anchor="middle" fill="#231f20">6</text>
<text transform="translate(297.4,467.9) rotate(-90)" font-size="7.4" text-anchor="middle" fill="#231f20" textLength="36.7" lengthAdjust="spacingAndGlyphs">-log10 (FDR)</text>
<text x="350.5" y="529.8" font-size="8.2" fill="#231f20" textLength="74" lengthAdjust="spacingAndGlyphs">Log2 fold change (KI/WT)</text>
<rect x="395.8" y="438" width="3.2" height="3.4" fill="#6b0a1e"/>
<text x="401.3" y="441.6" font-size="5.4" font-style="italic" fill="#231f20" textLength="14.4" lengthAdjust="spacingAndGlyphs">Mfed1</text>
<text x="351.7" y="471.2" font-size="6.2" font-style="italic" fill="#231f20" textLength="22.1" lengthAdjust="spacingAndGlyphs">Trp53bp1</text>
<text x="356.5" y="484.2" font-size="6.2" font-style="italic" fill="#231f20" textLength="7.7" lengthAdjust="spacingAndGlyphs">Erg</text>
<line x1="364.7" y1="484" x2="372.9" y2="488.4" stroke="#231f20" stroke-width="1.0"/>
<path d="M380.3,469.8 L383.7,473.2 M383.7,469.8 L380.3,473.2" stroke="#1a2a4a" stroke-width="1.1"/>
<text x="406.3" y="472.6" font-size="5.4" font-style="italic" fill="#231f20" textLength="27.4" lengthAdjust="spacingAndGlyphs">Hnrnpa2b1</text>
<line x1="405.4" y1="473" x2="395.8" y2="477" stroke="#231f20" stroke-width="0.9"/>
<text x="424.6" y="488" font-size="5.4" font-style="italic" fill="#231f20" textLength="9.6" lengthAdjust="spacingAndGlyphs">Mpo</text>
<line x1="420.8" y1="488" x2="406.3" y2="492.9" stroke="#231f20" stroke-width="0.9"/>
<rect x="0" y="0" width="1.4" height="538" fill="#000"/><rect x="0" y="0" width="520" height="1.1" fill="#000"/><rect x="518.5" y="0" width="1.5" height="538" fill="#000"/><rect x="0" y="536.5" width="520" height="1.5" fill="#000"/>
</svg>
</body></html>
